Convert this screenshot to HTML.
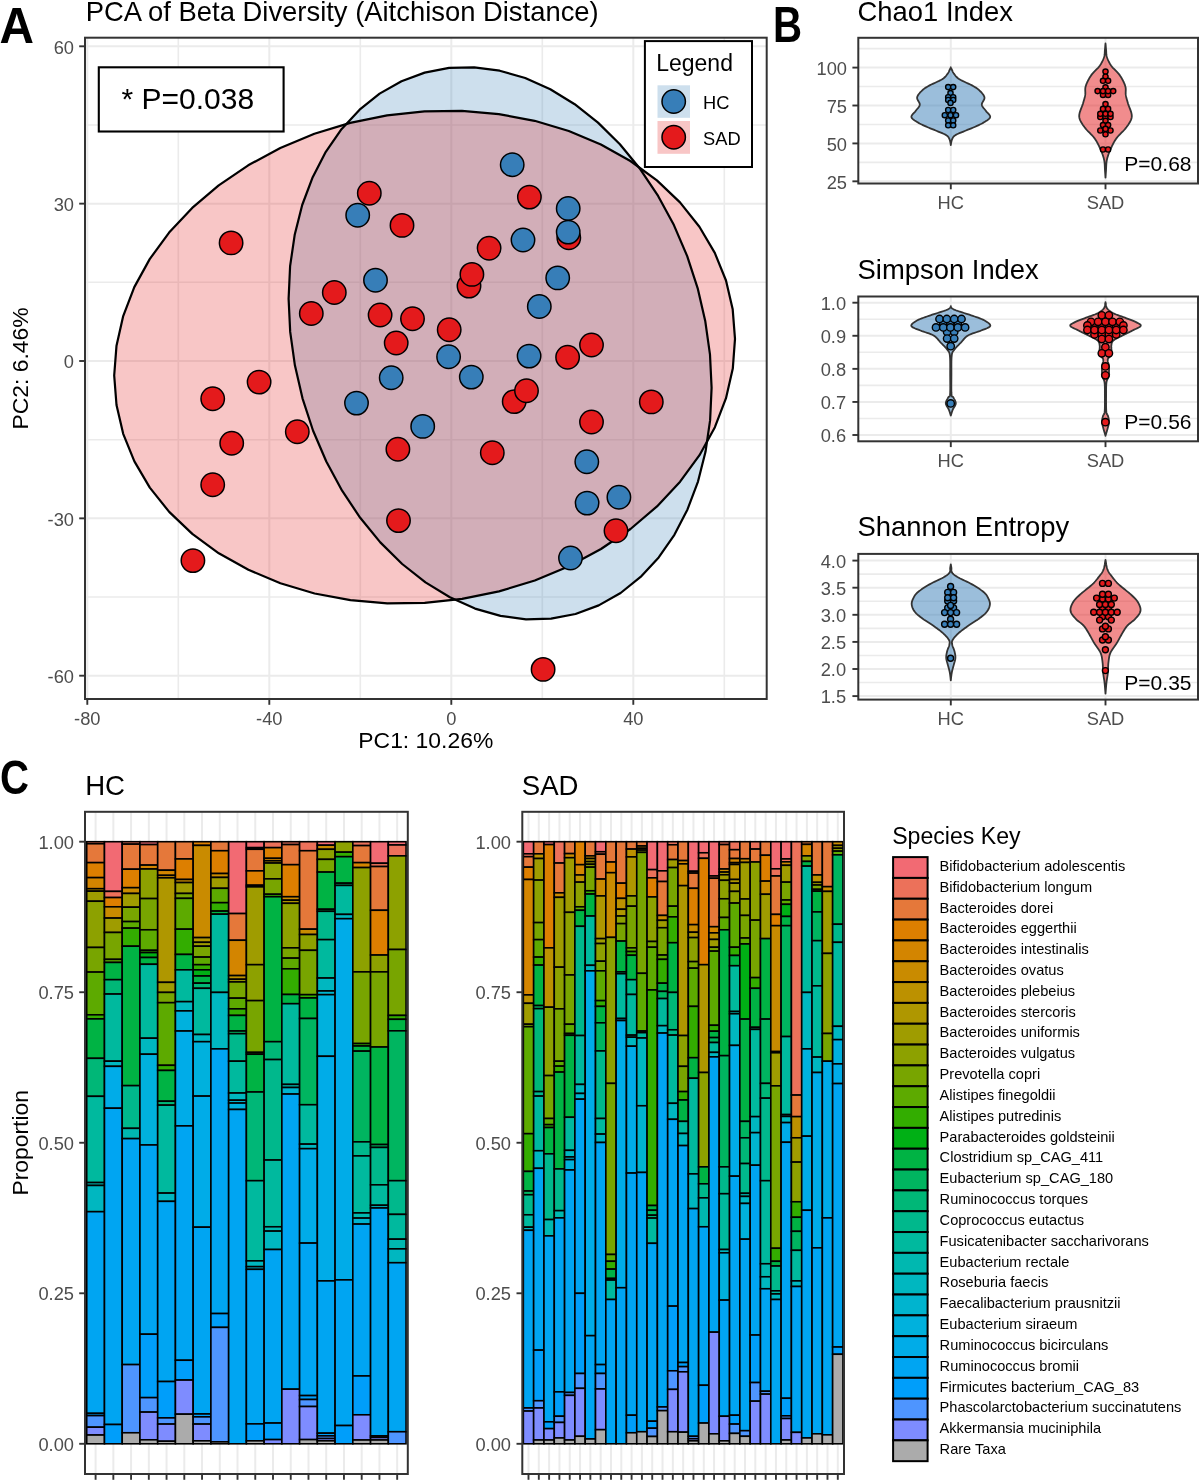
<!DOCTYPE html>
<html><head><meta charset="utf-8"><style>
html,body{margin:0;padding:0;background:#fff;}
svg{display:block;will-change:transform;}
text{font-family:"Liberation Sans",sans-serif;}
</style></head><body>
<svg width="1200" height="1480" viewBox="0 0 1200 1480" font-family="Liberation Sans, sans-serif">
<rect x="0" y="0" width="1200" height="1480" fill="#fff"/>
<rect x="85.0" y="37.7" width="681.7" height="661.3" fill="#fff"/>
<line x1="178.3" y1="37.7" x2="178.3" y2="699" stroke="#EBEBEB" stroke-width="1.6"/>
<line x1="360.3" y1="37.7" x2="360.3" y2="699" stroke="#EBEBEB" stroke-width="1.6"/>
<line x1="542.3" y1="37.7" x2="542.3" y2="699" stroke="#EBEBEB" stroke-width="1.6"/>
<line x1="724.3" y1="37.7" x2="724.3" y2="699" stroke="#EBEBEB" stroke-width="1.6"/>
<line x1="85" y1="124.97" x2="766.7" y2="124.97" stroke="#EBEBEB" stroke-width="1.6"/>
<line x1="85" y1="282.32" x2="766.7" y2="282.32" stroke="#EBEBEB" stroke-width="1.6"/>
<line x1="85" y1="439.68" x2="766.7" y2="439.68" stroke="#EBEBEB" stroke-width="1.6"/>
<line x1="85" y1="597.02" x2="766.7" y2="597.02" stroke="#EBEBEB" stroke-width="1.6"/>
<line x1="87.3" y1="37.7" x2="87.3" y2="699" stroke="#EBEBEB" stroke-width="2.0"/>
<line x1="269.3" y1="37.7" x2="269.3" y2="699" stroke="#EBEBEB" stroke-width="2.0"/>
<line x1="451.3" y1="37.7" x2="451.3" y2="699" stroke="#EBEBEB" stroke-width="2.0"/>
<line x1="633.3" y1="37.7" x2="633.3" y2="699" stroke="#EBEBEB" stroke-width="2.0"/>
<line x1="85" y1="46.3" x2="766.7" y2="46.3" stroke="#EBEBEB" stroke-width="2.0"/>
<line x1="85" y1="203.65" x2="766.7" y2="203.65" stroke="#EBEBEB" stroke-width="2.0"/>
<line x1="85" y1="361" x2="766.7" y2="361" stroke="#EBEBEB" stroke-width="2.0"/>
<line x1="85" y1="518.35" x2="766.7" y2="518.35" stroke="#EBEBEB" stroke-width="2.0"/>
<line x1="85" y1="675.7" x2="766.7" y2="675.7" stroke="#EBEBEB" stroke-width="2.0"/>
<polygon points="424.7,72.6 449.1,67.9 474.2,67.3 499.7,70.7 525.2,78.0 550.3,89.3 574.7,104.2 598.0,122.6 619.9,144.2 640.0,168.8 658.1,195.9 673.9,225.1 687.2,256.1 697.7,288.3 705.3,321.3 710.0,354.7 711.6,387.8 710.1,420.4 705.5,451.8 698.0,481.6 687.5,509.4 674.4,534.8 658.7,557.4 640.6,576.9 620.6,593.0 598.7,605.4 575.5,614.0 551.1,618.7 526.0,619.3 500.5,615.9 475.0,608.6 449.9,597.3 425.5,582.4 402.2,564.0 380.3,542.4 360.2,517.8 342.1,490.7 326.3,461.5 313.0,430.5 302.5,398.3 294.9,365.3 290.2,331.9 288.6,298.8 290.1,266.2 294.7,234.8 302.2,205.0 312.7,177.2 325.8,151.8 341.5,129.2 359.6,109.7 379.6,93.6 401.5,81.2" fill="#377EB8" fill-opacity="0.25"/>
<polygon points="116.5,405.0 114.2,375.5 116.5,345.7 123.2,316.1 134.3,287.1 149.7,259.1 169.1,232.6 192.2,207.9 218.7,185.3 248.2,165.3 280.3,148.0 314.4,133.8 350.2,122.9 387.1,115.4 424.5,111.4 461.9,110.9 498.8,114.1 534.6,120.8 568.8,131.0 600.9,144.5 630.4,161.0 656.9,180.4 680.0,202.4 699.4,226.7 714.8,252.9 726.0,280.5 732.7,309.3 735.0,338.8 732.8,368.6 726.0,398.2 714.9,427.2 699.5,455.2 680.1,481.7 657.0,506.4 630.5,529.0 601.0,549.0 569.0,566.3 534.8,580.5 499.0,591.4 462.1,598.9 424.7,602.9 387.3,603.4 350.4,600.2 314.6,593.5 280.4,583.3 248.4,569.8 218.8,553.3 192.3,533.9 169.2,511.9 149.8,487.6 134.4,461.4 123.2,433.8" fill="#E41A1C" fill-opacity="0.25"/>
<polygon points="424.7,72.6 449.1,67.9 474.2,67.3 499.7,70.7 525.2,78.0 550.3,89.3 574.7,104.2 598.0,122.6 619.9,144.2 640.0,168.8 658.1,195.9 673.9,225.1 687.2,256.1 697.7,288.3 705.3,321.3 710.0,354.7 711.6,387.8 710.1,420.4 705.5,451.8 698.0,481.6 687.5,509.4 674.4,534.8 658.7,557.4 640.6,576.9 620.6,593.0 598.7,605.4 575.5,614.0 551.1,618.7 526.0,619.3 500.5,615.9 475.0,608.6 449.9,597.3 425.5,582.4 402.2,564.0 380.3,542.4 360.2,517.8 342.1,490.7 326.3,461.5 313.0,430.5 302.5,398.3 294.9,365.3 290.2,331.9 288.6,298.8 290.1,266.2 294.7,234.8 302.2,205.0 312.7,177.2 325.8,151.8 341.5,129.2 359.6,109.7 379.6,93.6 401.5,81.2" fill="none" stroke="#000" stroke-width="2.2" stroke-linejoin="round"/>
<polygon points="116.5,405.0 114.2,375.5 116.5,345.7 123.2,316.1 134.3,287.1 149.7,259.1 169.1,232.6 192.2,207.9 218.7,185.3 248.2,165.3 280.3,148.0 314.4,133.8 350.2,122.9 387.1,115.4 424.5,111.4 461.9,110.9 498.8,114.1 534.6,120.8 568.8,131.0 600.9,144.5 630.4,161.0 656.9,180.4 680.0,202.4 699.4,226.7 714.8,252.9 726.0,280.5 732.7,309.3 735.0,338.8 732.8,368.6 726.0,398.2 714.9,427.2 699.5,455.2 680.1,481.7 657.0,506.4 630.5,529.0 601.0,549.0 569.0,566.3 534.8,580.5 499.0,591.4 462.1,598.9 424.7,602.9 387.3,603.4 350.4,600.2 314.6,593.5 280.4,583.3 248.4,569.8 218.8,553.3 192.3,533.9 169.2,511.9 149.8,487.6 134.4,461.4 123.2,433.8" fill="none" stroke="#000" stroke-width="2.2" stroke-linejoin="round"/>
<circle cx="231.1" cy="242.9" r="11.7" fill="#E41A1C" stroke="#000" stroke-width="1.5"/>
<circle cx="369.3" cy="193.3" r="11.7" fill="#E41A1C" stroke="#000" stroke-width="1.5"/>
<circle cx="402" cy="225.4" r="11.7" fill="#E41A1C" stroke="#000" stroke-width="1.5"/>
<circle cx="334.3" cy="292.5" r="11.7" fill="#E41A1C" stroke="#000" stroke-width="1.5"/>
<circle cx="311.3" cy="313.5" r="11.7" fill="#E41A1C" stroke="#000" stroke-width="1.5"/>
<circle cx="380.1" cy="315" r="11.7" fill="#E41A1C" stroke="#000" stroke-width="1.5"/>
<circle cx="412.5" cy="318.8" r="11.7" fill="#E41A1C" stroke="#000" stroke-width="1.5"/>
<circle cx="396.2" cy="343" r="11.7" fill="#E41A1C" stroke="#000" stroke-width="1.5"/>
<circle cx="259.1" cy="382.1" r="11.7" fill="#E41A1C" stroke="#000" stroke-width="1.5"/>
<circle cx="212.7" cy="398.7" r="11.7" fill="#E41A1C" stroke="#000" stroke-width="1.5"/>
<circle cx="231.7" cy="443.3" r="11.7" fill="#E41A1C" stroke="#000" stroke-width="1.5"/>
<circle cx="297.3" cy="431.7" r="11.7" fill="#E41A1C" stroke="#000" stroke-width="1.5"/>
<circle cx="212.7" cy="484.8" r="11.7" fill="#E41A1C" stroke="#000" stroke-width="1.5"/>
<circle cx="192.9" cy="560.6" r="11.7" fill="#E41A1C" stroke="#000" stroke-width="1.5"/>
<circle cx="397.9" cy="449.2" r="11.7" fill="#E41A1C" stroke="#000" stroke-width="1.5"/>
<circle cx="398.5" cy="520.6" r="11.7" fill="#E41A1C" stroke="#000" stroke-width="1.5"/>
<circle cx="529.4" cy="197.1" r="11.7" fill="#E41A1C" stroke="#000" stroke-width="1.5"/>
<circle cx="568.8" cy="237.7" r="11.7" fill="#E41A1C" stroke="#000" stroke-width="1.5"/>
<circle cx="489.1" cy="248.2" r="11.7" fill="#E41A1C" stroke="#000" stroke-width="1.5"/>
<circle cx="469" cy="286.1" r="11.7" fill="#E41A1C" stroke="#000" stroke-width="1.5"/>
<circle cx="471.9" cy="274.4" r="11.7" fill="#E41A1C" stroke="#000" stroke-width="1.5"/>
<circle cx="449.2" cy="329.8" r="11.7" fill="#E41A1C" stroke="#000" stroke-width="1.5"/>
<circle cx="591.5" cy="345" r="11.7" fill="#E41A1C" stroke="#000" stroke-width="1.5"/>
<circle cx="567.6" cy="357.3" r="11.7" fill="#E41A1C" stroke="#000" stroke-width="1.5"/>
<circle cx="514.2" cy="401.6" r="11.7" fill="#E41A1C" stroke="#000" stroke-width="1.5"/>
<circle cx="526.5" cy="390.8" r="11.7" fill="#E41A1C" stroke="#000" stroke-width="1.5"/>
<circle cx="651.3" cy="401.9" r="11.7" fill="#E41A1C" stroke="#000" stroke-width="1.5"/>
<circle cx="591.5" cy="422" r="11.7" fill="#E41A1C" stroke="#000" stroke-width="1.5"/>
<circle cx="492.3" cy="452.7" r="11.7" fill="#E41A1C" stroke="#000" stroke-width="1.5"/>
<circle cx="616" cy="530.8" r="11.7" fill="#E41A1C" stroke="#000" stroke-width="1.5"/>
<circle cx="543.1" cy="669.4" r="11.7" fill="#E41A1C" stroke="#000" stroke-width="1.5"/>
<circle cx="357.7" cy="215.2" r="11.7" fill="#377EB8" stroke="#000" stroke-width="1.5"/>
<circle cx="375.5" cy="280.2" r="11.7" fill="#377EB8" stroke="#000" stroke-width="1.5"/>
<circle cx="391.2" cy="377.7" r="11.7" fill="#377EB8" stroke="#000" stroke-width="1.5"/>
<circle cx="356.5" cy="403.1" r="11.7" fill="#377EB8" stroke="#000" stroke-width="1.5"/>
<circle cx="422.7" cy="426.4" r="11.7" fill="#377EB8" stroke="#000" stroke-width="1.5"/>
<circle cx="512.2" cy="164.7" r="11.7" fill="#377EB8" stroke="#000" stroke-width="1.5"/>
<circle cx="568.2" cy="208.5" r="11.7" fill="#377EB8" stroke="#000" stroke-width="1.5"/>
<circle cx="568.2" cy="232.1" r="11.7" fill="#377EB8" stroke="#000" stroke-width="1.5"/>
<circle cx="523" cy="240" r="11.7" fill="#377EB8" stroke="#000" stroke-width="1.5"/>
<circle cx="557.7" cy="277.9" r="11.7" fill="#377EB8" stroke="#000" stroke-width="1.5"/>
<circle cx="539.3" cy="306.5" r="11.7" fill="#377EB8" stroke="#000" stroke-width="1.5"/>
<circle cx="448.6" cy="356.7" r="11.7" fill="#377EB8" stroke="#000" stroke-width="1.5"/>
<circle cx="529.1" cy="356.1" r="11.7" fill="#377EB8" stroke="#000" stroke-width="1.5"/>
<circle cx="471.3" cy="377.1" r="11.7" fill="#377EB8" stroke="#000" stroke-width="1.5"/>
<circle cx="586.8" cy="461.7" r="11.7" fill="#377EB8" stroke="#000" stroke-width="1.5"/>
<circle cx="618.9" cy="497.3" r="11.7" fill="#377EB8" stroke="#000" stroke-width="1.5"/>
<circle cx="587.1" cy="503.1" r="11.7" fill="#377EB8" stroke="#000" stroke-width="1.5"/>
<circle cx="570.5" cy="558" r="11.7" fill="#377EB8" stroke="#000" stroke-width="1.5"/>
<rect x="98.8" y="67.3" width="184.8" height="64.2" fill="#fff" stroke="#000" stroke-width="2.1"/>
<text x="121.5" y="109.3" font-size="30" text-anchor="start" fill="#000" >* P=0.038</text>
<rect x="644.9" y="41.1" width="107.1" height="125.9" fill="#fff" stroke="#000" stroke-width="2.0"/>
<text x="656.2" y="71" font-size="23" text-anchor="start" fill="#000" >Legend</text>
<rect x="657.5" y="85.3" width="32.5" height="32.5" fill="#CDDFED"/>
<rect x="657.5" y="121" width="32.5" height="32.8" fill="#F8C6C6"/>
<circle cx="673.7" cy="101.5" r="11.7" fill="#377EB8" stroke="#000" stroke-width="1.5"/>
<circle cx="673.7" cy="137.3" r="11.7" fill="#E41A1C" stroke="#000" stroke-width="1.5"/>
<text x="703" y="108.8" font-size="18.3" text-anchor="start" fill="#000" >HC</text>
<text x="703" y="144.5" font-size="18.3" text-anchor="start" fill="#000" >SAD</text>
<rect x="85.0" y="37.7" width="681.7" height="661.3" fill="none" stroke="#333333" stroke-width="2.0"/>
<line x1="79.2" y1="46.3" x2="85" y2="46.3" stroke="#333333" stroke-width="1.9"/>
<text x="74" y="53.5" font-size="18.3" text-anchor="end" fill="#4D4D4D" >60</text>
<line x1="79.2" y1="203.65" x2="85" y2="203.65" stroke="#333333" stroke-width="1.9"/>
<text x="74" y="210.85" font-size="18.3" text-anchor="end" fill="#4D4D4D" >30</text>
<line x1="79.2" y1="361" x2="85" y2="361" stroke="#333333" stroke-width="1.9"/>
<text x="74" y="368.2" font-size="18.3" text-anchor="end" fill="#4D4D4D" >0</text>
<line x1="79.2" y1="518.35" x2="85" y2="518.35" stroke="#333333" stroke-width="1.9"/>
<text x="74" y="525.55" font-size="18.3" text-anchor="end" fill="#4D4D4D" >-30</text>
<line x1="79.2" y1="675.7" x2="85" y2="675.7" stroke="#333333" stroke-width="1.9"/>
<text x="74" y="682.9" font-size="18.3" text-anchor="end" fill="#4D4D4D" >-60</text>
<line x1="87.3" y1="699" x2="87.3" y2="704.8" stroke="#333333" stroke-width="1.9"/>
<text x="87.3" y="725" font-size="18.3" text-anchor="middle" fill="#4D4D4D" >-80</text>
<line x1="269.3" y1="699" x2="269.3" y2="704.8" stroke="#333333" stroke-width="1.9"/>
<text x="269.3" y="725" font-size="18.3" text-anchor="middle" fill="#4D4D4D" >-40</text>
<line x1="451.3" y1="699" x2="451.3" y2="704.8" stroke="#333333" stroke-width="1.9"/>
<text x="451.3" y="725" font-size="18.3" text-anchor="middle" fill="#4D4D4D" >0</text>
<line x1="633.3" y1="699" x2="633.3" y2="704.8" stroke="#333333" stroke-width="1.9"/>
<text x="633.3" y="725" font-size="18.3" text-anchor="middle" fill="#4D4D4D" >40</text>
<text x="425.8" y="747.7" font-size="22.9" text-anchor="middle" fill="#000" >PC1: 10.26%</text>
<text transform="translate(28.2,368.4) rotate(-90)" font-size="22.9" text-anchor="middle" fill="#000">PC2: 6.46%</text>
<text x="85.7" y="20.7" font-size="27.4" text-anchor="start" fill="#000" >PCA of Beta Diversity (Aitchison Distance)</text>
<text x="0" y="0" font-size="50.8" font-weight="bold" fill="#000" transform="translate(-0.5,42.5) scale(0.94,1)">A</text>
<rect x="858.3" y="37.8" width="339.70000000000005" height="145.7" fill="#fff"/>
<line x1="858.3" y1="48.64" x2="1198" y2="48.64" stroke="#EBEBEB" stroke-width="1.6"/>
<line x1="858.3" y1="86.55" x2="1198" y2="86.55" stroke="#EBEBEB" stroke-width="1.6"/>
<line x1="858.3" y1="124.47" x2="1198" y2="124.47" stroke="#EBEBEB" stroke-width="1.6"/>
<line x1="858.3" y1="162.38" x2="1198" y2="162.38" stroke="#EBEBEB" stroke-width="1.6"/>
<line x1="858.3" y1="67.6" x2="1198" y2="67.6" stroke="#EBEBEB" stroke-width="2.0"/>
<line x1="858.3" y1="105.51" x2="1198" y2="105.51" stroke="#EBEBEB" stroke-width="2.0"/>
<line x1="858.3" y1="143.42" x2="1198" y2="143.42" stroke="#EBEBEB" stroke-width="2.0"/>
<line x1="858.3" y1="181.33" x2="1198" y2="181.33" stroke="#EBEBEB" stroke-width="2.0"/>
<line x1="950.8" y1="37.8" x2="950.8" y2="183.5" stroke="#EBEBEB" stroke-width="2.0"/>
<line x1="1105.5" y1="37.8" x2="1105.5" y2="183.5" stroke="#EBEBEB" stroke-width="2.0"/>
<text x="857.6" y="20.6" font-size="27.4" text-anchor="start" fill="#000" >Chao1 Index</text>
<polygon points="950.80,67.30 950.89,67.50 950.99,67.76 951.12,68.06 951.27,68.41 951.43,68.78 951.61,69.18 951.80,69.59 952.00,70.00 952.20,70.42 952.39,70.86 952.58,71.31 952.79,71.79 953.04,72.28 953.33,72.80 953.68,73.34 954.10,73.90 954.55,74.48 954.99,75.09 955.47,75.71 956.00,76.36 956.63,77.03 957.38,77.72 958.29,78.45 959.40,79.20 960.79,80.01 962.47,80.87 964.35,81.78 966.34,82.70 968.35,83.62 970.27,84.53 972.02,85.39 973.50,86.20 974.74,86.94 975.82,87.62 976.78,88.27 977.63,88.90 978.41,89.52 979.13,90.15 979.82,90.81 980.50,91.50 981.19,92.23 981.87,92.97 982.51,93.72 983.11,94.49 983.62,95.28 984.04,96.07 984.34,96.88 984.50,97.70 984.44,98.54 984.14,99.41 983.68,100.31 983.15,101.21 982.62,102.11 982.16,102.99 981.86,103.86 981.80,104.70 981.98,105.50 982.32,106.29 982.79,107.05 983.36,107.80 983.98,108.54 984.61,109.29 985.24,110.04 985.80,110.80 986.40,111.58 987.12,112.36 987.89,113.16 988.64,113.95 989.31,114.74 989.84,115.51 990.15,116.27 990.20,117.00 989.95,117.71 989.46,118.41 988.77,119.09 987.92,119.76 986.98,120.42 985.98,121.06 984.97,121.69 984.00,122.30 983.04,122.89 982.02,123.47 980.97,124.02 979.87,124.56 978.74,125.10 977.58,125.63 976.40,126.16 975.20,126.70 973.96,127.24 972.68,127.78 971.35,128.32 970.01,128.85 968.65,129.38 967.31,129.92 965.99,130.46 964.70,131.00 963.40,131.55 962.06,132.09 960.71,132.64 959.39,133.19 958.12,133.75 956.94,134.30 955.89,134.85 955.00,135.40 954.28,135.94 953.71,136.48 953.27,137.01 952.91,137.54 952.63,138.08 952.38,138.64 952.15,139.21 951.90,139.80 951.66,140.46 951.46,141.19 951.29,141.95 951.16,142.73 951.04,143.46 950.95,144.13 950.87,144.68 950.80,145.10 950.80,145.10 950.73,144.68 950.65,144.13 950.56,143.46 950.44,142.73 950.31,141.95 950.14,141.19 949.94,140.46 949.70,139.80 949.45,139.21 949.22,138.64 948.97,138.08 948.69,137.54 948.33,137.01 947.89,136.48 947.32,135.94 946.60,135.40 945.71,134.85 944.66,134.30 943.48,133.75 942.21,133.19 940.89,132.64 939.54,132.09 938.20,131.55 936.90,131.00 935.61,130.46 934.29,129.92 932.95,129.38 931.59,128.85 930.25,128.32 928.92,127.78 927.64,127.24 926.40,126.70 925.20,126.16 924.02,125.63 922.86,125.10 921.73,124.56 920.63,124.02 919.58,123.47 918.56,122.89 917.60,122.30 916.63,121.69 915.62,121.06 914.62,120.42 913.67,119.76 912.83,119.09 912.14,118.41 911.65,117.71 911.40,117.00 911.45,116.27 911.76,115.51 912.29,114.74 912.96,113.95 913.71,113.16 914.48,112.36 915.20,111.58 915.80,110.80 916.36,110.04 916.99,109.29 917.62,108.54 918.24,107.80 918.81,107.05 919.28,106.29 919.62,105.50 919.80,104.70 919.74,103.86 919.44,102.99 918.98,102.11 918.45,101.21 917.92,100.31 917.46,99.41 917.16,98.54 917.10,97.70 917.26,96.88 917.56,96.07 917.98,95.28 918.49,94.49 919.09,93.72 919.73,92.97 920.41,92.23 921.10,91.50 921.78,90.81 922.47,90.15 923.19,89.52 923.97,88.90 924.82,88.27 925.78,87.62 926.86,86.94 928.10,86.20 929.58,85.39 931.33,84.53 933.25,83.62 935.26,82.70 937.25,81.78 939.13,80.87 940.81,80.01 942.20,79.20 943.31,78.45 944.22,77.72 944.97,77.03 945.60,76.36 946.13,75.71 946.61,75.09 947.05,74.48 947.50,73.90 947.92,73.34 948.27,72.80 948.56,72.28 948.81,71.79 949.02,71.31 949.21,70.86 949.40,70.42 949.60,70.00 949.80,69.59 949.99,69.18 950.17,68.78 950.33,68.41 950.48,68.06 950.61,67.76 950.71,67.50 950.80,67.30" fill="#377EB8" fill-opacity="0.5" stroke="#333333" stroke-width="1.8" stroke-linejoin="round"/>
<polygon points="1105.50,43.50 1105.54,44.00 1105.60,44.66 1105.67,45.44 1105.75,46.31 1105.83,47.24 1105.92,48.19 1106.01,49.12 1106.10,50.00 1106.17,50.84 1106.20,51.67 1106.23,52.51 1106.27,53.36 1106.33,54.23 1106.45,55.12 1106.63,56.04 1106.90,57.00 1107.24,58.00 1107.63,59.03 1108.06,60.09 1108.56,61.18 1109.11,62.29 1109.73,63.41 1110.43,64.55 1111.20,65.70 1112.10,66.86 1113.14,68.03 1114.29,69.22 1115.48,70.42 1116.69,71.64 1117.85,72.87 1118.94,74.13 1119.90,75.40 1120.77,76.71 1121.60,78.07 1122.38,79.46 1123.11,80.86 1123.78,82.26 1124.37,83.62 1124.88,84.94 1125.30,86.20 1125.59,87.39 1125.73,88.53 1125.77,89.62 1125.75,90.69 1125.70,91.74 1125.67,92.78 1125.69,93.83 1125.80,94.90 1125.98,95.95 1126.19,96.95 1126.43,97.94 1126.69,98.93 1126.98,99.96 1127.30,101.04 1127.64,102.22 1128.00,103.50 1128.46,104.93 1129.05,106.49 1129.71,108.15 1130.38,109.86 1130.98,111.59 1131.46,113.30 1131.75,114.95 1131.80,116.50 1131.60,117.96 1131.20,119.35 1130.64,120.71 1129.95,122.04 1129.15,123.35 1128.28,124.65 1127.35,125.97 1126.40,127.30 1125.36,128.65 1124.17,130.00 1122.88,131.35 1121.53,132.70 1120.18,134.05 1118.88,135.40 1117.67,136.75 1116.60,138.10 1115.66,139.45 1114.80,140.80 1114.01,142.15 1113.28,143.50 1112.59,144.85 1111.94,146.20 1111.31,147.55 1110.70,148.90 1110.10,150.25 1109.53,151.60 1108.99,152.95 1108.49,154.30 1108.02,155.65 1107.60,157.00 1107.22,158.35 1106.90,159.70 1106.65,161.08 1106.46,162.49 1106.33,163.91 1106.24,165.33 1106.18,166.72 1106.13,168.06 1106.07,169.33 1106.00,170.50 1105.91,171.61 1105.84,172.70 1105.76,173.75 1105.69,174.72 1105.63,175.62 1105.58,176.41 1105.54,177.08 1105.50,177.60 1105.50,177.60 1105.46,177.08 1105.42,176.41 1105.37,175.62 1105.31,174.72 1105.24,173.75 1105.16,172.70 1105.09,171.61 1105.00,170.50 1104.93,169.33 1104.87,168.06 1104.82,166.72 1104.76,165.33 1104.67,163.91 1104.54,162.49 1104.35,161.08 1104.10,159.70 1103.78,158.35 1103.40,157.00 1102.98,155.65 1102.51,154.30 1102.01,152.95 1101.47,151.60 1100.90,150.25 1100.30,148.90 1099.69,147.55 1099.06,146.20 1098.41,144.85 1097.72,143.50 1096.99,142.15 1096.20,140.80 1095.34,139.45 1094.40,138.10 1093.33,136.75 1092.12,135.40 1090.82,134.05 1089.47,132.70 1088.12,131.35 1086.83,130.00 1085.64,128.65 1084.60,127.30 1083.65,125.97 1082.72,124.65 1081.85,123.35 1081.05,122.04 1080.36,120.71 1079.80,119.35 1079.40,117.96 1079.20,116.50 1079.25,114.95 1079.54,113.30 1080.02,111.59 1080.62,109.86 1081.29,108.15 1081.95,106.49 1082.54,104.93 1083.00,103.50 1083.36,102.22 1083.70,101.04 1084.02,99.96 1084.31,98.93 1084.57,97.94 1084.81,96.95 1085.02,95.95 1085.20,94.90 1085.31,93.83 1085.33,92.78 1085.30,91.74 1085.25,90.69 1085.23,89.62 1085.27,88.53 1085.41,87.39 1085.70,86.20 1086.12,84.94 1086.63,83.62 1087.22,82.26 1087.89,80.86 1088.62,79.46 1089.40,78.07 1090.23,76.71 1091.10,75.40 1092.06,74.13 1093.15,72.87 1094.31,71.64 1095.52,70.42 1096.71,69.22 1097.86,68.03 1098.90,66.86 1099.80,65.70 1100.57,64.55 1101.27,63.41 1101.89,62.29 1102.44,61.18 1102.94,60.09 1103.37,59.03 1103.76,58.00 1104.10,57.00 1104.37,56.04 1104.55,55.12 1104.67,54.23 1104.73,53.36 1104.77,52.51 1104.80,51.67 1104.83,50.84 1104.90,50.00 1104.99,49.12 1105.08,48.19 1105.17,47.24 1105.25,46.31 1105.33,45.44 1105.40,44.66 1105.46,44.00 1105.50,43.50" fill="#E41A1C" fill-opacity="0.5" stroke="#333333" stroke-width="1.8" stroke-linejoin="round"/>
<circle cx="948.2" cy="87.1" r="2.6" fill="#377EB8" stroke="#000" stroke-width="1.4"/>
<circle cx="953.2" cy="87.1" r="2.6" fill="#377EB8" stroke="#000" stroke-width="1.4"/>
<circle cx="950.5" cy="93.1" r="2.6" fill="#377EB8" stroke="#000" stroke-width="1.4"/>
<circle cx="948.2" cy="97.2" r="2.6" fill="#377EB8" stroke="#000" stroke-width="1.4"/>
<circle cx="953.2" cy="97.2" r="2.6" fill="#377EB8" stroke="#000" stroke-width="1.4"/>
<circle cx="948.2" cy="100" r="2.6" fill="#377EB8" stroke="#000" stroke-width="1.4"/>
<circle cx="953.2" cy="100" r="2.6" fill="#377EB8" stroke="#000" stroke-width="1.4"/>
<circle cx="950.5" cy="102.9" r="2.6" fill="#377EB8" stroke="#000" stroke-width="1.4"/>
<circle cx="948.2" cy="110" r="2.6" fill="#377EB8" stroke="#000" stroke-width="1.4"/>
<circle cx="953.2" cy="110" r="2.6" fill="#377EB8" stroke="#000" stroke-width="1.4"/>
<circle cx="944.8" cy="115.2" r="2.6" fill="#377EB8" stroke="#000" stroke-width="1.4"/>
<circle cx="950.5" cy="115.2" r="2.6" fill="#377EB8" stroke="#000" stroke-width="1.4"/>
<circle cx="956" cy="115.2" r="2.6" fill="#377EB8" stroke="#000" stroke-width="1.4"/>
<circle cx="948.2" cy="120.5" r="2.6" fill="#377EB8" stroke="#000" stroke-width="1.4"/>
<circle cx="953.2" cy="120.5" r="2.6" fill="#377EB8" stroke="#000" stroke-width="1.4"/>
<circle cx="948.2" cy="125.3" r="2.6" fill="#377EB8" stroke="#000" stroke-width="1.4"/>
<circle cx="953.2" cy="125.3" r="2.6" fill="#377EB8" stroke="#000" stroke-width="1.4"/>
<circle cx="1105.5" cy="71.6" r="2.6" fill="#E41A1C" stroke="#000" stroke-width="1.4"/>
<circle cx="1105.5" cy="76.7" r="2.6" fill="#E41A1C" stroke="#000" stroke-width="1.4"/>
<circle cx="1103" cy="80.8" r="2.6" fill="#E41A1C" stroke="#000" stroke-width="1.4"/>
<circle cx="1108.1" cy="80.8" r="2.6" fill="#E41A1C" stroke="#000" stroke-width="1.4"/>
<circle cx="1105.5" cy="87.3" r="2.6" fill="#E41A1C" stroke="#000" stroke-width="1.4"/>
<circle cx="1103" cy="94.9" r="2.6" fill="#E41A1C" stroke="#000" stroke-width="1.4"/>
<circle cx="1108.1" cy="94.9" r="2.6" fill="#E41A1C" stroke="#000" stroke-width="1.4"/>
<circle cx="1097.6" cy="91.1" r="2.6" fill="#E41A1C" stroke="#000" stroke-width="1.4"/>
<circle cx="1103" cy="91.1" r="2.6" fill="#E41A1C" stroke="#000" stroke-width="1.4"/>
<circle cx="1108.1" cy="91.1" r="2.6" fill="#E41A1C" stroke="#000" stroke-width="1.4"/>
<circle cx="1113.2" cy="91.1" r="2.6" fill="#E41A1C" stroke="#000" stroke-width="1.4"/>
<circle cx="1105.5" cy="104.1" r="2.6" fill="#E41A1C" stroke="#000" stroke-width="1.4"/>
<circle cx="1103" cy="108.9" r="2.6" fill="#E41A1C" stroke="#000" stroke-width="1.4"/>
<circle cx="1108.1" cy="108.9" r="2.6" fill="#E41A1C" stroke="#000" stroke-width="1.4"/>
<circle cx="1100.3" cy="117" r="2.6" fill="#E41A1C" stroke="#000" stroke-width="1.4"/>
<circle cx="1105.5" cy="117" r="2.6" fill="#E41A1C" stroke="#000" stroke-width="1.4"/>
<circle cx="1110.5" cy="117" r="2.6" fill="#E41A1C" stroke="#000" stroke-width="1.4"/>
<circle cx="1100.3" cy="113.8" r="2.6" fill="#E41A1C" stroke="#000" stroke-width="1.4"/>
<circle cx="1105.5" cy="113.8" r="2.6" fill="#E41A1C" stroke="#000" stroke-width="1.4"/>
<circle cx="1110.5" cy="113.8" r="2.6" fill="#E41A1C" stroke="#000" stroke-width="1.4"/>
<circle cx="1105.5" cy="120.8" r="2.6" fill="#E41A1C" stroke="#000" stroke-width="1.4"/>
<circle cx="1103" cy="125.1" r="2.6" fill="#E41A1C" stroke="#000" stroke-width="1.4"/>
<circle cx="1108.1" cy="125.1" r="2.6" fill="#E41A1C" stroke="#000" stroke-width="1.4"/>
<circle cx="1100.3" cy="130.5" r="2.6" fill="#E41A1C" stroke="#000" stroke-width="1.4"/>
<circle cx="1110.5" cy="130.5" r="2.6" fill="#E41A1C" stroke="#000" stroke-width="1.4"/>
<circle cx="1105.5" cy="128.9" r="2.6" fill="#E41A1C" stroke="#000" stroke-width="1.4"/>
<circle cx="1105.5" cy="134.3" r="2.6" fill="#E41A1C" stroke="#000" stroke-width="1.4"/>
<circle cx="1103" cy="149.5" r="2.6" fill="#E41A1C" stroke="#000" stroke-width="1.4"/>
<circle cx="1108.1" cy="149.5" r="2.6" fill="#E41A1C" stroke="#000" stroke-width="1.4"/>
<rect x="858.3" y="37.8" width="339.70000000000005" height="145.7" fill="none" stroke="#333333" stroke-width="2.0"/>
<line x1="852.4" y1="67.6" x2="858.3" y2="67.6" stroke="#333333" stroke-width="1.9"/>
<text x="847" y="74.8" font-size="18.3" text-anchor="end" fill="#4D4D4D" >100</text>
<line x1="852.4" y1="105.51" x2="858.3" y2="105.51" stroke="#333333" stroke-width="1.9"/>
<text x="847" y="112.71" font-size="18.3" text-anchor="end" fill="#4D4D4D" >75</text>
<line x1="852.4" y1="143.42" x2="858.3" y2="143.42" stroke="#333333" stroke-width="1.9"/>
<text x="847" y="150.62" font-size="18.3" text-anchor="end" fill="#4D4D4D" >50</text>
<line x1="852.4" y1="181.33" x2="858.3" y2="181.33" stroke="#333333" stroke-width="1.9"/>
<text x="847" y="188.53" font-size="18.3" text-anchor="end" fill="#4D4D4D" >25</text>
<line x1="950.8" y1="183.5" x2="950.8" y2="189.3" stroke="#333333" stroke-width="1.9"/>
<text x="950.8" y="208.6" font-size="18.3" text-anchor="middle" fill="#4D4D4D" >HC</text>
<line x1="1105.5" y1="183.5" x2="1105.5" y2="189.3" stroke="#333333" stroke-width="1.9"/>
<text x="1105.5" y="208.6" font-size="18.3" text-anchor="middle" fill="#4D4D4D" >SAD</text>
<text x="1191.5" y="171.3" font-size="21" text-anchor="end" fill="#000" >P=0.68</text>
<rect x="858.3" y="296.5" width="339.70000000000005" height="144.8" fill="#fff"/>
<line x1="858.3" y1="319.24" x2="1198" y2="319.24" stroke="#EBEBEB" stroke-width="1.6"/>
<line x1="858.3" y1="352.31" x2="1198" y2="352.31" stroke="#EBEBEB" stroke-width="1.6"/>
<line x1="858.3" y1="385.39" x2="1198" y2="385.39" stroke="#EBEBEB" stroke-width="1.6"/>
<line x1="858.3" y1="418.46" x2="1198" y2="418.46" stroke="#EBEBEB" stroke-width="1.6"/>
<line x1="858.3" y1="302.7" x2="1198" y2="302.7" stroke="#EBEBEB" stroke-width="2.0"/>
<line x1="858.3" y1="335.77" x2="1198" y2="335.77" stroke="#EBEBEB" stroke-width="2.0"/>
<line x1="858.3" y1="368.85" x2="1198" y2="368.85" stroke="#EBEBEB" stroke-width="2.0"/>
<line x1="858.3" y1="401.93" x2="1198" y2="401.93" stroke="#EBEBEB" stroke-width="2.0"/>
<line x1="858.3" y1="435" x2="1198" y2="435" stroke="#EBEBEB" stroke-width="2.0"/>
<line x1="950.8" y1="296.5" x2="950.8" y2="441.3" stroke="#EBEBEB" stroke-width="2.0"/>
<line x1="1105.5" y1="296.5" x2="1105.5" y2="441.3" stroke="#EBEBEB" stroke-width="2.0"/>
<text x="857.6" y="278.6" font-size="27.4" text-anchor="start" fill="#000" >Simpson Index</text>
<polygon points="950.80,306.10 950.89,306.28 950.98,306.53 951.08,306.82 951.21,307.14 951.38,307.49 951.61,307.84 951.91,308.18 952.30,308.50 952.74,308.80 953.21,309.08 953.73,309.35 954.31,309.63 954.99,309.93 955.78,310.25 956.71,310.60 957.80,311.00 959.09,311.45 960.58,311.93 962.22,312.45 963.97,312.99 965.78,313.56 967.61,314.13 969.39,314.72 971.10,315.30 972.79,315.89 974.55,316.49 976.33,317.10 978.10,317.72 979.81,318.35 981.42,318.99 982.90,319.64 984.20,320.30 985.40,320.98 986.57,321.68 987.67,322.40 988.64,323.12 989.43,323.85 990.01,324.56 990.31,325.24 990.30,325.90 989.92,326.52 989.19,327.11 988.18,327.68 986.96,328.24 985.58,328.79 984.12,329.35 982.64,329.91 981.20,330.50 979.70,331.09 978.05,331.67 976.28,332.25 974.47,332.84 972.68,333.45 970.97,334.09 969.39,334.77 968.00,335.50 966.82,336.29 965.78,337.13 964.87,338.01 964.04,338.92 963.26,339.85 962.50,340.78 961.72,341.70 960.90,342.60 960.02,343.49 959.12,344.40 958.21,345.31 957.32,346.21 956.46,347.11 955.66,348.00 954.93,348.86 954.30,349.70 953.77,350.42 953.31,350.99 952.93,351.49 952.61,351.99 952.33,352.60 952.09,353.38 951.89,354.42 951.70,355.80 951.55,357.57 951.45,359.68 951.40,362.04 951.38,364.57 951.38,367.22 951.39,369.89 951.40,372.51 951.40,375.00 951.38,377.52 951.36,380.20 951.33,382.95 951.32,385.66 951.32,388.25 951.35,390.62 951.40,392.67 951.50,394.30 951.64,395.43 951.81,396.12 952.02,396.48 952.25,396.62 952.50,396.66 952.76,396.71 953.03,396.89 953.30,397.30 953.62,397.91 954.00,398.61 954.43,399.36 954.85,400.16 955.23,400.98 955.55,401.80 955.75,402.62 955.80,403.40 955.68,404.16 955.41,404.92 955.03,405.69 954.58,406.45 954.09,407.21 953.61,407.97 953.16,408.74 952.80,409.50 952.49,410.30 952.18,411.17 951.89,412.06 951.61,412.93 951.36,413.76 951.14,414.50 950.95,415.13 950.80,415.60 950.80,415.60 950.65,415.13 950.46,414.50 950.24,413.76 949.99,412.93 949.71,412.06 949.42,411.17 949.11,410.30 948.80,409.50 948.44,408.74 947.99,407.97 947.51,407.21 947.02,406.45 946.57,405.69 946.19,404.92 945.92,404.16 945.80,403.40 945.85,402.62 946.05,401.80 946.37,400.98 946.75,400.16 947.17,399.36 947.60,398.61 947.98,397.91 948.30,397.30 948.57,396.89 948.84,396.71 949.10,396.66 949.35,396.62 949.58,396.48 949.79,396.12 949.96,395.43 950.10,394.30 950.20,392.67 950.25,390.62 950.28,388.25 950.28,385.66 950.27,382.95 950.24,380.20 950.22,377.52 950.20,375.00 950.20,372.51 950.21,369.89 950.22,367.22 950.22,364.57 950.20,362.04 950.15,359.68 950.05,357.57 949.90,355.80 949.71,354.42 949.51,353.38 949.27,352.60 948.99,351.99 948.67,351.49 948.29,350.99 947.83,350.42 947.30,349.70 946.67,348.86 945.94,348.00 945.14,347.11 944.28,346.21 943.39,345.31 942.48,344.40 941.58,343.49 940.70,342.60 939.88,341.70 939.10,340.78 938.34,339.85 937.56,338.92 936.73,338.01 935.82,337.13 934.78,336.29 933.60,335.50 932.21,334.77 930.63,334.09 928.92,333.45 927.12,332.84 925.32,332.25 923.55,331.67 921.90,331.09 920.40,330.50 918.96,329.91 917.48,329.35 916.02,328.79 914.64,328.24 913.42,327.68 912.41,327.11 911.68,326.52 911.30,325.90 911.29,325.24 911.59,324.56 912.17,323.85 912.96,323.12 913.93,322.40 915.03,321.68 916.20,320.98 917.40,320.30 918.70,319.64 920.18,318.99 921.79,318.35 923.50,317.72 925.27,317.10 927.05,316.49 928.81,315.89 930.50,315.30 932.21,314.72 933.99,314.13 935.82,313.56 937.62,312.99 939.38,312.45 941.02,311.93 942.51,311.45 943.80,311.00 944.89,310.60 945.82,310.25 946.61,309.93 947.29,309.63 947.87,309.35 948.39,309.08 948.86,308.80 949.30,308.50 949.69,308.18 949.99,307.84 950.22,307.49 950.39,307.14 950.52,306.82 950.62,306.53 950.71,306.28 950.80,306.10" fill="#377EB8" fill-opacity="0.5" stroke="#333333" stroke-width="1.8" stroke-linejoin="round"/>
<polygon points="1105.50,302.10 1105.58,302.58 1105.66,303.22 1105.74,303.99 1105.86,304.84 1106.02,305.73 1106.25,306.61 1106.57,307.45 1107.00,308.20 1107.51,308.88 1108.08,309.52 1108.71,310.15 1109.42,310.76 1110.22,311.37 1111.13,311.97 1112.15,312.58 1113.30,313.20 1114.64,313.84 1116.19,314.49 1117.89,315.15 1119.67,315.81 1121.48,316.46 1123.26,317.09 1124.96,317.71 1126.50,318.30 1127.94,318.86 1129.36,319.41 1130.74,319.94 1132.06,320.45 1133.32,320.95 1134.48,321.44 1135.55,321.92 1136.50,322.40 1137.39,322.86 1138.25,323.29 1139.04,323.71 1139.74,324.12 1140.29,324.53 1140.66,324.96 1140.81,325.41 1140.70,325.90 1140.28,326.42 1139.56,326.96 1138.61,327.53 1137.49,328.11 1136.25,328.70 1134.97,329.30 1133.70,329.90 1132.50,330.50 1131.33,331.11 1130.11,331.72 1128.85,332.34 1127.56,332.97 1126.27,333.60 1124.99,334.23 1123.72,334.87 1122.50,335.50 1121.26,336.13 1119.97,336.77 1118.67,337.41 1117.40,338.04 1116.19,338.68 1115.08,339.32 1114.10,339.96 1113.30,340.60 1112.69,341.23 1112.24,341.85 1111.93,342.47 1111.71,343.09 1111.57,343.72 1111.48,344.36 1111.40,345.02 1111.30,345.70 1111.23,346.42 1111.24,347.18 1111.29,347.96 1111.37,348.75 1111.45,349.53 1111.52,350.30 1111.54,351.03 1111.50,351.70 1111.40,352.32 1111.26,352.91 1111.10,353.46 1110.91,353.99 1110.70,354.50 1110.47,355.00 1110.24,355.50 1110.00,356.00 1109.73,356.48 1109.40,356.93 1109.04,357.36 1108.67,357.79 1108.33,358.23 1108.04,358.70 1107.82,359.22 1107.70,359.80 1107.70,360.45 1107.80,361.16 1107.98,361.92 1108.21,362.71 1108.45,363.51 1108.68,364.32 1108.88,365.12 1109.00,365.90 1109.06,366.68 1109.09,367.47 1109.10,368.28 1109.08,369.08 1109.06,369.87 1109.03,370.62 1109.01,371.34 1109.00,372.00 1109.02,372.59 1109.06,373.10 1109.11,373.56 1109.16,374.00 1109.18,374.44 1109.18,374.90 1109.12,375.41 1109.00,376.00 1108.79,376.62 1108.50,377.22 1108.15,377.83 1107.78,378.49 1107.39,379.22 1107.04,380.05 1106.73,381.00 1106.50,382.10 1106.35,383.36 1106.24,384.76 1106.17,386.28 1106.13,387.90 1106.11,389.60 1106.11,391.36 1106.11,393.17 1106.10,395.00 1106.09,396.97 1106.07,399.15 1106.07,401.45 1106.07,403.77 1106.09,406.03 1106.13,408.13 1106.20,409.99 1106.30,411.50 1106.45,412.63 1106.64,413.44 1106.86,414.02 1107.10,414.43 1107.35,414.76 1107.59,415.08 1107.81,415.47 1108.00,416.00 1108.17,416.65 1108.35,417.33 1108.51,418.03 1108.67,418.74 1108.80,419.47 1108.91,420.19 1108.98,420.90 1109.00,421.60 1108.98,422.26 1108.93,422.88 1108.84,423.49 1108.72,424.10 1108.57,424.73 1108.40,425.42 1108.21,426.16 1108.00,427.00 1107.74,428.00 1107.42,429.17 1107.06,430.44 1106.69,431.74 1106.32,433.00 1105.98,434.14 1105.70,435.10 1105.50,435.80 1105.50,435.80 1105.30,435.10 1105.02,434.14 1104.68,433.00 1104.31,431.74 1103.94,430.44 1103.58,429.17 1103.26,428.00 1103.00,427.00 1102.79,426.16 1102.60,425.42 1102.43,424.73 1102.28,424.10 1102.16,423.49 1102.07,422.88 1102.02,422.26 1102.00,421.60 1102.02,420.90 1102.09,420.19 1102.20,419.47 1102.33,418.74 1102.49,418.03 1102.65,417.33 1102.83,416.65 1103.00,416.00 1103.19,415.47 1103.41,415.08 1103.65,414.76 1103.90,414.43 1104.14,414.02 1104.36,413.44 1104.55,412.63 1104.70,411.50 1104.80,409.99 1104.87,408.13 1104.91,406.03 1104.93,403.77 1104.93,401.45 1104.93,399.15 1104.91,396.97 1104.90,395.00 1104.89,393.17 1104.89,391.36 1104.89,389.60 1104.87,387.90 1104.83,386.28 1104.76,384.76 1104.65,383.36 1104.50,382.10 1104.27,381.00 1103.96,380.05 1103.61,379.22 1103.22,378.49 1102.85,377.83 1102.50,377.22 1102.21,376.62 1102.00,376.00 1101.88,375.41 1101.82,374.90 1101.82,374.44 1101.84,374.00 1101.89,373.56 1101.94,373.10 1101.98,372.59 1102.00,372.00 1101.99,371.34 1101.97,370.62 1101.94,369.87 1101.92,369.08 1101.90,368.28 1101.91,367.47 1101.94,366.68 1102.00,365.90 1102.12,365.12 1102.32,364.32 1102.55,363.51 1102.79,362.71 1103.02,361.92 1103.20,361.16 1103.30,360.45 1103.30,359.80 1103.18,359.22 1102.96,358.70 1102.67,358.23 1102.33,357.79 1101.96,357.36 1101.60,356.93 1101.27,356.48 1101.00,356.00 1100.76,355.50 1100.53,355.00 1100.30,354.50 1100.09,353.99 1099.90,353.46 1099.74,352.91 1099.60,352.32 1099.50,351.70 1099.46,351.03 1099.48,350.30 1099.55,349.53 1099.63,348.75 1099.71,347.96 1099.76,347.18 1099.77,346.42 1099.70,345.70 1099.60,345.02 1099.52,344.36 1099.43,343.72 1099.29,343.09 1099.07,342.47 1098.76,341.85 1098.31,341.23 1097.70,340.60 1096.90,339.96 1095.92,339.32 1094.81,338.68 1093.60,338.04 1092.33,337.41 1091.03,336.77 1089.74,336.13 1088.50,335.50 1087.28,334.87 1086.01,334.23 1084.73,333.60 1083.44,332.97 1082.15,332.34 1080.89,331.72 1079.67,331.11 1078.50,330.50 1077.30,329.90 1076.03,329.30 1074.75,328.70 1073.51,328.11 1072.39,327.53 1071.44,326.96 1070.72,326.42 1070.30,325.90 1070.19,325.41 1070.34,324.96 1070.71,324.53 1071.26,324.12 1071.96,323.71 1072.75,323.29 1073.61,322.86 1074.50,322.40 1075.45,321.92 1076.52,321.44 1077.68,320.95 1078.94,320.45 1080.26,319.94 1081.64,319.41 1083.06,318.86 1084.50,318.30 1086.04,317.71 1087.74,317.09 1089.52,316.46 1091.33,315.81 1093.11,315.15 1094.81,314.49 1096.36,313.84 1097.70,313.20 1098.85,312.58 1099.87,311.97 1100.78,311.37 1101.58,310.76 1102.29,310.15 1102.92,309.52 1103.49,308.88 1104.00,308.20 1104.43,307.45 1104.75,306.61 1104.98,305.73 1105.14,304.84 1105.26,303.99 1105.34,303.22 1105.42,302.58 1105.50,302.10" fill="#E41A1C" fill-opacity="0.5" stroke="#333333" stroke-width="1.8" stroke-linejoin="round"/>
<circle cx="943.3" cy="324.4" r="3.7" fill="#377EB8" stroke="#000" stroke-width="1.4"/>
<circle cx="950.4" cy="324.4" r="3.7" fill="#377EB8" stroke="#000" stroke-width="1.4"/>
<circle cx="957.8" cy="324.4" r="3.7" fill="#377EB8" stroke="#000" stroke-width="1.4"/>
<circle cx="939.5" cy="319" r="3.7" fill="#377EB8" stroke="#000" stroke-width="1.4"/>
<circle cx="946.8" cy="319" r="3.7" fill="#377EB8" stroke="#000" stroke-width="1.4"/>
<circle cx="954.2" cy="319" r="3.7" fill="#377EB8" stroke="#000" stroke-width="1.4"/>
<circle cx="961.5" cy="319" r="3.7" fill="#377EB8" stroke="#000" stroke-width="1.4"/>
<circle cx="947.1" cy="332" r="3.7" fill="#377EB8" stroke="#000" stroke-width="1.4"/>
<circle cx="954.2" cy="332" r="3.7" fill="#377EB8" stroke="#000" stroke-width="1.4"/>
<circle cx="936" cy="327.4" r="3.7" fill="#377EB8" stroke="#000" stroke-width="1.4"/>
<circle cx="943.3" cy="327.4" r="3.7" fill="#377EB8" stroke="#000" stroke-width="1.4"/>
<circle cx="950.4" cy="327.4" r="3.7" fill="#377EB8" stroke="#000" stroke-width="1.4"/>
<circle cx="957.8" cy="327.4" r="3.7" fill="#377EB8" stroke="#000" stroke-width="1.4"/>
<circle cx="965.1" cy="327.4" r="3.7" fill="#377EB8" stroke="#000" stroke-width="1.4"/>
<circle cx="947.1" cy="338.6" r="3.7" fill="#377EB8" stroke="#000" stroke-width="1.4"/>
<circle cx="954.2" cy="338.6" r="3.7" fill="#377EB8" stroke="#000" stroke-width="1.4"/>
<circle cx="950.7" cy="346.2" r="3.7" fill="#377EB8" stroke="#000" stroke-width="1.4"/>
<circle cx="950.7" cy="403.4" r="3.7" fill="#377EB8" stroke="#000" stroke-width="1.4"/>
<circle cx="1094.5" cy="326.9" r="3.7" fill="#E41A1C" stroke="#000" stroke-width="1.4"/>
<circle cx="1101.8" cy="326.9" r="3.7" fill="#E41A1C" stroke="#000" stroke-width="1.4"/>
<circle cx="1108.9" cy="326.9" r="3.7" fill="#E41A1C" stroke="#000" stroke-width="1.4"/>
<circle cx="1116.2" cy="326.9" r="3.7" fill="#E41A1C" stroke="#000" stroke-width="1.4"/>
<circle cx="1101.8" cy="315.3" r="3.7" fill="#E41A1C" stroke="#000" stroke-width="1.4"/>
<circle cx="1108.9" cy="315.3" r="3.7" fill="#E41A1C" stroke="#000" stroke-width="1.4"/>
<circle cx="1091" cy="321.8" r="3.7" fill="#E41A1C" stroke="#000" stroke-width="1.4"/>
<circle cx="1098.1" cy="321.8" r="3.7" fill="#E41A1C" stroke="#000" stroke-width="1.4"/>
<circle cx="1105.4" cy="321.8" r="3.7" fill="#E41A1C" stroke="#000" stroke-width="1.4"/>
<circle cx="1112.5" cy="321.8" r="3.7" fill="#E41A1C" stroke="#000" stroke-width="1.4"/>
<circle cx="1119.8" cy="321.8" r="3.7" fill="#E41A1C" stroke="#000" stroke-width="1.4"/>
<circle cx="1087.4" cy="325.4" r="3.7" fill="#E41A1C" stroke="#000" stroke-width="1.4"/>
<circle cx="1123.4" cy="325.4" r="3.7" fill="#E41A1C" stroke="#000" stroke-width="1.4"/>
<circle cx="1094.5" cy="334.5" r="3.7" fill="#E41A1C" stroke="#000" stroke-width="1.4"/>
<circle cx="1101.8" cy="334.5" r="3.7" fill="#E41A1C" stroke="#000" stroke-width="1.4"/>
<circle cx="1108.9" cy="334.5" r="3.7" fill="#E41A1C" stroke="#000" stroke-width="1.4"/>
<circle cx="1116.2" cy="334.5" r="3.7" fill="#E41A1C" stroke="#000" stroke-width="1.4"/>
<circle cx="1087.4" cy="330" r="3.7" fill="#E41A1C" stroke="#000" stroke-width="1.4"/>
<circle cx="1094.5" cy="330" r="3.7" fill="#E41A1C" stroke="#000" stroke-width="1.4"/>
<circle cx="1101.8" cy="330" r="3.7" fill="#E41A1C" stroke="#000" stroke-width="1.4"/>
<circle cx="1108.9" cy="330" r="3.7" fill="#E41A1C" stroke="#000" stroke-width="1.4"/>
<circle cx="1116.2" cy="330" r="3.7" fill="#E41A1C" stroke="#000" stroke-width="1.4"/>
<circle cx="1123.4" cy="330" r="3.7" fill="#E41A1C" stroke="#000" stroke-width="1.4"/>
<circle cx="1101.8" cy="339.1" r="3.7" fill="#E41A1C" stroke="#000" stroke-width="1.4"/>
<circle cx="1108.9" cy="339.1" r="3.7" fill="#E41A1C" stroke="#000" stroke-width="1.4"/>
<circle cx="1105.4" cy="347.2" r="3.7" fill="#E41A1C" stroke="#000" stroke-width="1.4"/>
<circle cx="1101.8" cy="353.3" r="3.7" fill="#E41A1C" stroke="#000" stroke-width="1.4"/>
<circle cx="1108.9" cy="353.3" r="3.7" fill="#E41A1C" stroke="#000" stroke-width="1.4"/>
<circle cx="1105.4" cy="366.4" r="3.7" fill="#E41A1C" stroke="#000" stroke-width="1.4"/>
<circle cx="1105.4" cy="375.3" r="3.7" fill="#E41A1C" stroke="#000" stroke-width="1.4"/>
<circle cx="1105.4" cy="422.2" r="3.7" fill="#E41A1C" stroke="#000" stroke-width="1.4"/>
<rect x="858.3" y="296.5" width="339.70000000000005" height="144.8" fill="none" stroke="#333333" stroke-width="2.0"/>
<line x1="852.4" y1="302.7" x2="858.3" y2="302.7" stroke="#333333" stroke-width="1.9"/>
<text x="846.1" y="309.9" font-size="18.3" text-anchor="end" fill="#4D4D4D" >1.0</text>
<line x1="852.4" y1="335.77" x2="858.3" y2="335.77" stroke="#333333" stroke-width="1.9"/>
<text x="846.1" y="342.97" font-size="18.3" text-anchor="end" fill="#4D4D4D" >0.9</text>
<line x1="852.4" y1="368.85" x2="858.3" y2="368.85" stroke="#333333" stroke-width="1.9"/>
<text x="846.1" y="376.05" font-size="18.3" text-anchor="end" fill="#4D4D4D" >0.8</text>
<line x1="852.4" y1="401.93" x2="858.3" y2="401.93" stroke="#333333" stroke-width="1.9"/>
<text x="846.1" y="409.12" font-size="18.3" text-anchor="end" fill="#4D4D4D" >0.7</text>
<line x1="852.4" y1="435" x2="858.3" y2="435" stroke="#333333" stroke-width="1.9"/>
<text x="846.1" y="442.2" font-size="18.3" text-anchor="end" fill="#4D4D4D" >0.6</text>
<line x1="950.8" y1="441.3" x2="950.8" y2="447.1" stroke="#333333" stroke-width="1.9"/>
<text x="950.8" y="466.5" font-size="18.3" text-anchor="middle" fill="#4D4D4D" >HC</text>
<line x1="1105.5" y1="441.3" x2="1105.5" y2="447.1" stroke="#333333" stroke-width="1.9"/>
<text x="1105.5" y="466.5" font-size="18.3" text-anchor="middle" fill="#4D4D4D" >SAD</text>
<text x="1191.5" y="429" font-size="21" text-anchor="end" fill="#000" >P=0.56</text>
<rect x="858.3" y="553.9" width="339.70000000000005" height="145.70000000000005" fill="#fff"/>
<line x1="858.3" y1="574.15" x2="1198" y2="574.15" stroke="#EBEBEB" stroke-width="1.6"/>
<line x1="858.3" y1="601.25" x2="1198" y2="601.25" stroke="#EBEBEB" stroke-width="1.6"/>
<line x1="858.3" y1="628.35" x2="1198" y2="628.35" stroke="#EBEBEB" stroke-width="1.6"/>
<line x1="858.3" y1="655.45" x2="1198" y2="655.45" stroke="#EBEBEB" stroke-width="1.6"/>
<line x1="858.3" y1="682.55" x2="1198" y2="682.55" stroke="#EBEBEB" stroke-width="1.6"/>
<line x1="858.3" y1="560.6" x2="1198" y2="560.6" stroke="#EBEBEB" stroke-width="2.0"/>
<line x1="858.3" y1="587.7" x2="1198" y2="587.7" stroke="#EBEBEB" stroke-width="2.0"/>
<line x1="858.3" y1="614.8" x2="1198" y2="614.8" stroke="#EBEBEB" stroke-width="2.0"/>
<line x1="858.3" y1="641.9" x2="1198" y2="641.9" stroke="#EBEBEB" stroke-width="2.0"/>
<line x1="858.3" y1="669" x2="1198" y2="669" stroke="#EBEBEB" stroke-width="2.0"/>
<line x1="858.3" y1="696.1" x2="1198" y2="696.1" stroke="#EBEBEB" stroke-width="2.0"/>
<line x1="950.8" y1="553.9" x2="950.8" y2="699.6" stroke="#EBEBEB" stroke-width="2.0"/>
<line x1="1105.5" y1="553.9" x2="1105.5" y2="699.6" stroke="#EBEBEB" stroke-width="2.0"/>
<text x="857.6" y="536.1" font-size="27.4" text-anchor="start" fill="#000" >Shannon Entropy</text>
<polygon points="950.80,564.30 950.85,564.58 950.91,564.94 950.98,565.38 951.06,565.86 951.15,566.38 951.24,566.92 951.32,567.47 951.40,568.00 951.44,568.53 951.42,569.08 951.37,569.65 951.34,570.23 951.36,570.81 951.45,571.41 951.65,572.00 952.00,572.60 952.46,573.18 953.00,573.76 953.62,574.33 954.32,574.91 955.14,575.50 956.06,576.13 957.11,576.79 958.30,577.50 959.68,578.26 961.27,579.06 963.02,579.90 964.86,580.77 966.75,581.66 968.62,582.56 970.42,583.48 972.10,584.40 973.71,585.34 975.34,586.33 976.96,587.34 978.54,588.36 980.04,589.37 981.44,590.36 982.70,591.31 983.80,592.20 984.72,593.03 985.48,593.80 986.10,594.53 986.62,595.24 987.07,595.93 987.46,596.63 987.83,597.35 988.20,598.10 988.57,598.87 988.93,599.64 989.25,600.42 989.52,601.21 989.73,602.01 989.88,602.83 989.94,603.65 989.90,604.50 989.77,605.37 989.57,606.27 989.30,607.19 988.95,608.12 988.52,609.05 988.02,609.98 987.45,610.90 986.80,611.80 986.07,612.68 985.25,613.53 984.36,614.38 983.39,615.22 982.35,616.06 981.25,616.92 980.10,617.80 978.90,618.70 977.60,619.64 976.18,620.61 974.67,621.60 973.11,622.60 971.55,623.60 970.02,624.59 968.55,625.56 967.20,626.50 965.93,627.41 964.71,628.29 963.52,629.16 962.38,630.01 961.29,630.86 960.24,631.70 959.25,632.55 958.30,633.40 957.39,634.27 956.50,635.15 955.65,636.04 954.86,636.92 954.13,637.79 953.48,638.64 952.94,639.44 952.50,640.20 952.19,640.90 952.00,641.54 951.91,642.13 951.91,642.71 951.96,643.27 952.06,643.85 952.18,644.45 952.30,645.10 952.46,645.78 952.69,646.48 952.97,647.20 953.27,647.93 953.59,648.68 953.90,649.44 954.17,650.21 954.40,651.00 954.60,651.81 954.79,652.63 954.97,653.48 955.13,654.34 955.26,655.20 955.36,656.07 955.41,656.94 955.40,657.80 955.33,658.65 955.19,659.50 955.01,660.34 954.79,661.19 954.54,662.04 954.29,662.91 954.04,663.79 953.80,664.70 953.56,665.63 953.30,666.58 953.04,667.55 952.76,668.54 952.49,669.53 952.24,670.52 952.00,671.51 951.80,672.50 951.62,673.54 951.46,674.65 951.31,675.80 951.17,676.94 951.06,678.01 950.96,678.98 950.87,679.79 950.80,680.40 950.80,680.40 950.73,679.79 950.64,678.98 950.54,678.01 950.42,676.94 950.29,675.80 950.14,674.65 949.98,673.54 949.80,672.50 949.60,671.51 949.36,670.52 949.11,669.53 948.84,668.54 948.56,667.55 948.30,666.58 948.04,665.63 947.80,664.70 947.56,663.79 947.31,662.91 947.06,662.04 946.81,661.19 946.59,660.34 946.41,659.50 946.27,658.65 946.20,657.80 946.19,656.94 946.24,656.07 946.34,655.20 946.47,654.34 946.63,653.48 946.81,652.63 947.00,651.81 947.20,651.00 947.43,650.21 947.70,649.44 948.01,648.68 948.32,647.93 948.63,647.20 948.91,646.48 949.14,645.78 949.30,645.10 949.42,644.45 949.54,643.85 949.64,643.27 949.69,642.71 949.69,642.13 949.60,641.54 949.41,640.90 949.10,640.20 948.66,639.44 948.12,638.64 947.47,637.79 946.74,636.92 945.95,636.04 945.10,635.15 944.21,634.27 943.30,633.40 942.35,632.55 941.36,631.70 940.31,630.86 939.22,630.01 938.08,629.16 936.89,628.29 935.67,627.41 934.40,626.50 933.05,625.56 931.58,624.59 930.05,623.60 928.49,622.60 926.93,621.60 925.42,620.61 924.00,619.64 922.70,618.70 921.50,617.80 920.35,616.92 919.25,616.06 918.21,615.22 917.24,614.38 916.35,613.53 915.53,612.68 914.80,611.80 914.15,610.90 913.57,609.98 913.07,609.05 912.65,608.12 912.30,607.19 912.02,606.27 911.82,605.37 911.70,604.50 911.66,603.65 911.72,602.83 911.87,602.01 912.08,601.21 912.35,600.42 912.67,599.64 913.03,598.87 913.40,598.10 913.77,597.35 914.14,596.63 914.53,595.93 914.97,595.24 915.50,594.53 916.12,593.80 916.88,593.03 917.80,592.20 918.90,591.31 920.16,590.36 921.56,589.37 923.06,588.36 924.64,587.34 926.26,586.33 927.89,585.34 929.50,584.40 931.18,583.48 932.98,582.56 934.85,581.66 936.74,580.77 938.58,579.90 940.33,579.06 941.92,578.26 943.30,577.50 944.49,576.79 945.54,576.13 946.46,575.50 947.27,574.91 947.98,574.33 948.60,573.76 949.14,573.18 949.60,572.60 949.95,572.00 950.15,571.41 950.24,570.81 950.26,570.23 950.23,569.65 950.18,569.08 950.16,568.53 950.20,568.00 950.28,567.47 950.36,566.92 950.45,566.38 950.54,565.86 950.62,565.38 950.69,564.94 950.75,564.58 950.80,564.30" fill="#377EB8" fill-opacity="0.5" stroke="#333333" stroke-width="1.8" stroke-linejoin="round"/>
<polygon points="1105.50,559.90 1105.64,560.68 1105.80,561.73 1106.00,562.99 1106.22,564.38 1106.49,565.81 1106.78,567.23 1107.12,568.55 1107.50,569.70 1107.92,570.69 1108.38,571.59 1108.87,572.42 1109.40,573.22 1109.97,574.00 1110.58,574.79 1111.22,575.62 1111.90,576.50 1112.60,577.42 1113.31,578.35 1114.05,579.30 1114.84,580.26 1115.68,581.25 1116.59,582.27 1117.59,583.31 1118.70,584.40 1119.97,585.55 1121.40,586.76 1122.96,588.02 1124.57,589.31 1126.18,590.59 1127.75,591.85 1129.21,593.06 1130.50,594.20 1131.66,595.26 1132.75,596.27 1133.77,597.23 1134.72,598.16 1135.60,599.09 1136.40,600.03 1137.14,600.99 1137.80,602.00 1138.41,603.06 1138.98,604.15 1139.49,605.27 1139.92,606.39 1140.26,607.52 1140.48,608.64 1140.57,609.74 1140.50,610.80 1140.25,611.84 1139.84,612.86 1139.28,613.88 1138.61,614.87 1137.86,615.86 1137.05,616.82 1136.22,617.77 1135.40,618.70 1134.53,619.60 1133.56,620.45 1132.53,621.28 1131.46,622.10 1130.40,622.92 1129.36,623.75 1128.38,624.60 1127.50,625.50 1126.71,626.42 1125.99,627.36 1125.33,628.30 1124.69,629.27 1124.08,630.26 1123.47,631.27 1122.85,632.32 1122.20,633.40 1121.54,634.53 1120.88,635.70 1120.23,636.90 1119.57,638.13 1118.90,639.38 1118.22,640.63 1117.52,641.87 1116.80,643.10 1116.02,644.32 1115.17,645.54 1114.28,646.77 1113.39,647.99 1112.52,649.22 1111.71,650.45 1111.00,651.67 1110.40,652.90 1109.93,654.12 1109.56,655.35 1109.26,656.57 1109.03,657.80 1108.85,659.02 1108.69,660.25 1108.55,661.48 1108.40,662.70 1108.27,663.93 1108.19,665.15 1108.14,666.38 1108.11,667.60 1108.09,668.83 1108.05,670.05 1108.00,671.28 1107.90,672.50 1107.77,673.71 1107.60,674.91 1107.42,676.11 1107.23,677.31 1107.04,678.52 1106.84,679.74 1106.66,681.00 1106.50,682.30 1106.35,683.72 1106.20,685.28 1106.05,686.92 1105.91,688.56 1105.78,690.12 1105.67,691.53 1105.57,692.72 1105.50,693.60 1105.50,693.60 1105.43,692.72 1105.33,691.53 1105.22,690.12 1105.09,688.56 1104.95,686.92 1104.80,685.28 1104.65,683.72 1104.50,682.30 1104.34,681.00 1104.16,679.74 1103.96,678.52 1103.77,677.31 1103.58,676.11 1103.40,674.91 1103.23,673.71 1103.10,672.50 1103.00,671.28 1102.95,670.05 1102.91,668.83 1102.89,667.60 1102.86,666.38 1102.81,665.15 1102.73,663.93 1102.60,662.70 1102.45,661.48 1102.31,660.25 1102.15,659.02 1101.97,657.80 1101.74,656.57 1101.44,655.35 1101.07,654.12 1100.60,652.90 1100.00,651.67 1099.29,650.45 1098.48,649.22 1097.61,647.99 1096.72,646.77 1095.83,645.54 1094.98,644.32 1094.20,643.10 1093.48,641.87 1092.78,640.63 1092.10,639.38 1091.43,638.13 1090.77,636.90 1090.12,635.70 1089.46,634.53 1088.80,633.40 1088.15,632.32 1087.53,631.27 1086.92,630.26 1086.31,629.27 1085.67,628.30 1085.01,627.36 1084.29,626.42 1083.50,625.50 1082.62,624.60 1081.64,623.75 1080.60,622.92 1079.54,622.10 1078.47,621.28 1077.44,620.45 1076.47,619.60 1075.60,618.70 1074.78,617.77 1073.95,616.82 1073.14,615.86 1072.39,614.87 1071.72,613.88 1071.16,612.86 1070.75,611.84 1070.50,610.80 1070.43,609.74 1070.52,608.64 1070.74,607.52 1071.08,606.39 1071.51,605.27 1072.02,604.15 1072.59,603.06 1073.20,602.00 1073.86,600.99 1074.60,600.03 1075.40,599.09 1076.28,598.16 1077.23,597.23 1078.25,596.27 1079.34,595.26 1080.50,594.20 1081.79,593.06 1083.25,591.85 1084.82,590.59 1086.43,589.31 1088.04,588.02 1089.60,586.76 1091.03,585.55 1092.30,584.40 1093.41,583.31 1094.41,582.27 1095.32,581.25 1096.16,580.26 1096.95,579.30 1097.69,578.35 1098.40,577.42 1099.10,576.50 1099.78,575.62 1100.42,574.79 1101.03,574.00 1101.60,573.22 1102.13,572.42 1102.62,571.59 1103.08,570.69 1103.50,569.70 1103.88,568.55 1104.22,567.23 1104.51,565.81 1104.78,564.38 1105.00,562.99 1105.20,561.73 1105.36,560.68 1105.50,559.90" fill="#E41A1C" fill-opacity="0.5" stroke="#333333" stroke-width="1.8" stroke-linejoin="round"/>
<circle cx="950.6" cy="586.5" r="3.0" fill="#377EB8" stroke="#000" stroke-width="1.4"/>
<circle cx="947.7" cy="592.4" r="3.0" fill="#377EB8" stroke="#000" stroke-width="1.4"/>
<circle cx="953.6" cy="592.4" r="3.0" fill="#377EB8" stroke="#000" stroke-width="1.4"/>
<circle cx="947.7" cy="601" r="3.0" fill="#377EB8" stroke="#000" stroke-width="1.4"/>
<circle cx="953.6" cy="601" r="3.0" fill="#377EB8" stroke="#000" stroke-width="1.4"/>
<circle cx="947.7" cy="597.8" r="3.0" fill="#377EB8" stroke="#000" stroke-width="1.4"/>
<circle cx="953.6" cy="597.8" r="3.0" fill="#377EB8" stroke="#000" stroke-width="1.4"/>
<circle cx="947.7" cy="607.9" r="3.0" fill="#377EB8" stroke="#000" stroke-width="1.4"/>
<circle cx="953.6" cy="607.9" r="3.0" fill="#377EB8" stroke="#000" stroke-width="1.4"/>
<circle cx="950.6" cy="605.4" r="3.0" fill="#377EB8" stroke="#000" stroke-width="1.4"/>
<circle cx="944.6" cy="612.6" r="3.0" fill="#377EB8" stroke="#000" stroke-width="1.4"/>
<circle cx="950.6" cy="612.6" r="3.0" fill="#377EB8" stroke="#000" stroke-width="1.4"/>
<circle cx="956.6" cy="612.6" r="3.0" fill="#377EB8" stroke="#000" stroke-width="1.4"/>
<circle cx="950.6" cy="619.2" r="3.0" fill="#377EB8" stroke="#000" stroke-width="1.4"/>
<circle cx="944.6" cy="624.3" r="3.0" fill="#377EB8" stroke="#000" stroke-width="1.4"/>
<circle cx="950.6" cy="624.3" r="3.0" fill="#377EB8" stroke="#000" stroke-width="1.4"/>
<circle cx="956.6" cy="624.3" r="3.0" fill="#377EB8" stroke="#000" stroke-width="1.4"/>
<circle cx="950.6" cy="658.3" r="3.0" fill="#377EB8" stroke="#000" stroke-width="1.4"/>
<circle cx="1102.5" cy="583.4" r="3.0" fill="#E41A1C" stroke="#000" stroke-width="1.4"/>
<circle cx="1108.4" cy="583.4" r="3.0" fill="#E41A1C" stroke="#000" stroke-width="1.4"/>
<circle cx="1102.5" cy="599" r="3.0" fill="#E41A1C" stroke="#000" stroke-width="1.4"/>
<circle cx="1108.4" cy="599" r="3.0" fill="#E41A1C" stroke="#000" stroke-width="1.4"/>
<circle cx="1102.5" cy="594.2" r="3.0" fill="#E41A1C" stroke="#000" stroke-width="1.4"/>
<circle cx="1108.4" cy="594.2" r="3.0" fill="#E41A1C" stroke="#000" stroke-width="1.4"/>
<circle cx="1096.6" cy="598.1" r="3.0" fill="#E41A1C" stroke="#000" stroke-width="1.4"/>
<circle cx="1114.3" cy="598.1" r="3.0" fill="#E41A1C" stroke="#000" stroke-width="1.4"/>
<circle cx="1102.5" cy="608.4" r="3.0" fill="#E41A1C" stroke="#000" stroke-width="1.4"/>
<circle cx="1108.4" cy="608.4" r="3.0" fill="#E41A1C" stroke="#000" stroke-width="1.4"/>
<circle cx="1099.6" cy="604.5" r="3.0" fill="#E41A1C" stroke="#000" stroke-width="1.4"/>
<circle cx="1105.4" cy="604.5" r="3.0" fill="#E41A1C" stroke="#000" stroke-width="1.4"/>
<circle cx="1111.3" cy="604.5" r="3.0" fill="#E41A1C" stroke="#000" stroke-width="1.4"/>
<circle cx="1102.5" cy="616.7" r="3.0" fill="#E41A1C" stroke="#000" stroke-width="1.4"/>
<circle cx="1108.4" cy="616.7" r="3.0" fill="#E41A1C" stroke="#000" stroke-width="1.4"/>
<circle cx="1093.7" cy="612.3" r="3.0" fill="#E41A1C" stroke="#000" stroke-width="1.4"/>
<circle cx="1099.6" cy="612.3" r="3.0" fill="#E41A1C" stroke="#000" stroke-width="1.4"/>
<circle cx="1105.4" cy="612.3" r="3.0" fill="#E41A1C" stroke="#000" stroke-width="1.4"/>
<circle cx="1111.3" cy="612.3" r="3.0" fill="#E41A1C" stroke="#000" stroke-width="1.4"/>
<circle cx="1117.2" cy="612.3" r="3.0" fill="#E41A1C" stroke="#000" stroke-width="1.4"/>
<circle cx="1099.6" cy="620.1" r="3.0" fill="#E41A1C" stroke="#000" stroke-width="1.4"/>
<circle cx="1111.3" cy="620.1" r="3.0" fill="#E41A1C" stroke="#000" stroke-width="1.4"/>
<circle cx="1102.5" cy="628.9" r="3.0" fill="#E41A1C" stroke="#000" stroke-width="1.4"/>
<circle cx="1108.4" cy="628.9" r="3.0" fill="#E41A1C" stroke="#000" stroke-width="1.4"/>
<circle cx="1105.4" cy="626.3" r="3.0" fill="#E41A1C" stroke="#000" stroke-width="1.4"/>
<circle cx="1102.5" cy="640" r="3.0" fill="#E41A1C" stroke="#000" stroke-width="1.4"/>
<circle cx="1108.4" cy="640" r="3.0" fill="#E41A1C" stroke="#000" stroke-width="1.4"/>
<circle cx="1105.4" cy="636.8" r="3.0" fill="#E41A1C" stroke="#000" stroke-width="1.4"/>
<circle cx="1105.4" cy="649.8" r="3.0" fill="#E41A1C" stroke="#000" stroke-width="1.4"/>
<circle cx="1105.4" cy="670.6" r="3.0" fill="#E41A1C" stroke="#000" stroke-width="1.4"/>
<rect x="858.3" y="553.9" width="339.70000000000005" height="145.70000000000005" fill="none" stroke="#333333" stroke-width="2.0"/>
<line x1="852.4" y1="560.6" x2="858.3" y2="560.6" stroke="#333333" stroke-width="1.9"/>
<text x="846.1" y="567.8" font-size="18.3" text-anchor="end" fill="#4D4D4D" >4.0</text>
<line x1="852.4" y1="587.7" x2="858.3" y2="587.7" stroke="#333333" stroke-width="1.9"/>
<text x="846.1" y="594.9" font-size="18.3" text-anchor="end" fill="#4D4D4D" >3.5</text>
<line x1="852.4" y1="614.8" x2="858.3" y2="614.8" stroke="#333333" stroke-width="1.9"/>
<text x="846.1" y="622" font-size="18.3" text-anchor="end" fill="#4D4D4D" >3.0</text>
<line x1="852.4" y1="641.9" x2="858.3" y2="641.9" stroke="#333333" stroke-width="1.9"/>
<text x="846.1" y="649.1" font-size="18.3" text-anchor="end" fill="#4D4D4D" >2.5</text>
<line x1="852.4" y1="669" x2="858.3" y2="669" stroke="#333333" stroke-width="1.9"/>
<text x="846.1" y="676.2" font-size="18.3" text-anchor="end" fill="#4D4D4D" >2.0</text>
<line x1="852.4" y1="696.1" x2="858.3" y2="696.1" stroke="#333333" stroke-width="1.9"/>
<text x="846.1" y="703.3" font-size="18.3" text-anchor="end" fill="#4D4D4D" >1.5</text>
<line x1="950.8" y1="699.6" x2="950.8" y2="705.4" stroke="#333333" stroke-width="1.9"/>
<text x="950.8" y="724.7" font-size="18.3" text-anchor="middle" fill="#4D4D4D" >HC</text>
<line x1="1105.5" y1="699.6" x2="1105.5" y2="705.4" stroke="#333333" stroke-width="1.9"/>
<text x="1105.5" y="724.7" font-size="18.3" text-anchor="middle" fill="#4D4D4D" >SAD</text>
<text x="1191.5" y="690" font-size="21" text-anchor="end" fill="#000" >P=0.35</text>
<text x="0" y="0" font-size="49.2" font-weight="bold" fill="#000" transform="translate(772.9,41.5) scale(0.818,1)">B</text>
<rect x="85.0" y="811.8" width="322.8" height="662.2" fill="#fff"/>
<line x1="95.6" y1="811.8" x2="95.6" y2="1474" stroke="#EBEBEB" stroke-width="2.0"/>
<line x1="113.34" y1="811.8" x2="113.34" y2="1474" stroke="#EBEBEB" stroke-width="2.0"/>
<line x1="131.08" y1="811.8" x2="131.08" y2="1474" stroke="#EBEBEB" stroke-width="2.0"/>
<line x1="148.82" y1="811.8" x2="148.82" y2="1474" stroke="#EBEBEB" stroke-width="2.0"/>
<line x1="166.56" y1="811.8" x2="166.56" y2="1474" stroke="#EBEBEB" stroke-width="2.0"/>
<line x1="184.3" y1="811.8" x2="184.3" y2="1474" stroke="#EBEBEB" stroke-width="2.0"/>
<line x1="202.04" y1="811.8" x2="202.04" y2="1474" stroke="#EBEBEB" stroke-width="2.0"/>
<line x1="219.78" y1="811.8" x2="219.78" y2="1474" stroke="#EBEBEB" stroke-width="2.0"/>
<line x1="237.52" y1="811.8" x2="237.52" y2="1474" stroke="#EBEBEB" stroke-width="2.0"/>
<line x1="255.26" y1="811.8" x2="255.26" y2="1474" stroke="#EBEBEB" stroke-width="2.0"/>
<line x1="273" y1="811.8" x2="273" y2="1474" stroke="#EBEBEB" stroke-width="2.0"/>
<line x1="290.74" y1="811.8" x2="290.74" y2="1474" stroke="#EBEBEB" stroke-width="2.0"/>
<line x1="308.48" y1="811.8" x2="308.48" y2="1474" stroke="#EBEBEB" stroke-width="2.0"/>
<line x1="326.22" y1="811.8" x2="326.22" y2="1474" stroke="#EBEBEB" stroke-width="2.0"/>
<line x1="343.96" y1="811.8" x2="343.96" y2="1474" stroke="#EBEBEB" stroke-width="2.0"/>
<line x1="361.7" y1="811.8" x2="361.7" y2="1474" stroke="#EBEBEB" stroke-width="2.0"/>
<line x1="379.44" y1="811.8" x2="379.44" y2="1474" stroke="#EBEBEB" stroke-width="2.0"/>
<line x1="397.18" y1="811.8" x2="397.18" y2="1474" stroke="#EBEBEB" stroke-width="2.0"/>
<rect x="86.73" y="841.70" width="17.74" height="2.05" fill="#EC715A" stroke="#000" stroke-width="1.6"/>
<rect x="86.73" y="843.75" width="17.74" height="18.89" fill="#E5783A" stroke="#000" stroke-width="1.6"/>
<rect x="86.73" y="862.64" width="17.74" height="14.99" fill="#DD7F00" stroke="#000" stroke-width="1.6"/>
<rect x="86.73" y="877.63" width="17.74" height="11.09" fill="#D38500" stroke="#000" stroke-width="1.6"/>
<rect x="86.73" y="888.72" width="17.74" height="2.46" fill="#BC9100" stroke="#000" stroke-width="1.6"/>
<rect x="86.73" y="891.18" width="17.74" height="10.06" fill="#9F9C00" stroke="#000" stroke-width="1.6"/>
<rect x="86.73" y="901.24" width="17.74" height="46.20" fill="#8DA100" stroke="#000" stroke-width="1.6"/>
<rect x="86.73" y="947.45" width="17.74" height="24.64" fill="#78A500" stroke="#000" stroke-width="1.6"/>
<rect x="86.73" y="972.09" width="17.74" height="42.71" fill="#5DAA00" stroke="#000" stroke-width="1.6"/>
<rect x="86.73" y="1014.80" width="17.74" height="4.11" fill="#33AD00" stroke="#000" stroke-width="1.6"/>
<rect x="86.73" y="1018.90" width="17.74" height="39.43" fill="#00B344" stroke="#000" stroke-width="1.6"/>
<rect x="86.73" y="1058.33" width="17.74" height="37.99" fill="#00B777" stroke="#000" stroke-width="1.6"/>
<rect x="86.73" y="1096.32" width="17.74" height="86.25" fill="#00B99E" stroke="#000" stroke-width="1.6"/>
<rect x="86.73" y="1182.56" width="17.74" height="2.89" fill="#00B8B0" stroke="#000" stroke-width="1.6"/>
<rect x="86.73" y="1185.45" width="17.74" height="26.24" fill="#00B7C0" stroke="#000" stroke-width="1.6"/>
<rect x="86.73" y="1211.69" width="17.74" height="201.65" fill="#00A5F2" stroke="#000" stroke-width="1.6"/>
<rect x="86.73" y="1413.35" width="17.74" height="2.27" fill="#009EFA" stroke="#000" stroke-width="1.6"/>
<rect x="86.73" y="1415.62" width="17.74" height="11.57" fill="#4E95FF" stroke="#000" stroke-width="1.6"/>
<rect x="86.73" y="1427.19" width="17.74" height="7.85" fill="#7E8CFF" stroke="#000" stroke-width="1.6"/>
<rect x="86.73" y="1435.04" width="17.74" height="8.76" fill="#ABABAB" stroke="#000" stroke-width="1.6"/>
<rect x="104.47" y="841.70" width="17.74" height="49.69" fill="#F26A73" stroke="#000" stroke-width="1.6"/>
<rect x="104.47" y="891.39" width="17.74" height="6.16" fill="#EC715A" stroke="#000" stroke-width="1.6"/>
<rect x="104.47" y="897.55" width="17.74" height="9.24" fill="#DD7F00" stroke="#000" stroke-width="1.6"/>
<rect x="104.47" y="906.79" width="17.74" height="11.29" fill="#C98B00" stroke="#000" stroke-width="1.6"/>
<rect x="104.47" y="918.08" width="17.74" height="14.37" fill="#9F9C00" stroke="#000" stroke-width="1.6"/>
<rect x="104.47" y="932.46" width="17.74" height="26.90" fill="#78A500" stroke="#000" stroke-width="1.6"/>
<rect x="104.47" y="959.36" width="17.74" height="3.08" fill="#5DAA00" stroke="#000" stroke-width="1.6"/>
<rect x="104.47" y="962.44" width="17.74" height="17.25" fill="#00B344" stroke="#000" stroke-width="1.6"/>
<rect x="104.47" y="979.68" width="17.74" height="14.37" fill="#00B777" stroke="#000" stroke-width="1.6"/>
<rect x="104.47" y="994.06" width="17.74" height="67.15" fill="#00B99E" stroke="#000" stroke-width="1.6"/>
<rect x="104.47" y="1061.20" width="17.74" height="5.13" fill="#00B7C0" stroke="#000" stroke-width="1.6"/>
<rect x="104.47" y="1066.34" width="17.74" height="41.89" fill="#00ACE8" stroke="#000" stroke-width="1.6"/>
<rect x="104.47" y="1108.23" width="17.74" height="316.28" fill="#00A5F2" stroke="#000" stroke-width="1.6"/>
<rect x="104.47" y="1424.50" width="17.74" height="19.30" fill="#009EFA" stroke="#000" stroke-width="1.6"/>
<rect x="122.21" y="841.70" width="17.74" height="2.46" fill="#EC715A" stroke="#000" stroke-width="1.6"/>
<rect x="122.21" y="844.16" width="17.74" height="25.05" fill="#E5783A" stroke="#000" stroke-width="1.6"/>
<rect x="122.21" y="869.21" width="17.74" height="18.48" fill="#DD7F00" stroke="#000" stroke-width="1.6"/>
<rect x="122.21" y="887.69" width="17.74" height="5.75" fill="#C98B00" stroke="#000" stroke-width="1.6"/>
<rect x="122.21" y="893.44" width="17.74" height="13.76" fill="#9F9C00" stroke="#000" stroke-width="1.6"/>
<rect x="122.21" y="907.20" width="17.74" height="14.37" fill="#78A500" stroke="#000" stroke-width="1.6"/>
<rect x="122.21" y="921.57" width="17.74" height="6.57" fill="#5DAA00" stroke="#000" stroke-width="1.6"/>
<rect x="122.21" y="928.14" width="17.74" height="18.07" fill="#33AD00" stroke="#000" stroke-width="1.6"/>
<rect x="122.21" y="946.21" width="17.74" height="139.43" fill="#00B344" stroke="#000" stroke-width="1.6"/>
<rect x="122.21" y="1085.64" width="17.74" height="42.71" fill="#00B88C" stroke="#000" stroke-width="1.6"/>
<rect x="122.21" y="1128.35" width="17.74" height="10.27" fill="#00B8B0" stroke="#000" stroke-width="1.6"/>
<rect x="122.21" y="1138.62" width="17.74" height="225.97" fill="#00A5F2" stroke="#000" stroke-width="1.6"/>
<rect x="122.21" y="1364.59" width="17.74" height="68.18" fill="#4E95FF" stroke="#000" stroke-width="1.6"/>
<rect x="122.21" y="1432.77" width="17.74" height="11.03" fill="#ABABAB" stroke="#000" stroke-width="1.6"/>
<rect x="139.95" y="841.70" width="17.74" height="2.87" fill="#F26A73" stroke="#000" stroke-width="1.6"/>
<rect x="139.95" y="844.57" width="17.74" height="20.53" fill="#E5783A" stroke="#000" stroke-width="1.6"/>
<rect x="139.95" y="865.10" width="17.74" height="3.90" fill="#D38500" stroke="#000" stroke-width="1.6"/>
<rect x="139.95" y="869.01" width="17.74" height="29.57" fill="#8DA100" stroke="#000" stroke-width="1.6"/>
<rect x="139.95" y="898.57" width="17.74" height="31.21" fill="#78A500" stroke="#000" stroke-width="1.6"/>
<rect x="139.95" y="929.79" width="17.74" height="20.53" fill="#5DAA00" stroke="#000" stroke-width="1.6"/>
<rect x="139.95" y="950.32" width="17.74" height="2.26" fill="#33AD00" stroke="#000" stroke-width="1.6"/>
<rect x="139.95" y="952.58" width="17.74" height="4.93" fill="#00B015" stroke="#000" stroke-width="1.6"/>
<rect x="139.95" y="957.51" width="17.74" height="6.78" fill="#00B344" stroke="#000" stroke-width="1.6"/>
<rect x="139.95" y="964.28" width="17.74" height="73.92" fill="#00B99E" stroke="#000" stroke-width="1.6"/>
<rect x="139.95" y="1038.21" width="17.74" height="16.02" fill="#00B7C0" stroke="#000" stroke-width="1.6"/>
<rect x="139.95" y="1054.22" width="17.74" height="90.74" fill="#00B1DD" stroke="#000" stroke-width="1.6"/>
<rect x="139.95" y="1144.96" width="17.74" height="189.26" fill="#00A5F2" stroke="#000" stroke-width="1.6"/>
<rect x="139.95" y="1334.21" width="17.74" height="63.43" fill="#009EFA" stroke="#000" stroke-width="1.6"/>
<rect x="139.95" y="1397.64" width="17.74" height="14.46" fill="#4E95FF" stroke="#000" stroke-width="1.6"/>
<rect x="139.95" y="1412.11" width="17.74" height="27.69" fill="#7E8CFF" stroke="#000" stroke-width="1.6"/>
<rect x="139.95" y="1439.79" width="17.74" height="4.01" fill="#ABABAB" stroke="#000" stroke-width="1.6"/>
<rect x="157.69" y="841.70" width="17.74" height="28.54" fill="#E5783A" stroke="#000" stroke-width="1.6"/>
<rect x="157.69" y="870.24" width="17.74" height="5.13" fill="#D38500" stroke="#000" stroke-width="1.6"/>
<rect x="157.69" y="875.37" width="17.74" height="2.46" fill="#C98B00" stroke="#000" stroke-width="1.6"/>
<rect x="157.69" y="877.84" width="17.74" height="104.52" fill="#AF9700" stroke="#000" stroke-width="1.6"/>
<rect x="157.69" y="982.35" width="17.74" height="10.06" fill="#9F9C00" stroke="#000" stroke-width="1.6"/>
<rect x="157.69" y="992.41" width="17.74" height="10.27" fill="#78A500" stroke="#000" stroke-width="1.6"/>
<rect x="157.69" y="1002.68" width="17.74" height="62.63" fill="#5DAA00" stroke="#000" stroke-width="1.6"/>
<rect x="157.69" y="1065.31" width="17.74" height="5.13" fill="#33AD00" stroke="#000" stroke-width="1.6"/>
<rect x="157.69" y="1070.44" width="17.74" height="30.80" fill="#00B344" stroke="#000" stroke-width="1.6"/>
<rect x="157.69" y="1101.24" width="17.74" height="3.90" fill="#00B777" stroke="#000" stroke-width="1.6"/>
<rect x="157.69" y="1105.15" width="17.74" height="87.95" fill="#00B99E" stroke="#000" stroke-width="1.6"/>
<rect x="157.69" y="1193.10" width="17.74" height="8.26" fill="#00B7C0" stroke="#000" stroke-width="1.6"/>
<rect x="157.69" y="1201.36" width="17.74" height="180.17" fill="#00A5F2" stroke="#000" stroke-width="1.6"/>
<rect x="157.69" y="1381.53" width="17.74" height="36.36" fill="#009EFA" stroke="#000" stroke-width="1.6"/>
<rect x="157.69" y="1417.89" width="17.74" height="6.20" fill="#4E95FF" stroke="#000" stroke-width="1.6"/>
<rect x="157.69" y="1424.09" width="17.74" height="17.15" fill="#7E8CFF" stroke="#000" stroke-width="1.6"/>
<rect x="157.69" y="1441.24" width="17.74" height="2.56" fill="#ABABAB" stroke="#000" stroke-width="1.6"/>
<rect x="175.43" y="841.70" width="17.74" height="17.24" fill="#E5783A" stroke="#000" stroke-width="1.6"/>
<rect x="175.43" y="858.94" width="17.74" height="20.53" fill="#DD7F00" stroke="#000" stroke-width="1.6"/>
<rect x="175.43" y="879.48" width="17.74" height="3.08" fill="#C98B00" stroke="#000" stroke-width="1.6"/>
<rect x="175.43" y="882.56" width="17.74" height="10.88" fill="#9F9C00" stroke="#000" stroke-width="1.6"/>
<rect x="175.43" y="893.44" width="17.74" height="4.93" fill="#78A500" stroke="#000" stroke-width="1.6"/>
<rect x="175.43" y="898.37" width="17.74" height="30.80" fill="#5DAA00" stroke="#000" stroke-width="1.6"/>
<rect x="175.43" y="929.17" width="17.74" height="25.26" fill="#33AD00" stroke="#000" stroke-width="1.6"/>
<rect x="175.43" y="954.43" width="17.74" height="15.40" fill="#00B344" stroke="#000" stroke-width="1.6"/>
<rect x="175.43" y="969.83" width="17.74" height="31.83" fill="#00B99E" stroke="#000" stroke-width="1.6"/>
<rect x="175.43" y="1001.66" width="17.74" height="9.24" fill="#00B7C0" stroke="#000" stroke-width="1.6"/>
<rect x="175.43" y="1010.90" width="17.74" height="20.12" fill="#00B1DD" stroke="#000" stroke-width="1.6"/>
<rect x="175.43" y="1031.02" width="17.74" height="94.87" fill="#00ACE8" stroke="#000" stroke-width="1.6"/>
<rect x="175.43" y="1125.89" width="17.74" height="234.36" fill="#00A5F2" stroke="#000" stroke-width="1.6"/>
<rect x="175.43" y="1360.25" width="17.74" height="19.83" fill="#009EFA" stroke="#000" stroke-width="1.6"/>
<rect x="175.43" y="1380.08" width="17.74" height="34.09" fill="#7E8CFF" stroke="#000" stroke-width="1.6"/>
<rect x="175.43" y="1414.17" width="17.74" height="29.63" fill="#ABABAB" stroke="#000" stroke-width="1.6"/>
<rect x="193.17" y="841.70" width="17.74" height="3.69" fill="#DD7F00" stroke="#000" stroke-width="1.6"/>
<rect x="193.17" y="845.39" width="17.74" height="92.20" fill="#C98B00" stroke="#000" stroke-width="1.6"/>
<rect x="193.17" y="937.59" width="17.74" height="4.72" fill="#AF9700" stroke="#000" stroke-width="1.6"/>
<rect x="193.17" y="942.31" width="17.74" height="3.90" fill="#9F9C00" stroke="#000" stroke-width="1.6"/>
<rect x="193.17" y="946.21" width="17.74" height="10.88" fill="#78A500" stroke="#000" stroke-width="1.6"/>
<rect x="193.17" y="957.10" width="17.74" height="7.60" fill="#5DAA00" stroke="#000" stroke-width="1.6"/>
<rect x="193.17" y="964.69" width="17.74" height="5.13" fill="#33AD00" stroke="#000" stroke-width="1.6"/>
<rect x="193.17" y="969.83" width="17.74" height="6.16" fill="#00B015" stroke="#000" stroke-width="1.6"/>
<rect x="193.17" y="975.99" width="17.74" height="7.19" fill="#00B344" stroke="#000" stroke-width="1.6"/>
<rect x="193.17" y="983.17" width="17.74" height="5.13" fill="#00B777" stroke="#000" stroke-width="1.6"/>
<rect x="193.17" y="988.31" width="17.74" height="46.20" fill="#00B99E" stroke="#000" stroke-width="1.6"/>
<rect x="193.17" y="1034.51" width="17.74" height="7.19" fill="#00B7C0" stroke="#000" stroke-width="1.6"/>
<rect x="193.17" y="1041.70" width="17.74" height="54.41" fill="#00B1DD" stroke="#000" stroke-width="1.6"/>
<rect x="193.17" y="1096.11" width="17.74" height="131.08" fill="#00ACE8" stroke="#000" stroke-width="1.6"/>
<rect x="193.17" y="1227.19" width="17.74" height="186.78" fill="#00A5F2" stroke="#000" stroke-width="1.6"/>
<rect x="193.17" y="1413.97" width="17.74" height="2.89" fill="#009EFA" stroke="#000" stroke-width="1.6"/>
<rect x="193.17" y="1416.86" width="17.74" height="7.23" fill="#4E95FF" stroke="#000" stroke-width="1.6"/>
<rect x="193.17" y="1424.09" width="17.74" height="16.74" fill="#7E8CFF" stroke="#000" stroke-width="1.6"/>
<rect x="193.17" y="1440.83" width="17.74" height="2.97" fill="#ABABAB" stroke="#000" stroke-width="1.6"/>
<rect x="210.91" y="841.70" width="17.74" height="9.03" fill="#E5783A" stroke="#000" stroke-width="1.6"/>
<rect x="210.91" y="850.73" width="17.74" height="22.79" fill="#DD7F00" stroke="#000" stroke-width="1.6"/>
<rect x="210.91" y="873.52" width="17.74" height="3.90" fill="#C98B00" stroke="#000" stroke-width="1.6"/>
<rect x="210.91" y="877.43" width="17.74" height="10.88" fill="#9F9C00" stroke="#000" stroke-width="1.6"/>
<rect x="210.91" y="888.31" width="17.74" height="14.37" fill="#5DAA00" stroke="#000" stroke-width="1.6"/>
<rect x="210.91" y="902.68" width="17.74" height="8.42" fill="#33AD00" stroke="#000" stroke-width="1.6"/>
<rect x="210.91" y="911.10" width="17.74" height="3.08" fill="#00B344" stroke="#000" stroke-width="1.6"/>
<rect x="210.91" y="914.18" width="17.74" height="78.23" fill="#00B99E" stroke="#000" stroke-width="1.6"/>
<rect x="210.91" y="992.41" width="17.74" height="56.47" fill="#00B7C0" stroke="#000" stroke-width="1.6"/>
<rect x="210.91" y="1048.88" width="17.74" height="264.67" fill="#00A5F2" stroke="#000" stroke-width="1.6"/>
<rect x="210.91" y="1313.55" width="17.74" height="13.84" fill="#009EFA" stroke="#000" stroke-width="1.6"/>
<rect x="210.91" y="1327.40" width="17.74" height="114.46" fill="#4E95FF" stroke="#000" stroke-width="1.6"/>
<rect x="210.91" y="1441.86" width="17.74" height="1.94" fill="#ABABAB" stroke="#000" stroke-width="1.6"/>
<rect x="228.65" y="841.70" width="17.74" height="71.86" fill="#F26A73" stroke="#000" stroke-width="1.6"/>
<rect x="228.65" y="913.56" width="17.74" height="26.69" fill="#E5783A" stroke="#000" stroke-width="1.6"/>
<rect x="228.65" y="940.26" width="17.74" height="35.32" fill="#D38500" stroke="#000" stroke-width="1.6"/>
<rect x="228.65" y="975.58" width="17.74" height="3.70" fill="#BC9100" stroke="#000" stroke-width="1.6"/>
<rect x="228.65" y="979.27" width="17.74" height="2.67" fill="#9F9C00" stroke="#000" stroke-width="1.6"/>
<rect x="228.65" y="981.94" width="17.74" height="16.22" fill="#78A500" stroke="#000" stroke-width="1.6"/>
<rect x="228.65" y="998.16" width="17.74" height="10.68" fill="#5DAA00" stroke="#000" stroke-width="1.6"/>
<rect x="228.65" y="1008.84" width="17.74" height="6.57" fill="#33AD00" stroke="#000" stroke-width="1.6"/>
<rect x="228.65" y="1015.41" width="17.74" height="15.61" fill="#00B344" stroke="#000" stroke-width="1.6"/>
<rect x="228.65" y="1031.02" width="17.74" height="2.67" fill="#00B560" stroke="#000" stroke-width="1.6"/>
<rect x="228.65" y="1033.69" width="17.74" height="27.52" fill="#00B88C" stroke="#000" stroke-width="1.6"/>
<rect x="228.65" y="1061.20" width="17.74" height="31.83" fill="#00B99E" stroke="#000" stroke-width="1.6"/>
<rect x="228.65" y="1093.03" width="17.74" height="7.19" fill="#00B7C0" stroke="#000" stroke-width="1.6"/>
<rect x="228.65" y="1100.22" width="17.74" height="2.87" fill="#00B4CF" stroke="#000" stroke-width="1.6"/>
<rect x="228.65" y="1103.09" width="17.74" height="6.37" fill="#00B1DD" stroke="#000" stroke-width="1.6"/>
<rect x="228.65" y="1109.46" width="17.74" height="334.34" fill="#00A5F2" stroke="#000" stroke-width="1.6"/>
<rect x="246.39" y="841.70" width="17.74" height="5.95" fill="#F26A73" stroke="#000" stroke-width="1.6"/>
<rect x="246.39" y="847.65" width="17.74" height="1.64" fill="#EC715A" stroke="#000" stroke-width="1.6"/>
<rect x="246.39" y="849.29" width="17.74" height="21.56" fill="#E5783A" stroke="#000" stroke-width="1.6"/>
<rect x="246.39" y="870.85" width="17.74" height="14.37" fill="#DD7F00" stroke="#000" stroke-width="1.6"/>
<rect x="246.39" y="885.23" width="17.74" height="1.64" fill="#C98B00" stroke="#000" stroke-width="1.6"/>
<rect x="246.39" y="886.87" width="17.74" height="77.82" fill="#9F9C00" stroke="#000" stroke-width="1.6"/>
<rect x="246.39" y="964.69" width="17.74" height="35.93" fill="#8DA100" stroke="#000" stroke-width="1.6"/>
<rect x="246.39" y="1000.63" width="17.74" height="51.75" fill="#78A500" stroke="#000" stroke-width="1.6"/>
<rect x="246.39" y="1052.37" width="17.74" height="1.85" fill="#33AD00" stroke="#000" stroke-width="1.6"/>
<rect x="246.39" y="1054.22" width="17.74" height="37.78" fill="#00B344" stroke="#000" stroke-width="1.6"/>
<rect x="246.39" y="1092.00" width="17.74" height="88.70" fill="#00B777" stroke="#000" stroke-width="1.6"/>
<rect x="246.39" y="1180.70" width="17.74" height="80.17" fill="#00B99E" stroke="#000" stroke-width="1.6"/>
<rect x="246.39" y="1260.87" width="17.74" height="5.79" fill="#00B7C0" stroke="#000" stroke-width="1.6"/>
<rect x="246.39" y="1266.65" width="17.74" height="2.69" fill="#00B4CF" stroke="#000" stroke-width="1.6"/>
<rect x="246.39" y="1269.34" width="17.74" height="154.55" fill="#00A5F2" stroke="#000" stroke-width="1.6"/>
<rect x="246.39" y="1423.88" width="17.74" height="16.94" fill="#009EFA" stroke="#000" stroke-width="1.6"/>
<rect x="246.39" y="1440.83" width="17.74" height="2.97" fill="#ABABAB" stroke="#000" stroke-width="1.6"/>
<rect x="264.13" y="841.70" width="17.74" height="5.95" fill="#EC715A" stroke="#000" stroke-width="1.6"/>
<rect x="264.13" y="847.65" width="17.74" height="10.68" fill="#DD7F00" stroke="#000" stroke-width="1.6"/>
<rect x="264.13" y="858.33" width="17.74" height="2.46" fill="#D38500" stroke="#000" stroke-width="1.6"/>
<rect x="264.13" y="860.79" width="17.74" height="2.26" fill="#BC9100" stroke="#000" stroke-width="1.6"/>
<rect x="264.13" y="863.05" width="17.74" height="15.81" fill="#8DA100" stroke="#000" stroke-width="1.6"/>
<rect x="264.13" y="878.86" width="17.74" height="15.40" fill="#78A500" stroke="#000" stroke-width="1.6"/>
<rect x="264.13" y="894.26" width="17.74" height="2.46" fill="#33AD00" stroke="#000" stroke-width="1.6"/>
<rect x="264.13" y="896.73" width="17.74" height="144.97" fill="#00B344" stroke="#000" stroke-width="1.6"/>
<rect x="264.13" y="1041.70" width="17.74" height="17.86" fill="#00B777" stroke="#000" stroke-width="1.6"/>
<rect x="264.13" y="1059.56" width="17.74" height="100.48" fill="#00B88C" stroke="#000" stroke-width="1.6"/>
<rect x="264.13" y="1160.04" width="17.74" height="66.74" fill="#00B99E" stroke="#000" stroke-width="1.6"/>
<rect x="264.13" y="1226.78" width="17.74" height="4.34" fill="#00B8B0" stroke="#000" stroke-width="1.6"/>
<rect x="264.13" y="1231.12" width="17.74" height="18.39" fill="#00B7C0" stroke="#000" stroke-width="1.6"/>
<rect x="264.13" y="1249.50" width="17.74" height="173.55" fill="#00A5F2" stroke="#000" stroke-width="1.6"/>
<rect x="264.13" y="1423.06" width="17.74" height="16.53" fill="#009EFA" stroke="#000" stroke-width="1.6"/>
<rect x="264.13" y="1439.59" width="17.74" height="4.21" fill="#7E8CFF" stroke="#000" stroke-width="1.6"/>
<rect x="281.87" y="841.70" width="17.74" height="2.87" fill="#EC715A" stroke="#000" stroke-width="1.6"/>
<rect x="281.87" y="844.57" width="17.74" height="20.12" fill="#E5783A" stroke="#000" stroke-width="1.6"/>
<rect x="281.87" y="864.69" width="17.74" height="32.03" fill="#DD7F00" stroke="#000" stroke-width="1.6"/>
<rect x="281.87" y="896.73" width="17.74" height="3.49" fill="#C98B00" stroke="#000" stroke-width="1.6"/>
<rect x="281.87" y="900.22" width="17.74" height="3.08" fill="#AF9700" stroke="#000" stroke-width="1.6"/>
<rect x="281.87" y="903.30" width="17.74" height="44.56" fill="#8DA100" stroke="#000" stroke-width="1.6"/>
<rect x="281.87" y="947.86" width="17.74" height="10.27" fill="#78A500" stroke="#000" stroke-width="1.6"/>
<rect x="281.87" y="958.12" width="17.74" height="10.68" fill="#5DAA00" stroke="#000" stroke-width="1.6"/>
<rect x="281.87" y="968.80" width="17.74" height="25.67" fill="#33AD00" stroke="#000" stroke-width="1.6"/>
<rect x="281.87" y="994.47" width="17.74" height="9.24" fill="#00B344" stroke="#000" stroke-width="1.6"/>
<rect x="281.87" y="1003.71" width="17.74" height="80.70" fill="#00B99E" stroke="#000" stroke-width="1.6"/>
<rect x="281.87" y="1084.41" width="17.74" height="3.08" fill="#00B8B0" stroke="#000" stroke-width="1.6"/>
<rect x="281.87" y="1087.49" width="17.74" height="6.57" fill="#00B4CF" stroke="#000" stroke-width="1.6"/>
<rect x="281.87" y="1094.06" width="17.74" height="295.12" fill="#00A5F2" stroke="#000" stroke-width="1.6"/>
<rect x="281.87" y="1389.17" width="17.74" height="54.63" fill="#7E8CFF" stroke="#000" stroke-width="1.6"/>
<rect x="299.61" y="841.70" width="17.74" height="9.03" fill="#EC715A" stroke="#000" stroke-width="1.6"/>
<rect x="299.61" y="850.73" width="17.74" height="78.44" fill="#E5783A" stroke="#000" stroke-width="1.6"/>
<rect x="299.61" y="929.17" width="17.74" height="5.34" fill="#C98B00" stroke="#000" stroke-width="1.6"/>
<rect x="299.61" y="934.51" width="17.74" height="15.81" fill="#8DA100" stroke="#000" stroke-width="1.6"/>
<rect x="299.61" y="950.32" width="17.74" height="44.35" fill="#78A500" stroke="#000" stroke-width="1.6"/>
<rect x="299.61" y="994.67" width="17.74" height="3.29" fill="#33AD00" stroke="#000" stroke-width="1.6"/>
<rect x="299.61" y="997.96" width="17.74" height="20.53" fill="#00B344" stroke="#000" stroke-width="1.6"/>
<rect x="299.61" y="1018.49" width="17.74" height="86.24" fill="#00B560" stroke="#000" stroke-width="1.6"/>
<rect x="299.61" y="1104.74" width="17.74" height="39.40" fill="#00B99E" stroke="#000" stroke-width="1.6"/>
<rect x="299.61" y="1144.13" width="17.74" height="4.55" fill="#00B7C0" stroke="#000" stroke-width="1.6"/>
<rect x="299.61" y="1148.68" width="17.74" height="94.42" fill="#00ACE8" stroke="#000" stroke-width="1.6"/>
<rect x="299.61" y="1243.10" width="17.74" height="152.48" fill="#00A5F2" stroke="#000" stroke-width="1.6"/>
<rect x="299.61" y="1395.58" width="17.74" height="3.93" fill="#009EFA" stroke="#000" stroke-width="1.6"/>
<rect x="299.61" y="1399.50" width="17.74" height="7.02" fill="#4E95FF" stroke="#000" stroke-width="1.6"/>
<rect x="299.61" y="1406.53" width="17.74" height="33.06" fill="#7E8CFF" stroke="#000" stroke-width="1.6"/>
<rect x="299.61" y="1439.59" width="17.74" height="4.21" fill="#ABABAB" stroke="#000" stroke-width="1.6"/>
<rect x="317.35" y="841.70" width="17.74" height="3.49" fill="#F26A73" stroke="#000" stroke-width="1.6"/>
<rect x="317.35" y="845.19" width="17.74" height="4.11" fill="#C98B00" stroke="#000" stroke-width="1.6"/>
<rect x="317.35" y="849.29" width="17.74" height="10.06" fill="#8DA100" stroke="#000" stroke-width="1.6"/>
<rect x="317.35" y="859.36" width="17.74" height="12.73" fill="#78A500" stroke="#000" stroke-width="1.6"/>
<rect x="317.35" y="872.09" width="17.74" height="37.17" fill="#00B344" stroke="#000" stroke-width="1.6"/>
<rect x="317.35" y="909.25" width="17.74" height="2.05" fill="#00B560" stroke="#000" stroke-width="1.6"/>
<rect x="317.35" y="911.31" width="17.74" height="28.34" fill="#00B88C" stroke="#000" stroke-width="1.6"/>
<rect x="317.35" y="939.64" width="17.74" height="38.40" fill="#00B99E" stroke="#000" stroke-width="1.6"/>
<rect x="317.35" y="978.04" width="17.74" height="12.94" fill="#00B7C0" stroke="#000" stroke-width="1.6"/>
<rect x="317.35" y="990.98" width="17.74" height="3.70" fill="#00B4CF" stroke="#000" stroke-width="1.6"/>
<rect x="317.35" y="994.67" width="17.74" height="61.60" fill="#00B1DD" stroke="#000" stroke-width="1.6"/>
<rect x="317.35" y="1056.28" width="17.74" height="224.63" fill="#00ACE8" stroke="#000" stroke-width="1.6"/>
<rect x="317.35" y="1280.91" width="17.74" height="152.27" fill="#00A5F2" stroke="#000" stroke-width="1.6"/>
<rect x="317.35" y="1433.18" width="17.74" height="2.69" fill="#009EFA" stroke="#000" stroke-width="1.6"/>
<rect x="317.35" y="1435.87" width="17.74" height="2.69" fill="#4E95FF" stroke="#000" stroke-width="1.6"/>
<rect x="317.35" y="1438.55" width="17.74" height="2.27" fill="#7E8CFF" stroke="#000" stroke-width="1.6"/>
<rect x="317.35" y="1440.83" width="17.74" height="2.97" fill="#ABABAB" stroke="#000" stroke-width="1.6"/>
<rect x="335.09" y="841.70" width="17.74" height="10.47" fill="#8DA100" stroke="#000" stroke-width="1.6"/>
<rect x="335.09" y="852.17" width="17.74" height="4.52" fill="#33AD00" stroke="#000" stroke-width="1.6"/>
<rect x="335.09" y="856.69" width="17.74" height="26.49" fill="#00B344" stroke="#000" stroke-width="1.6"/>
<rect x="335.09" y="883.17" width="17.74" height="2.26" fill="#00B777" stroke="#000" stroke-width="1.6"/>
<rect x="335.09" y="885.43" width="17.74" height="28.95" fill="#00B99E" stroke="#000" stroke-width="1.6"/>
<rect x="335.09" y="914.39" width="17.74" height="4.31" fill="#00B7C0" stroke="#000" stroke-width="1.6"/>
<rect x="335.09" y="918.70" width="17.74" height="361.18" fill="#00ACE8" stroke="#000" stroke-width="1.6"/>
<rect x="335.09" y="1279.88" width="17.74" height="145.66" fill="#00A5F2" stroke="#000" stroke-width="1.6"/>
<rect x="335.09" y="1425.54" width="17.74" height="18.26" fill="#009EFA" stroke="#000" stroke-width="1.6"/>
<rect x="352.83" y="841.70" width="17.74" height="3.90" fill="#EC715A" stroke="#000" stroke-width="1.6"/>
<rect x="352.83" y="845.60" width="17.74" height="17.04" fill="#E5783A" stroke="#000" stroke-width="1.6"/>
<rect x="352.83" y="862.64" width="17.74" height="4.93" fill="#D38500" stroke="#000" stroke-width="1.6"/>
<rect x="352.83" y="867.57" width="17.74" height="104.31" fill="#8DA100" stroke="#000" stroke-width="1.6"/>
<rect x="352.83" y="971.88" width="17.74" height="71.66" fill="#78A500" stroke="#000" stroke-width="1.6"/>
<rect x="352.83" y="1043.54" width="17.74" height="2.46" fill="#33AD00" stroke="#000" stroke-width="1.6"/>
<rect x="352.83" y="1046.01" width="17.74" height="5.13" fill="#00B344" stroke="#000" stroke-width="1.6"/>
<rect x="352.83" y="1051.14" width="17.74" height="90.72" fill="#00B560" stroke="#000" stroke-width="1.6"/>
<rect x="352.83" y="1141.86" width="17.74" height="14.05" fill="#00B88C" stroke="#000" stroke-width="1.6"/>
<rect x="352.83" y="1155.91" width="17.74" height="57.02" fill="#00B99E" stroke="#000" stroke-width="1.6"/>
<rect x="352.83" y="1212.93" width="17.74" height="5.17" fill="#00B8B0" stroke="#000" stroke-width="1.6"/>
<rect x="352.83" y="1218.10" width="17.74" height="5.99" fill="#00B4CF" stroke="#000" stroke-width="1.6"/>
<rect x="352.83" y="1224.09" width="17.74" height="151.86" fill="#00A5F2" stroke="#000" stroke-width="1.6"/>
<rect x="352.83" y="1375.95" width="17.74" height="38.84" fill="#009EFA" stroke="#000" stroke-width="1.6"/>
<rect x="352.83" y="1414.79" width="17.74" height="25.21" fill="#7E8CFF" stroke="#000" stroke-width="1.6"/>
<rect x="352.83" y="1440.00" width="17.74" height="3.80" fill="#ABABAB" stroke="#000" stroke-width="1.6"/>
<rect x="370.57" y="841.70" width="17.74" height="21.56" fill="#F26A73" stroke="#000" stroke-width="1.6"/>
<rect x="370.57" y="863.26" width="17.74" height="3.29" fill="#EC715A" stroke="#000" stroke-width="1.6"/>
<rect x="370.57" y="866.54" width="17.74" height="43.74" fill="#E5783A" stroke="#000" stroke-width="1.6"/>
<rect x="370.57" y="910.28" width="17.74" height="44.76" fill="#DD7F00" stroke="#000" stroke-width="1.6"/>
<rect x="370.57" y="955.04" width="17.74" height="16.84" fill="#8DA100" stroke="#000" stroke-width="1.6"/>
<rect x="370.57" y="971.88" width="17.74" height="75.15" fill="#78A500" stroke="#000" stroke-width="1.6"/>
<rect x="370.57" y="1047.03" width="17.74" height="97.51" fill="#00B344" stroke="#000" stroke-width="1.6"/>
<rect x="370.57" y="1144.55" width="17.74" height="2.89" fill="#00B560" stroke="#000" stroke-width="1.6"/>
<rect x="370.57" y="1147.44" width="17.74" height="37.40" fill="#00B88C" stroke="#000" stroke-width="1.6"/>
<rect x="370.57" y="1184.83" width="17.74" height="20.45" fill="#00B99E" stroke="#000" stroke-width="1.6"/>
<rect x="370.57" y="1205.29" width="17.74" height="2.69" fill="#00B7C0" stroke="#000" stroke-width="1.6"/>
<rect x="370.57" y="1207.98" width="17.74" height="227.89" fill="#00A5F2" stroke="#000" stroke-width="1.6"/>
<rect x="370.57" y="1435.87" width="17.74" height="1.65" fill="#4E95FF" stroke="#000" stroke-width="1.6"/>
<rect x="370.57" y="1437.52" width="17.74" height="2.48" fill="#7E8CFF" stroke="#000" stroke-width="1.6"/>
<rect x="370.57" y="1440.00" width="17.74" height="3.80" fill="#ABABAB" stroke="#000" stroke-width="1.6"/>
<rect x="388.31" y="841.70" width="17.74" height="3.28" fill="#F26A73" stroke="#000" stroke-width="1.6"/>
<rect x="388.31" y="844.98" width="17.74" height="10.88" fill="#EC715A" stroke="#000" stroke-width="1.6"/>
<rect x="388.31" y="855.86" width="17.74" height="93.63" fill="#8DA100" stroke="#000" stroke-width="1.6"/>
<rect x="388.31" y="949.50" width="17.74" height="65.91" fill="#78A500" stroke="#000" stroke-width="1.6"/>
<rect x="388.31" y="1015.41" width="17.74" height="3.90" fill="#33AD00" stroke="#000" stroke-width="1.6"/>
<rect x="388.31" y="1019.31" width="17.74" height="11.50" fill="#00B344" stroke="#000" stroke-width="1.6"/>
<rect x="388.31" y="1030.81" width="17.74" height="149.89" fill="#00B560" stroke="#000" stroke-width="1.6"/>
<rect x="388.31" y="1180.70" width="17.74" height="33.68" fill="#00B88C" stroke="#000" stroke-width="1.6"/>
<rect x="388.31" y="1214.38" width="17.74" height="24.79" fill="#00B99E" stroke="#000" stroke-width="1.6"/>
<rect x="388.31" y="1239.17" width="17.74" height="9.71" fill="#00B8B0" stroke="#000" stroke-width="1.6"/>
<rect x="388.31" y="1248.88" width="17.74" height="13.84" fill="#00B7C0" stroke="#000" stroke-width="1.6"/>
<rect x="388.31" y="1262.73" width="17.74" height="169.01" fill="#00A5F2" stroke="#000" stroke-width="1.6"/>
<rect x="388.31" y="1431.74" width="17.74" height="12.06" fill="#4E95FF" stroke="#000" stroke-width="1.6"/>
<rect x="85.0" y="811.8" width="322.8" height="662.2" fill="none" stroke="#333333" stroke-width="2.0"/>
<line x1="79.2" y1="841.7" x2="85" y2="841.7" stroke="#333333" stroke-width="1.9"/>
<text x="74" y="848.9" font-size="18.3" text-anchor="end" fill="#4D4D4D" >1.00</text>
<line x1="79.2" y1="992.23" x2="85" y2="992.23" stroke="#333333" stroke-width="1.9"/>
<text x="74" y="999.43" font-size="18.3" text-anchor="end" fill="#4D4D4D" >0.75</text>
<line x1="79.2" y1="1142.75" x2="85" y2="1142.75" stroke="#333333" stroke-width="1.9"/>
<text x="74" y="1149.95" font-size="18.3" text-anchor="end" fill="#4D4D4D" >0.50</text>
<line x1="79.2" y1="1293.28" x2="85" y2="1293.28" stroke="#333333" stroke-width="1.9"/>
<text x="74" y="1300.48" font-size="18.3" text-anchor="end" fill="#4D4D4D" >0.25</text>
<line x1="79.2" y1="1443.8" x2="85" y2="1443.8" stroke="#333333" stroke-width="1.9"/>
<text x="74" y="1451" font-size="18.3" text-anchor="end" fill="#4D4D4D" >0.00</text>
<line x1="95.6" y1="1474" x2="95.6" y2="1479.8" stroke="#333333" stroke-width="1.9"/>
<line x1="113.34" y1="1474" x2="113.34" y2="1479.8" stroke="#333333" stroke-width="1.9"/>
<line x1="131.08" y1="1474" x2="131.08" y2="1479.8" stroke="#333333" stroke-width="1.9"/>
<line x1="148.82" y1="1474" x2="148.82" y2="1479.8" stroke="#333333" stroke-width="1.9"/>
<line x1="166.56" y1="1474" x2="166.56" y2="1479.8" stroke="#333333" stroke-width="1.9"/>
<line x1="184.3" y1="1474" x2="184.3" y2="1479.8" stroke="#333333" stroke-width="1.9"/>
<line x1="202.04" y1="1474" x2="202.04" y2="1479.8" stroke="#333333" stroke-width="1.9"/>
<line x1="219.78" y1="1474" x2="219.78" y2="1479.8" stroke="#333333" stroke-width="1.9"/>
<line x1="237.52" y1="1474" x2="237.52" y2="1479.8" stroke="#333333" stroke-width="1.9"/>
<line x1="255.26" y1="1474" x2="255.26" y2="1479.8" stroke="#333333" stroke-width="1.9"/>
<line x1="273" y1="1474" x2="273" y2="1479.8" stroke="#333333" stroke-width="1.9"/>
<line x1="290.74" y1="1474" x2="290.74" y2="1479.8" stroke="#333333" stroke-width="1.9"/>
<line x1="308.48" y1="1474" x2="308.48" y2="1479.8" stroke="#333333" stroke-width="1.9"/>
<line x1="326.22" y1="1474" x2="326.22" y2="1479.8" stroke="#333333" stroke-width="1.9"/>
<line x1="343.96" y1="1474" x2="343.96" y2="1479.8" stroke="#333333" stroke-width="1.9"/>
<line x1="361.7" y1="1474" x2="361.7" y2="1479.8" stroke="#333333" stroke-width="1.9"/>
<line x1="379.44" y1="1474" x2="379.44" y2="1479.8" stroke="#333333" stroke-width="1.9"/>
<line x1="397.18" y1="1474" x2="397.18" y2="1479.8" stroke="#333333" stroke-width="1.9"/>
<rect x="522.3" y="811.8" width="321.70000000000005" height="662.2" fill="#fff"/>
<line x1="528.5" y1="811.8" x2="528.5" y2="1474" stroke="#EBEBEB" stroke-width="2.0"/>
<line x1="538.81" y1="811.8" x2="538.81" y2="1474" stroke="#EBEBEB" stroke-width="2.0"/>
<line x1="549.12" y1="811.8" x2="549.12" y2="1474" stroke="#EBEBEB" stroke-width="2.0"/>
<line x1="559.43" y1="811.8" x2="559.43" y2="1474" stroke="#EBEBEB" stroke-width="2.0"/>
<line x1="569.74" y1="811.8" x2="569.74" y2="1474" stroke="#EBEBEB" stroke-width="2.0"/>
<line x1="580.05" y1="811.8" x2="580.05" y2="1474" stroke="#EBEBEB" stroke-width="2.0"/>
<line x1="590.36" y1="811.8" x2="590.36" y2="1474" stroke="#EBEBEB" stroke-width="2.0"/>
<line x1="600.67" y1="811.8" x2="600.67" y2="1474" stroke="#EBEBEB" stroke-width="2.0"/>
<line x1="610.98" y1="811.8" x2="610.98" y2="1474" stroke="#EBEBEB" stroke-width="2.0"/>
<line x1="621.29" y1="811.8" x2="621.29" y2="1474" stroke="#EBEBEB" stroke-width="2.0"/>
<line x1="631.6" y1="811.8" x2="631.6" y2="1474" stroke="#EBEBEB" stroke-width="2.0"/>
<line x1="641.91" y1="811.8" x2="641.91" y2="1474" stroke="#EBEBEB" stroke-width="2.0"/>
<line x1="652.22" y1="811.8" x2="652.22" y2="1474" stroke="#EBEBEB" stroke-width="2.0"/>
<line x1="662.53" y1="811.8" x2="662.53" y2="1474" stroke="#EBEBEB" stroke-width="2.0"/>
<line x1="672.84" y1="811.8" x2="672.84" y2="1474" stroke="#EBEBEB" stroke-width="2.0"/>
<line x1="683.15" y1="811.8" x2="683.15" y2="1474" stroke="#EBEBEB" stroke-width="2.0"/>
<line x1="693.46" y1="811.8" x2="693.46" y2="1474" stroke="#EBEBEB" stroke-width="2.0"/>
<line x1="703.77" y1="811.8" x2="703.77" y2="1474" stroke="#EBEBEB" stroke-width="2.0"/>
<line x1="714.08" y1="811.8" x2="714.08" y2="1474" stroke="#EBEBEB" stroke-width="2.0"/>
<line x1="724.39" y1="811.8" x2="724.39" y2="1474" stroke="#EBEBEB" stroke-width="2.0"/>
<line x1="734.7" y1="811.8" x2="734.7" y2="1474" stroke="#EBEBEB" stroke-width="2.0"/>
<line x1="745.01" y1="811.8" x2="745.01" y2="1474" stroke="#EBEBEB" stroke-width="2.0"/>
<line x1="755.32" y1="811.8" x2="755.32" y2="1474" stroke="#EBEBEB" stroke-width="2.0"/>
<line x1="765.63" y1="811.8" x2="765.63" y2="1474" stroke="#EBEBEB" stroke-width="2.0"/>
<line x1="775.94" y1="811.8" x2="775.94" y2="1474" stroke="#EBEBEB" stroke-width="2.0"/>
<line x1="786.25" y1="811.8" x2="786.25" y2="1474" stroke="#EBEBEB" stroke-width="2.0"/>
<line x1="796.56" y1="811.8" x2="796.56" y2="1474" stroke="#EBEBEB" stroke-width="2.0"/>
<line x1="806.87" y1="811.8" x2="806.87" y2="1474" stroke="#EBEBEB" stroke-width="2.0"/>
<line x1="817.18" y1="811.8" x2="817.18" y2="1474" stroke="#EBEBEB" stroke-width="2.0"/>
<line x1="827.49" y1="811.8" x2="827.49" y2="1474" stroke="#EBEBEB" stroke-width="2.0"/>
<line x1="837.8" y1="811.8" x2="837.8" y2="1474" stroke="#EBEBEB" stroke-width="2.0"/>
<rect x="523.35" y="841.70" width="10.31" height="12.11" fill="#F26A73" stroke="#000" stroke-width="1.6"/>
<rect x="523.35" y="853.81" width="10.31" height="2.87" fill="#EC715A" stroke="#000" stroke-width="1.6"/>
<rect x="523.35" y="856.69" width="10.31" height="10.47" fill="#E5783A" stroke="#000" stroke-width="1.6"/>
<rect x="523.35" y="867.16" width="10.31" height="12.32" fill="#DD7F00" stroke="#000" stroke-width="1.6"/>
<rect x="523.35" y="879.48" width="10.31" height="115.40" fill="#D38500" stroke="#000" stroke-width="1.6"/>
<rect x="523.35" y="994.88" width="10.31" height="8.42" fill="#BC9100" stroke="#000" stroke-width="1.6"/>
<rect x="523.35" y="1003.30" width="10.31" height="20.94" fill="#9F9C00" stroke="#000" stroke-width="1.6"/>
<rect x="523.35" y="1024.24" width="10.31" height="2.46" fill="#78A500" stroke="#000" stroke-width="1.6"/>
<rect x="523.35" y="1026.71" width="10.31" height="106.98" fill="#5DAA00" stroke="#000" stroke-width="1.6"/>
<rect x="523.35" y="1133.69" width="10.31" height="37.72" fill="#33AD00" stroke="#000" stroke-width="1.6"/>
<rect x="523.35" y="1171.40" width="10.31" height="19.63" fill="#00B344" stroke="#000" stroke-width="1.6"/>
<rect x="523.35" y="1191.03" width="10.31" height="3.72" fill="#00B560" stroke="#000" stroke-width="1.6"/>
<rect x="523.35" y="1194.75" width="10.31" height="20.04" fill="#00B88C" stroke="#000" stroke-width="1.6"/>
<rect x="523.35" y="1214.79" width="10.31" height="12.40" fill="#00B99E" stroke="#000" stroke-width="1.6"/>
<rect x="523.35" y="1227.19" width="10.31" height="3.10" fill="#00B7C0" stroke="#000" stroke-width="1.6"/>
<rect x="523.35" y="1230.29" width="10.31" height="177.69" fill="#00A5F2" stroke="#000" stroke-width="1.6"/>
<rect x="523.35" y="1407.98" width="10.31" height="3.10" fill="#4E95FF" stroke="#000" stroke-width="1.6"/>
<rect x="523.35" y="1411.07" width="10.31" height="32.73" fill="#7E8CFF" stroke="#000" stroke-width="1.6"/>
<rect x="533.65" y="841.70" width="10.31" height="12.11" fill="#E5783A" stroke="#000" stroke-width="1.6"/>
<rect x="533.65" y="853.81" width="10.31" height="4.72" fill="#BC9100" stroke="#000" stroke-width="1.6"/>
<rect x="533.65" y="858.53" width="10.31" height="21.56" fill="#9F9C00" stroke="#000" stroke-width="1.6"/>
<rect x="533.65" y="880.09" width="10.31" height="42.51" fill="#8DA100" stroke="#000" stroke-width="1.6"/>
<rect x="533.65" y="922.60" width="10.31" height="17.04" fill="#78A500" stroke="#000" stroke-width="1.6"/>
<rect x="533.65" y="939.64" width="10.31" height="17.45" fill="#5DAA00" stroke="#000" stroke-width="1.6"/>
<rect x="533.65" y="957.10" width="10.31" height="8.01" fill="#33AD00" stroke="#000" stroke-width="1.6"/>
<rect x="533.65" y="965.10" width="10.31" height="40.45" fill="#00B344" stroke="#000" stroke-width="1.6"/>
<rect x="533.65" y="1005.56" width="10.31" height="3.08" fill="#00B560" stroke="#000" stroke-width="1.6"/>
<rect x="533.65" y="1008.64" width="10.31" height="82.96" fill="#00B777" stroke="#000" stroke-width="1.6"/>
<rect x="533.65" y="1091.59" width="10.31" height="4.52" fill="#00B88C" stroke="#000" stroke-width="1.6"/>
<rect x="533.65" y="1096.11" width="10.31" height="54.63" fill="#00B99E" stroke="#000" stroke-width="1.6"/>
<rect x="533.65" y="1150.74" width="10.31" height="17.56" fill="#00B7C0" stroke="#000" stroke-width="1.6"/>
<rect x="533.65" y="1168.31" width="10.31" height="181.82" fill="#00A5F2" stroke="#000" stroke-width="1.6"/>
<rect x="533.65" y="1350.12" width="10.31" height="50.62" fill="#009EFA" stroke="#000" stroke-width="1.6"/>
<rect x="533.65" y="1400.74" width="10.31" height="7.23" fill="#4E95FF" stroke="#000" stroke-width="1.6"/>
<rect x="533.65" y="1407.98" width="10.31" height="32.02" fill="#7E8CFF" stroke="#000" stroke-width="1.6"/>
<rect x="533.65" y="1440.00" width="10.31" height="3.80" fill="#ABABAB" stroke="#000" stroke-width="1.6"/>
<rect x="543.97" y="841.70" width="10.31" height="2.87" fill="#F26A73" stroke="#000" stroke-width="1.6"/>
<rect x="543.97" y="844.57" width="10.31" height="103.29" fill="#DD7F00" stroke="#000" stroke-width="1.6"/>
<rect x="543.97" y="947.86" width="10.31" height="59.34" fill="#BC9100" stroke="#000" stroke-width="1.6"/>
<rect x="543.97" y="1007.20" width="10.31" height="68.38" fill="#8DA100" stroke="#000" stroke-width="1.6"/>
<rect x="543.97" y="1075.58" width="10.31" height="42.92" fill="#78A500" stroke="#000" stroke-width="1.6"/>
<rect x="543.97" y="1118.49" width="10.31" height="6.16" fill="#5DAA00" stroke="#000" stroke-width="1.6"/>
<rect x="543.97" y="1124.65" width="10.31" height="2.87" fill="#33AD00" stroke="#000" stroke-width="1.6"/>
<rect x="543.97" y="1127.53" width="10.31" height="26.32" fill="#00B344" stroke="#000" stroke-width="1.6"/>
<rect x="543.97" y="1153.84" width="10.31" height="65.70" fill="#00B88C" stroke="#000" stroke-width="1.6"/>
<rect x="543.97" y="1219.55" width="10.31" height="16.32" fill="#00B8B0" stroke="#000" stroke-width="1.6"/>
<rect x="543.97" y="1235.87" width="10.31" height="185.95" fill="#00A5F2" stroke="#000" stroke-width="1.6"/>
<rect x="543.97" y="1421.82" width="10.31" height="6.82" fill="#009EFA" stroke="#000" stroke-width="1.6"/>
<rect x="543.97" y="1428.64" width="10.31" height="11.36" fill="#7E8CFF" stroke="#000" stroke-width="1.6"/>
<rect x="543.97" y="1440.00" width="10.31" height="3.80" fill="#ABABAB" stroke="#000" stroke-width="1.6"/>
<rect x="554.27" y="841.70" width="10.31" height="21.35" fill="#EC715A" stroke="#000" stroke-width="1.6"/>
<rect x="554.27" y="863.05" width="10.31" height="29.77" fill="#E5783A" stroke="#000" stroke-width="1.6"/>
<rect x="554.27" y="892.83" width="10.31" height="4.52" fill="#C98B00" stroke="#000" stroke-width="1.6"/>
<rect x="554.27" y="897.34" width="10.31" height="69.82" fill="#9F9C00" stroke="#000" stroke-width="1.6"/>
<rect x="554.27" y="967.16" width="10.31" height="41.68" fill="#8DA100" stroke="#000" stroke-width="1.6"/>
<rect x="554.27" y="1008.84" width="10.31" height="52.36" fill="#78A500" stroke="#000" stroke-width="1.6"/>
<rect x="554.27" y="1061.20" width="10.31" height="4.93" fill="#5DAA00" stroke="#000" stroke-width="1.6"/>
<rect x="554.27" y="1066.13" width="10.31" height="5.95" fill="#33AD00" stroke="#000" stroke-width="1.6"/>
<rect x="554.27" y="1072.09" width="10.31" height="96.84" fill="#00B344" stroke="#000" stroke-width="1.6"/>
<rect x="554.27" y="1168.93" width="10.31" height="41.74" fill="#00B88C" stroke="#000" stroke-width="1.6"/>
<rect x="554.27" y="1210.66" width="10.31" height="7.23" fill="#00B8B0" stroke="#000" stroke-width="1.6"/>
<rect x="554.27" y="1217.89" width="10.31" height="173.97" fill="#00A5F2" stroke="#000" stroke-width="1.6"/>
<rect x="554.27" y="1391.86" width="10.31" height="24.38" fill="#009EFA" stroke="#000" stroke-width="1.6"/>
<rect x="554.27" y="1416.24" width="10.31" height="6.20" fill="#4E95FF" stroke="#000" stroke-width="1.6"/>
<rect x="554.27" y="1422.44" width="10.31" height="15.50" fill="#7E8CFF" stroke="#000" stroke-width="1.6"/>
<rect x="554.27" y="1437.93" width="10.31" height="5.87" fill="#ABABAB" stroke="#000" stroke-width="1.6"/>
<rect x="564.59" y="841.70" width="10.31" height="11.91" fill="#E5783A" stroke="#000" stroke-width="1.6"/>
<rect x="564.59" y="853.61" width="10.31" height="4.11" fill="#C98B00" stroke="#000" stroke-width="1.6"/>
<rect x="564.59" y="857.71" width="10.31" height="54.62" fill="#9F9C00" stroke="#000" stroke-width="1.6"/>
<rect x="564.59" y="912.33" width="10.31" height="62.63" fill="#8DA100" stroke="#000" stroke-width="1.6"/>
<rect x="564.59" y="974.96" width="10.31" height="49.28" fill="#78A500" stroke="#000" stroke-width="1.6"/>
<rect x="564.59" y="1024.24" width="10.31" height="9.24" fill="#5DAA00" stroke="#000" stroke-width="1.6"/>
<rect x="564.59" y="1033.48" width="10.31" height="1.85" fill="#00B015" stroke="#000" stroke-width="1.6"/>
<rect x="564.59" y="1035.33" width="10.31" height="81.93" fill="#00B344" stroke="#000" stroke-width="1.6"/>
<rect x="564.59" y="1117.26" width="10.31" height="33.07" fill="#00B99E" stroke="#000" stroke-width="1.6"/>
<rect x="564.59" y="1150.33" width="10.31" height="6.61" fill="#00B7C0" stroke="#000" stroke-width="1.6"/>
<rect x="564.59" y="1156.94" width="10.31" height="2.69" fill="#00B4CF" stroke="#000" stroke-width="1.6"/>
<rect x="564.59" y="1159.63" width="10.31" height="10.33" fill="#00B1DD" stroke="#000" stroke-width="1.6"/>
<rect x="564.59" y="1169.96" width="10.31" height="222.52" fill="#00A5F2" stroke="#000" stroke-width="1.6"/>
<rect x="564.59" y="1392.48" width="10.31" height="2.89" fill="#4E95FF" stroke="#000" stroke-width="1.6"/>
<rect x="564.59" y="1395.37" width="10.31" height="44.63" fill="#7E8CFF" stroke="#000" stroke-width="1.6"/>
<rect x="564.59" y="1440.00" width="10.31" height="3.80" fill="#ABABAB" stroke="#000" stroke-width="1.6"/>
<rect x="574.89" y="841.70" width="10.31" height="22.99" fill="#DD7F00" stroke="#000" stroke-width="1.6"/>
<rect x="574.89" y="864.69" width="10.31" height="10.27" fill="#D38500" stroke="#000" stroke-width="1.6"/>
<rect x="574.89" y="874.96" width="10.31" height="7.19" fill="#BC9100" stroke="#000" stroke-width="1.6"/>
<rect x="574.89" y="882.15" width="10.31" height="24.64" fill="#8DA100" stroke="#000" stroke-width="1.6"/>
<rect x="574.89" y="906.79" width="10.31" height="3.49" fill="#5DAA00" stroke="#000" stroke-width="1.6"/>
<rect x="574.89" y="910.28" width="10.31" height="16.02" fill="#00B344" stroke="#000" stroke-width="1.6"/>
<rect x="574.89" y="926.30" width="10.31" height="109.24" fill="#00B88C" stroke="#000" stroke-width="1.6"/>
<rect x="574.89" y="1035.54" width="10.31" height="48.87" fill="#00B99E" stroke="#000" stroke-width="1.6"/>
<rect x="574.89" y="1084.41" width="10.31" height="9.03" fill="#00B7C0" stroke="#000" stroke-width="1.6"/>
<rect x="574.89" y="1093.44" width="10.31" height="5.75" fill="#00B4CF" stroke="#000" stroke-width="1.6"/>
<rect x="574.89" y="1099.19" width="10.31" height="194.11" fill="#00A5F2" stroke="#000" stroke-width="1.6"/>
<rect x="574.89" y="1293.31" width="10.31" height="80.17" fill="#009EFA" stroke="#000" stroke-width="1.6"/>
<rect x="574.89" y="1373.47" width="10.31" height="14.88" fill="#4E95FF" stroke="#000" stroke-width="1.6"/>
<rect x="574.89" y="1388.35" width="10.31" height="47.93" fill="#7E8CFF" stroke="#000" stroke-width="1.6"/>
<rect x="574.89" y="1436.28" width="10.31" height="7.52" fill="#ABABAB" stroke="#000" stroke-width="1.6"/>
<rect x="585.21" y="841.70" width="10.31" height="14.16" fill="#E5783A" stroke="#000" stroke-width="1.6"/>
<rect x="585.21" y="855.86" width="10.31" height="2.67" fill="#C98B00" stroke="#000" stroke-width="1.6"/>
<rect x="585.21" y="858.53" width="10.31" height="3.08" fill="#AF9700" stroke="#000" stroke-width="1.6"/>
<rect x="585.21" y="861.61" width="10.31" height="2.67" fill="#9F9C00" stroke="#000" stroke-width="1.6"/>
<rect x="585.21" y="864.28" width="10.31" height="2.87" fill="#8DA100" stroke="#000" stroke-width="1.6"/>
<rect x="585.21" y="867.16" width="10.31" height="23.61" fill="#78A500" stroke="#000" stroke-width="1.6"/>
<rect x="585.21" y="890.77" width="10.31" height="3.29" fill="#33AD00" stroke="#000" stroke-width="1.6"/>
<rect x="585.21" y="894.06" width="10.31" height="21.97" fill="#00B344" stroke="#000" stroke-width="1.6"/>
<rect x="585.21" y="916.03" width="10.31" height="49.28" fill="#00B99E" stroke="#000" stroke-width="1.6"/>
<rect x="585.21" y="965.31" width="10.31" height="5.54" fill="#00B7C0" stroke="#000" stroke-width="1.6"/>
<rect x="585.21" y="970.85" width="10.31" height="364.81" fill="#00ACE8" stroke="#000" stroke-width="1.6"/>
<rect x="585.21" y="1335.66" width="10.31" height="103.31" fill="#00A5F2" stroke="#000" stroke-width="1.6"/>
<rect x="585.21" y="1438.97" width="10.31" height="4.83" fill="#ABABAB" stroke="#000" stroke-width="1.6"/>
<rect x="595.51" y="841.70" width="10.31" height="10.06" fill="#F26A73" stroke="#000" stroke-width="1.6"/>
<rect x="595.51" y="851.76" width="10.31" height="2.46" fill="#EC715A" stroke="#000" stroke-width="1.6"/>
<rect x="595.51" y="854.22" width="10.31" height="24.85" fill="#E5783A" stroke="#000" stroke-width="1.6"/>
<rect x="595.51" y="879.07" width="10.31" height="16.84" fill="#C98B00" stroke="#000" stroke-width="1.6"/>
<rect x="595.51" y="895.91" width="10.31" height="42.71" fill="#AF9700" stroke="#000" stroke-width="1.6"/>
<rect x="595.51" y="938.62" width="10.31" height="4.93" fill="#9F9C00" stroke="#000" stroke-width="1.6"/>
<rect x="595.51" y="943.54" width="10.31" height="17.66" fill="#8DA100" stroke="#000" stroke-width="1.6"/>
<rect x="595.51" y="961.20" width="10.31" height="9.65" fill="#78A500" stroke="#000" stroke-width="1.6"/>
<rect x="595.51" y="970.85" width="10.31" height="29.77" fill="#5DAA00" stroke="#000" stroke-width="1.6"/>
<rect x="595.51" y="1000.63" width="10.31" height="5.75" fill="#33AD00" stroke="#000" stroke-width="1.6"/>
<rect x="595.51" y="1006.38" width="10.31" height="16.43" fill="#00B344" stroke="#000" stroke-width="1.6"/>
<rect x="595.51" y="1022.80" width="10.31" height="28.13" fill="#00B560" stroke="#000" stroke-width="1.6"/>
<rect x="595.51" y="1050.94" width="10.31" height="67.56" fill="#00B88C" stroke="#000" stroke-width="1.6"/>
<rect x="595.51" y="1118.49" width="10.31" height="15.61" fill="#00B99E" stroke="#000" stroke-width="1.6"/>
<rect x="595.51" y="1134.10" width="10.31" height="8.38" fill="#00B7C0" stroke="#000" stroke-width="1.6"/>
<rect x="595.51" y="1142.48" width="10.31" height="222.11" fill="#00A5F2" stroke="#000" stroke-width="1.6"/>
<rect x="595.51" y="1364.59" width="10.31" height="8.88" fill="#009EFA" stroke="#000" stroke-width="1.6"/>
<rect x="595.51" y="1373.47" width="10.31" height="15.50" fill="#4E95FF" stroke="#000" stroke-width="1.6"/>
<rect x="595.51" y="1388.97" width="10.31" height="40.70" fill="#7E8CFF" stroke="#000" stroke-width="1.6"/>
<rect x="595.51" y="1429.67" width="10.31" height="14.13" fill="#ABABAB" stroke="#000" stroke-width="1.6"/>
<rect x="605.83" y="841.70" width="10.31" height="20.32" fill="#E5783A" stroke="#000" stroke-width="1.6"/>
<rect x="605.83" y="862.02" width="10.31" height="10.68" fill="#DD7F00" stroke="#000" stroke-width="1.6"/>
<rect x="605.83" y="872.70" width="10.31" height="64.68" fill="#C98B00" stroke="#000" stroke-width="1.6"/>
<rect x="605.83" y="937.38" width="10.31" height="146.00" fill="#8DA100" stroke="#000" stroke-width="1.6"/>
<rect x="605.83" y="1083.38" width="10.31" height="171.08" fill="#78A500" stroke="#000" stroke-width="1.6"/>
<rect x="605.83" y="1254.46" width="10.31" height="6.82" fill="#5DAA00" stroke="#000" stroke-width="1.6"/>
<rect x="605.83" y="1261.28" width="10.31" height="7.85" fill="#33AD00" stroke="#000" stroke-width="1.6"/>
<rect x="605.83" y="1269.13" width="10.31" height="9.30" fill="#00B344" stroke="#000" stroke-width="1.6"/>
<rect x="605.83" y="1278.43" width="10.31" height="1.65" fill="#00B777" stroke="#000" stroke-width="1.6"/>
<rect x="605.83" y="1280.08" width="10.31" height="19.42" fill="#00B99E" stroke="#000" stroke-width="1.6"/>
<rect x="605.83" y="1299.50" width="10.31" height="144.30" fill="#00A5F2" stroke="#000" stroke-width="1.6"/>
<rect x="616.13" y="841.70" width="10.31" height="41.47" fill="#E5783A" stroke="#000" stroke-width="1.6"/>
<rect x="616.13" y="883.17" width="10.31" height="15.20" fill="#DD7F00" stroke="#000" stroke-width="1.6"/>
<rect x="616.13" y="898.37" width="10.31" height="10.88" fill="#BC9100" stroke="#000" stroke-width="1.6"/>
<rect x="616.13" y="909.25" width="10.31" height="6.78" fill="#AF9700" stroke="#000" stroke-width="1.6"/>
<rect x="616.13" y="916.03" width="10.31" height="7.60" fill="#8DA100" stroke="#000" stroke-width="1.6"/>
<rect x="616.13" y="923.63" width="10.31" height="17.45" fill="#78A500" stroke="#000" stroke-width="1.6"/>
<rect x="616.13" y="941.08" width="10.31" height="30.80" fill="#00B344" stroke="#000" stroke-width="1.6"/>
<rect x="616.13" y="971.88" width="10.31" height="1.85" fill="#00B777" stroke="#000" stroke-width="1.6"/>
<rect x="616.13" y="973.73" width="10.31" height="44.76" fill="#00B99E" stroke="#000" stroke-width="1.6"/>
<rect x="616.13" y="1018.49" width="10.31" height="2.05" fill="#00B4CF" stroke="#000" stroke-width="1.6"/>
<rect x="616.13" y="1020.55" width="10.31" height="267.18" fill="#00ACE8" stroke="#000" stroke-width="1.6"/>
<rect x="616.13" y="1287.73" width="10.31" height="156.07" fill="#00A5F2" stroke="#000" stroke-width="1.6"/>
<rect x="626.45" y="841.70" width="10.31" height="7.39" fill="#E5783A" stroke="#000" stroke-width="1.6"/>
<rect x="626.45" y="849.09" width="10.31" height="7.80" fill="#BC9100" stroke="#000" stroke-width="1.6"/>
<rect x="626.45" y="856.89" width="10.31" height="39.01" fill="#AF9700" stroke="#000" stroke-width="1.6"/>
<rect x="626.45" y="895.91" width="10.31" height="10.27" fill="#8DA100" stroke="#000" stroke-width="1.6"/>
<rect x="626.45" y="906.17" width="10.31" height="41.68" fill="#78A500" stroke="#000" stroke-width="1.6"/>
<rect x="626.45" y="947.86" width="10.31" height="3.70" fill="#5DAA00" stroke="#000" stroke-width="1.6"/>
<rect x="626.45" y="951.55" width="10.31" height="3.70" fill="#33AD00" stroke="#000" stroke-width="1.6"/>
<rect x="626.45" y="955.25" width="10.31" height="24.44" fill="#00B344" stroke="#000" stroke-width="1.6"/>
<rect x="626.45" y="979.68" width="10.31" height="14.78" fill="#00B88C" stroke="#000" stroke-width="1.6"/>
<rect x="626.45" y="994.47" width="10.31" height="40.66" fill="#00B99E" stroke="#000" stroke-width="1.6"/>
<rect x="626.45" y="1035.13" width="10.31" height="2.05" fill="#00B8B0" stroke="#000" stroke-width="1.6"/>
<rect x="626.45" y="1037.18" width="10.31" height="9.03" fill="#00B7C0" stroke="#000" stroke-width="1.6"/>
<rect x="626.45" y="1046.21" width="10.31" height="126.84" fill="#00ACE8" stroke="#000" stroke-width="1.6"/>
<rect x="626.45" y="1173.06" width="10.31" height="242.15" fill="#00A5F2" stroke="#000" stroke-width="1.6"/>
<rect x="626.45" y="1415.21" width="10.31" height="17.56" fill="#009EFA" stroke="#000" stroke-width="1.6"/>
<rect x="626.45" y="1432.77" width="10.31" height="11.03" fill="#ABABAB" stroke="#000" stroke-width="1.6"/>
<rect x="636.75" y="841.70" width="10.31" height="4.31" fill="#E5783A" stroke="#000" stroke-width="1.6"/>
<rect x="636.75" y="846.01" width="10.31" height="2.26" fill="#C98B00" stroke="#000" stroke-width="1.6"/>
<rect x="636.75" y="848.27" width="10.31" height="1.85" fill="#AF9700" stroke="#000" stroke-width="1.6"/>
<rect x="636.75" y="850.11" width="10.31" height="2.26" fill="#8DA100" stroke="#000" stroke-width="1.6"/>
<rect x="636.75" y="852.37" width="10.31" height="120.94" fill="#78A500" stroke="#000" stroke-width="1.6"/>
<rect x="636.75" y="973.32" width="10.31" height="57.70" fill="#5DAA00" stroke="#000" stroke-width="1.6"/>
<rect x="636.75" y="1031.02" width="10.31" height="1.64" fill="#00B344" stroke="#000" stroke-width="1.6"/>
<rect x="636.75" y="1032.66" width="10.31" height="5.34" fill="#00B99E" stroke="#000" stroke-width="1.6"/>
<rect x="636.75" y="1038.00" width="10.31" height="67.76" fill="#00B7C0" stroke="#000" stroke-width="1.6"/>
<rect x="636.75" y="1105.76" width="10.31" height="66.68" fill="#00B4CF" stroke="#000" stroke-width="1.6"/>
<rect x="636.75" y="1172.44" width="10.31" height="259.30" fill="#00A5F2" stroke="#000" stroke-width="1.6"/>
<rect x="636.75" y="1431.74" width="10.31" height="12.06" fill="#ABABAB" stroke="#000" stroke-width="1.6"/>
<rect x="647.07" y="841.70" width="10.31" height="27.92" fill="#F26A73" stroke="#000" stroke-width="1.6"/>
<rect x="647.07" y="869.62" width="10.31" height="8.21" fill="#EC715A" stroke="#000" stroke-width="1.6"/>
<rect x="647.07" y="877.84" width="10.31" height="19.10" fill="#DD7F00" stroke="#000" stroke-width="1.6"/>
<rect x="647.07" y="896.93" width="10.31" height="44.56" fill="#8DA100" stroke="#000" stroke-width="1.6"/>
<rect x="647.07" y="941.49" width="10.31" height="5.75" fill="#78A500" stroke="#000" stroke-width="1.6"/>
<rect x="647.07" y="947.24" width="10.31" height="42.71" fill="#5DAA00" stroke="#000" stroke-width="1.6"/>
<rect x="647.07" y="989.95" width="10.31" height="215.55" fill="#33AD00" stroke="#000" stroke-width="1.6"/>
<rect x="647.07" y="1205.50" width="10.31" height="4.75" fill="#00B344" stroke="#000" stroke-width="1.6"/>
<rect x="647.07" y="1210.25" width="10.31" height="4.96" fill="#00B560" stroke="#000" stroke-width="1.6"/>
<rect x="647.07" y="1215.21" width="10.31" height="2.89" fill="#00B777" stroke="#000" stroke-width="1.6"/>
<rect x="647.07" y="1218.10" width="10.31" height="25.21" fill="#00B99E" stroke="#000" stroke-width="1.6"/>
<rect x="647.07" y="1243.31" width="10.31" height="177.89" fill="#00A5F2" stroke="#000" stroke-width="1.6"/>
<rect x="647.07" y="1421.20" width="10.31" height="7.02" fill="#009EFA" stroke="#000" stroke-width="1.6"/>
<rect x="647.07" y="1428.22" width="10.31" height="8.26" fill="#4E95FF" stroke="#000" stroke-width="1.6"/>
<rect x="647.07" y="1436.49" width="10.31" height="7.31" fill="#ABABAB" stroke="#000" stroke-width="1.6"/>
<rect x="657.38" y="841.70" width="10.31" height="29.15" fill="#F26A73" stroke="#000" stroke-width="1.6"/>
<rect x="657.38" y="870.85" width="10.31" height="10.68" fill="#EC715A" stroke="#000" stroke-width="1.6"/>
<rect x="657.38" y="881.53" width="10.31" height="33.88" fill="#E5783A" stroke="#000" stroke-width="1.6"/>
<rect x="657.38" y="915.41" width="10.31" height="4.93" fill="#C98B00" stroke="#000" stroke-width="1.6"/>
<rect x="657.38" y="920.34" width="10.31" height="7.39" fill="#9F9C00" stroke="#000" stroke-width="1.6"/>
<rect x="657.38" y="927.73" width="10.31" height="27.31" fill="#78A500" stroke="#000" stroke-width="1.6"/>
<rect x="657.38" y="955.04" width="10.31" height="4.31" fill="#5DAA00" stroke="#000" stroke-width="1.6"/>
<rect x="657.38" y="959.36" width="10.31" height="23.82" fill="#33AD00" stroke="#000" stroke-width="1.6"/>
<rect x="657.38" y="983.17" width="10.31" height="8.21" fill="#00B344" stroke="#000" stroke-width="1.6"/>
<rect x="657.38" y="991.39" width="10.31" height="7.19" fill="#00B560" stroke="#000" stroke-width="1.6"/>
<rect x="657.38" y="998.57" width="10.31" height="27.10" fill="#00B99E" stroke="#000" stroke-width="1.6"/>
<rect x="657.38" y="1025.68" width="10.31" height="7.39" fill="#00B7C0" stroke="#000" stroke-width="1.6"/>
<rect x="657.38" y="1033.07" width="10.31" height="373.87" fill="#00A5F2" stroke="#000" stroke-width="1.6"/>
<rect x="657.38" y="1406.94" width="10.31" height="3.72" fill="#4E95FF" stroke="#000" stroke-width="1.6"/>
<rect x="657.38" y="1410.66" width="10.31" height="33.14" fill="#ABABAB" stroke="#000" stroke-width="1.6"/>
<rect x="667.69" y="841.70" width="10.31" height="3.08" fill="#EC715A" stroke="#000" stroke-width="1.6"/>
<rect x="667.69" y="844.78" width="10.31" height="14.78" fill="#E5783A" stroke="#000" stroke-width="1.6"/>
<rect x="667.69" y="859.56" width="10.31" height="8.01" fill="#9F9C00" stroke="#000" stroke-width="1.6"/>
<rect x="667.69" y="867.57" width="10.31" height="38.60" fill="#78A500" stroke="#000" stroke-width="1.6"/>
<rect x="667.69" y="906.17" width="10.31" height="10.68" fill="#5DAA00" stroke="#000" stroke-width="1.6"/>
<rect x="667.69" y="916.85" width="10.31" height="25.87" fill="#33AD00" stroke="#000" stroke-width="1.6"/>
<rect x="667.69" y="942.72" width="10.31" height="49.69" fill="#00B344" stroke="#000" stroke-width="1.6"/>
<rect x="667.69" y="992.41" width="10.31" height="37.37" fill="#00B777" stroke="#000" stroke-width="1.6"/>
<rect x="667.69" y="1029.79" width="10.31" height="5.34" fill="#00B88C" stroke="#000" stroke-width="1.6"/>
<rect x="667.69" y="1035.13" width="10.31" height="68.17" fill="#00B99E" stroke="#000" stroke-width="1.6"/>
<rect x="667.69" y="1103.30" width="10.31" height="16.02" fill="#00B7C0" stroke="#000" stroke-width="1.6"/>
<rect x="667.69" y="1119.31" width="10.31" height="186.80" fill="#00A5F2" stroke="#000" stroke-width="1.6"/>
<rect x="667.69" y="1306.12" width="10.31" height="64.67" fill="#009EFA" stroke="#000" stroke-width="1.6"/>
<rect x="667.69" y="1370.79" width="10.31" height="18.60" fill="#4E95FF" stroke="#000" stroke-width="1.6"/>
<rect x="667.69" y="1389.38" width="10.31" height="42.36" fill="#7E8CFF" stroke="#000" stroke-width="1.6"/>
<rect x="667.69" y="1431.74" width="10.31" height="12.06" fill="#ABABAB" stroke="#000" stroke-width="1.6"/>
<rect x="678.00" y="841.70" width="10.31" height="18.89" fill="#E5783A" stroke="#000" stroke-width="1.6"/>
<rect x="678.00" y="860.59" width="10.31" height="3.29" fill="#D38500" stroke="#000" stroke-width="1.6"/>
<rect x="678.00" y="863.87" width="10.31" height="21.77" fill="#C98B00" stroke="#000" stroke-width="1.6"/>
<rect x="678.00" y="885.64" width="10.31" height="149.90" fill="#AF9700" stroke="#000" stroke-width="1.6"/>
<rect x="678.00" y="1035.54" width="10.31" height="30.80" fill="#8DA100" stroke="#000" stroke-width="1.6"/>
<rect x="678.00" y="1066.34" width="10.31" height="25.26" fill="#78A500" stroke="#000" stroke-width="1.6"/>
<rect x="678.00" y="1091.59" width="10.31" height="8.42" fill="#33AD00" stroke="#000" stroke-width="1.6"/>
<rect x="678.00" y="1100.01" width="10.31" height="21.36" fill="#00B344" stroke="#000" stroke-width="1.6"/>
<rect x="678.00" y="1121.37" width="10.31" height="12.11" fill="#00B99E" stroke="#000" stroke-width="1.6"/>
<rect x="678.00" y="1133.48" width="10.31" height="12.10" fill="#00B7C0" stroke="#000" stroke-width="1.6"/>
<rect x="678.00" y="1145.58" width="10.31" height="216.94" fill="#00A5F2" stroke="#000" stroke-width="1.6"/>
<rect x="678.00" y="1362.52" width="10.31" height="4.13" fill="#009EFA" stroke="#000" stroke-width="1.6"/>
<rect x="678.00" y="1366.65" width="10.31" height="5.17" fill="#4E95FF" stroke="#000" stroke-width="1.6"/>
<rect x="678.00" y="1371.82" width="10.31" height="60.33" fill="#7E8CFF" stroke="#000" stroke-width="1.6"/>
<rect x="678.00" y="1432.15" width="10.31" height="11.65" fill="#ABABAB" stroke="#000" stroke-width="1.6"/>
<rect x="688.31" y="841.70" width="10.31" height="29.56" fill="#F26A73" stroke="#000" stroke-width="1.6"/>
<rect x="688.31" y="871.26" width="10.31" height="1.85" fill="#EC715A" stroke="#000" stroke-width="1.6"/>
<rect x="688.31" y="873.11" width="10.31" height="15.20" fill="#E5783A" stroke="#000" stroke-width="1.6"/>
<rect x="688.31" y="888.31" width="10.31" height="36.34" fill="#DD7F00" stroke="#000" stroke-width="1.6"/>
<rect x="688.31" y="924.65" width="10.31" height="7.60" fill="#C98B00" stroke="#000" stroke-width="1.6"/>
<rect x="688.31" y="932.25" width="10.31" height="5.34" fill="#AF9700" stroke="#000" stroke-width="1.6"/>
<rect x="688.31" y="937.59" width="10.31" height="24.02" fill="#8DA100" stroke="#000" stroke-width="1.6"/>
<rect x="688.31" y="961.61" width="10.31" height="6.57" fill="#78A500" stroke="#000" stroke-width="1.6"/>
<rect x="688.31" y="968.18" width="10.31" height="38.19" fill="#5DAA00" stroke="#000" stroke-width="1.6"/>
<rect x="688.31" y="1006.38" width="10.31" height="51.33" fill="#33AD00" stroke="#000" stroke-width="1.6"/>
<rect x="688.31" y="1057.71" width="10.31" height="20.53" fill="#00B344" stroke="#000" stroke-width="1.6"/>
<rect x="688.31" y="1078.25" width="10.31" height="95.64" fill="#00B99E" stroke="#000" stroke-width="1.6"/>
<rect x="688.31" y="1173.88" width="10.31" height="34.71" fill="#00B7C0" stroke="#000" stroke-width="1.6"/>
<rect x="688.31" y="1208.60" width="10.31" height="227.69" fill="#00A5F2" stroke="#000" stroke-width="1.6"/>
<rect x="688.31" y="1436.28" width="10.31" height="2.48" fill="#4E95FF" stroke="#000" stroke-width="1.6"/>
<rect x="688.31" y="1438.76" width="10.31" height="2.07" fill="#7E8CFF" stroke="#000" stroke-width="1.6"/>
<rect x="688.31" y="1440.83" width="10.31" height="2.97" fill="#ABABAB" stroke="#000" stroke-width="1.6"/>
<rect x="698.62" y="841.70" width="10.31" height="11.08" fill="#F26A73" stroke="#000" stroke-width="1.6"/>
<rect x="698.62" y="852.78" width="10.31" height="5.54" fill="#EC715A" stroke="#000" stroke-width="1.6"/>
<rect x="698.62" y="858.33" width="10.31" height="106.37" fill="#DD7F00" stroke="#000" stroke-width="1.6"/>
<rect x="698.62" y="964.69" width="10.31" height="107.80" fill="#AF9700" stroke="#000" stroke-width="1.6"/>
<rect x="698.62" y="1072.50" width="10.31" height="94.36" fill="#8DA100" stroke="#000" stroke-width="1.6"/>
<rect x="698.62" y="1166.86" width="10.31" height="16.94" fill="#00B344" stroke="#000" stroke-width="1.6"/>
<rect x="698.62" y="1183.80" width="10.31" height="14.05" fill="#00B88C" stroke="#000" stroke-width="1.6"/>
<rect x="698.62" y="1197.85" width="10.31" height="28.93" fill="#00B8B0" stroke="#000" stroke-width="1.6"/>
<rect x="698.62" y="1226.78" width="10.31" height="158.47" fill="#00A5F2" stroke="#000" stroke-width="1.6"/>
<rect x="698.62" y="1385.25" width="10.31" height="37.81" fill="#009EFA" stroke="#000" stroke-width="1.6"/>
<rect x="698.62" y="1423.06" width="10.31" height="20.74" fill="#ABABAB" stroke="#000" stroke-width="1.6"/>
<rect x="708.93" y="841.70" width="10.31" height="34.29" fill="#F26A73" stroke="#000" stroke-width="1.6"/>
<rect x="708.93" y="875.99" width="10.31" height="2.26" fill="#EC715A" stroke="#000" stroke-width="1.6"/>
<rect x="708.93" y="878.25" width="10.31" height="48.46" fill="#E5783A" stroke="#000" stroke-width="1.6"/>
<rect x="708.93" y="926.71" width="10.31" height="6.16" fill="#D38500" stroke="#000" stroke-width="1.6"/>
<rect x="708.93" y="932.87" width="10.31" height="6.57" fill="#BC9100" stroke="#000" stroke-width="1.6"/>
<rect x="708.93" y="939.44" width="10.31" height="7.80" fill="#9F9C00" stroke="#000" stroke-width="1.6"/>
<rect x="708.93" y="947.24" width="10.31" height="3.90" fill="#78A500" stroke="#000" stroke-width="1.6"/>
<rect x="708.93" y="951.14" width="10.31" height="74.13" fill="#5DAA00" stroke="#000" stroke-width="1.6"/>
<rect x="708.93" y="1025.27" width="10.31" height="5.95" fill="#33AD00" stroke="#000" stroke-width="1.6"/>
<rect x="708.93" y="1031.22" width="10.31" height="6.37" fill="#00B344" stroke="#000" stroke-width="1.6"/>
<rect x="708.93" y="1037.59" width="10.31" height="4.93" fill="#00B560" stroke="#000" stroke-width="1.6"/>
<rect x="708.93" y="1042.52" width="10.31" height="9.86" fill="#00B99E" stroke="#000" stroke-width="1.6"/>
<rect x="708.93" y="1052.37" width="10.31" height="4.52" fill="#00B7C0" stroke="#000" stroke-width="1.6"/>
<rect x="708.93" y="1056.89" width="10.31" height="275.26" fill="#00A5F2" stroke="#000" stroke-width="1.6"/>
<rect x="708.93" y="1332.15" width="10.31" height="101.65" fill="#7E8CFF" stroke="#000" stroke-width="1.6"/>
<rect x="708.93" y="1433.80" width="10.31" height="10.00" fill="#ABABAB" stroke="#000" stroke-width="1.6"/>
<rect x="719.24" y="841.70" width="10.31" height="2.87" fill="#EC715A" stroke="#000" stroke-width="1.6"/>
<rect x="719.24" y="844.57" width="10.31" height="24.44" fill="#E5783A" stroke="#000" stroke-width="1.6"/>
<rect x="719.24" y="869.01" width="10.31" height="3.08" fill="#C98B00" stroke="#000" stroke-width="1.6"/>
<rect x="719.24" y="872.09" width="10.31" height="2.67" fill="#AF9700" stroke="#000" stroke-width="1.6"/>
<rect x="719.24" y="874.76" width="10.31" height="5.54" fill="#9F9C00" stroke="#000" stroke-width="1.6"/>
<rect x="719.24" y="880.30" width="10.31" height="18.48" fill="#8DA100" stroke="#000" stroke-width="1.6"/>
<rect x="719.24" y="898.78" width="10.31" height="18.69" fill="#78A500" stroke="#000" stroke-width="1.6"/>
<rect x="719.24" y="917.47" width="10.31" height="12.32" fill="#5DAA00" stroke="#000" stroke-width="1.6"/>
<rect x="719.24" y="929.79" width="10.31" height="125.87" fill="#00B344" stroke="#000" stroke-width="1.6"/>
<rect x="719.24" y="1055.66" width="10.31" height="111.20" fill="#00B560" stroke="#000" stroke-width="1.6"/>
<rect x="719.24" y="1166.86" width="10.31" height="26.86" fill="#00B88C" stroke="#000" stroke-width="1.6"/>
<rect x="719.24" y="1193.72" width="10.31" height="55.79" fill="#00B99E" stroke="#000" stroke-width="1.6"/>
<rect x="719.24" y="1249.50" width="10.31" height="3.31" fill="#00B7C0" stroke="#000" stroke-width="1.6"/>
<rect x="719.24" y="1252.81" width="10.31" height="47.31" fill="#00B1DD" stroke="#000" stroke-width="1.6"/>
<rect x="719.24" y="1300.12" width="10.31" height="116.12" fill="#00A5F2" stroke="#000" stroke-width="1.6"/>
<rect x="719.24" y="1416.24" width="10.31" height="24.59" fill="#7E8CFF" stroke="#000" stroke-width="1.6"/>
<rect x="719.24" y="1440.83" width="10.31" height="2.97" fill="#ABABAB" stroke="#000" stroke-width="1.6"/>
<rect x="729.55" y="841.70" width="10.31" height="8.00" fill="#EC715A" stroke="#000" stroke-width="1.6"/>
<rect x="729.55" y="849.70" width="10.31" height="8.83" fill="#E5783A" stroke="#000" stroke-width="1.6"/>
<rect x="729.55" y="858.53" width="10.31" height="4.11" fill="#D38500" stroke="#000" stroke-width="1.6"/>
<rect x="729.55" y="862.64" width="10.31" height="1.85" fill="#C98B00" stroke="#000" stroke-width="1.6"/>
<rect x="729.55" y="864.49" width="10.31" height="14.99" fill="#BC9100" stroke="#000" stroke-width="1.6"/>
<rect x="729.55" y="879.48" width="10.31" height="3.70" fill="#AF9700" stroke="#000" stroke-width="1.6"/>
<rect x="729.55" y="883.17" width="10.31" height="8.21" fill="#9F9C00" stroke="#000" stroke-width="1.6"/>
<rect x="729.55" y="891.39" width="10.31" height="11.70" fill="#8DA100" stroke="#000" stroke-width="1.6"/>
<rect x="729.55" y="903.09" width="10.31" height="44.15" fill="#5DAA00" stroke="#000" stroke-width="1.6"/>
<rect x="729.55" y="947.24" width="10.31" height="8.21" fill="#33AD00" stroke="#000" stroke-width="1.6"/>
<rect x="729.55" y="955.45" width="10.31" height="10.27" fill="#00B344" stroke="#000" stroke-width="1.6"/>
<rect x="729.55" y="965.72" width="10.31" height="45.79" fill="#00B99E" stroke="#000" stroke-width="1.6"/>
<rect x="729.55" y="1011.51" width="10.31" height="2.26" fill="#00B8B0" stroke="#000" stroke-width="1.6"/>
<rect x="729.55" y="1013.77" width="10.31" height="31.62" fill="#00B7C0" stroke="#000" stroke-width="1.6"/>
<rect x="729.55" y="1045.39" width="10.31" height="130.76" fill="#00ACE8" stroke="#000" stroke-width="1.6"/>
<rect x="729.55" y="1176.16" width="10.31" height="239.05" fill="#00A5F2" stroke="#000" stroke-width="1.6"/>
<rect x="729.55" y="1415.21" width="10.31" height="8.88" fill="#009EFA" stroke="#000" stroke-width="1.6"/>
<rect x="729.55" y="1424.09" width="10.31" height="9.30" fill="#4E95FF" stroke="#000" stroke-width="1.6"/>
<rect x="729.55" y="1433.39" width="10.31" height="10.41" fill="#ABABAB" stroke="#000" stroke-width="1.6"/>
<rect x="739.86" y="841.70" width="10.31" height="17.04" fill="#E5783A" stroke="#000" stroke-width="1.6"/>
<rect x="739.86" y="858.74" width="10.31" height="3.70" fill="#C98B00" stroke="#000" stroke-width="1.6"/>
<rect x="739.86" y="862.44" width="10.31" height="36.55" fill="#9F9C00" stroke="#000" stroke-width="1.6"/>
<rect x="739.86" y="898.99" width="10.31" height="16.43" fill="#8DA100" stroke="#000" stroke-width="1.6"/>
<rect x="739.86" y="915.41" width="10.31" height="22.59" fill="#78A500" stroke="#000" stroke-width="1.6"/>
<rect x="739.86" y="938.00" width="10.31" height="5.95" fill="#5DAA00" stroke="#000" stroke-width="1.6"/>
<rect x="739.86" y="943.95" width="10.31" height="75.15" fill="#00B015" stroke="#000" stroke-width="1.6"/>
<rect x="739.86" y="1019.11" width="10.31" height="102.26" fill="#00B344" stroke="#000" stroke-width="1.6"/>
<rect x="739.86" y="1121.37" width="10.31" height="16.43" fill="#00B560" stroke="#000" stroke-width="1.6"/>
<rect x="739.86" y="1137.79" width="10.31" height="25.76" fill="#00B777" stroke="#000" stroke-width="1.6"/>
<rect x="739.86" y="1163.55" width="10.31" height="29.75" fill="#00B88C" stroke="#000" stroke-width="1.6"/>
<rect x="739.86" y="1193.31" width="10.31" height="3.10" fill="#00B8B0" stroke="#000" stroke-width="1.6"/>
<rect x="739.86" y="1196.40" width="10.31" height="7.02" fill="#00B7C0" stroke="#000" stroke-width="1.6"/>
<rect x="739.86" y="1203.43" width="10.31" height="35.74" fill="#00B1DD" stroke="#000" stroke-width="1.6"/>
<rect x="739.86" y="1239.17" width="10.31" height="191.53" fill="#00A5F2" stroke="#000" stroke-width="1.6"/>
<rect x="739.86" y="1430.70" width="10.31" height="5.58" fill="#4E95FF" stroke="#000" stroke-width="1.6"/>
<rect x="739.86" y="1436.28" width="10.31" height="7.52" fill="#ABABAB" stroke="#000" stroke-width="1.6"/>
<rect x="750.17" y="841.70" width="10.31" height="7.39" fill="#EC715A" stroke="#000" stroke-width="1.6"/>
<rect x="750.17" y="849.09" width="10.31" height="12.94" fill="#E5783A" stroke="#000" stroke-width="1.6"/>
<rect x="750.17" y="862.02" width="10.31" height="58.11" fill="#8DA100" stroke="#000" stroke-width="1.6"/>
<rect x="750.17" y="920.14" width="10.31" height="57.49" fill="#78A500" stroke="#000" stroke-width="1.6"/>
<rect x="750.17" y="977.63" width="10.31" height="10.68" fill="#33AD00" stroke="#000" stroke-width="1.6"/>
<rect x="750.17" y="988.31" width="10.31" height="39.01" fill="#00B344" stroke="#000" stroke-width="1.6"/>
<rect x="750.17" y="1027.32" width="10.31" height="2.05" fill="#00B777" stroke="#000" stroke-width="1.6"/>
<rect x="750.17" y="1029.38" width="10.31" height="87.27" fill="#00B99E" stroke="#000" stroke-width="1.6"/>
<rect x="750.17" y="1116.64" width="10.31" height="16.02" fill="#00B7C0" stroke="#000" stroke-width="1.6"/>
<rect x="750.17" y="1132.66" width="10.31" height="32.55" fill="#00B4CF" stroke="#000" stroke-width="1.6"/>
<rect x="750.17" y="1165.21" width="10.31" height="169.83" fill="#00A5F2" stroke="#000" stroke-width="1.6"/>
<rect x="750.17" y="1335.04" width="10.31" height="47.52" fill="#009EFA" stroke="#000" stroke-width="1.6"/>
<rect x="750.17" y="1382.56" width="10.31" height="18.60" fill="#4E95FF" stroke="#000" stroke-width="1.6"/>
<rect x="750.17" y="1401.16" width="10.31" height="42.64" fill="#7E8CFF" stroke="#000" stroke-width="1.6"/>
<rect x="760.48" y="841.70" width="10.31" height="13.55" fill="#E5783A" stroke="#000" stroke-width="1.6"/>
<rect x="760.48" y="855.25" width="10.31" height="25.87" fill="#DD7F00" stroke="#000" stroke-width="1.6"/>
<rect x="760.48" y="881.12" width="10.31" height="13.14" fill="#C98B00" stroke="#000" stroke-width="1.6"/>
<rect x="760.48" y="894.26" width="10.31" height="44.35" fill="#9F9C00" stroke="#000" stroke-width="1.6"/>
<rect x="760.48" y="938.62" width="10.31" height="80.49" fill="#00B344" stroke="#000" stroke-width="1.6"/>
<rect x="760.48" y="1019.11" width="10.31" height="64.27" fill="#00B560" stroke="#000" stroke-width="1.6"/>
<rect x="760.48" y="1083.38" width="10.31" height="14.78" fill="#00B777" stroke="#000" stroke-width="1.6"/>
<rect x="760.48" y="1098.16" width="10.31" height="82.54" fill="#00B88C" stroke="#000" stroke-width="1.6"/>
<rect x="760.48" y="1180.70" width="10.31" height="83.06" fill="#00B99E" stroke="#000" stroke-width="1.6"/>
<rect x="760.48" y="1263.76" width="10.31" height="13.02" fill="#00B8B0" stroke="#000" stroke-width="1.6"/>
<rect x="760.48" y="1276.78" width="10.31" height="11.98" fill="#00B7C0" stroke="#000" stroke-width="1.6"/>
<rect x="760.48" y="1288.76" width="10.31" height="102.48" fill="#00A5F2" stroke="#000" stroke-width="1.6"/>
<rect x="760.48" y="1391.24" width="10.31" height="2.89" fill="#4E95FF" stroke="#000" stroke-width="1.6"/>
<rect x="760.48" y="1394.13" width="10.31" height="49.67" fill="#7E8CFF" stroke="#000" stroke-width="1.6"/>
<rect x="770.79" y="841.70" width="10.31" height="27.10" fill="#F26A73" stroke="#000" stroke-width="1.6"/>
<rect x="770.79" y="868.80" width="10.31" height="7.19" fill="#EC715A" stroke="#000" stroke-width="1.6"/>
<rect x="770.79" y="875.99" width="10.31" height="38.40" fill="#E5783A" stroke="#000" stroke-width="1.6"/>
<rect x="770.79" y="914.39" width="10.31" height="11.29" fill="#DD7F00" stroke="#000" stroke-width="1.6"/>
<rect x="770.79" y="925.68" width="10.31" height="125.87" fill="#C98B00" stroke="#000" stroke-width="1.6"/>
<rect x="770.79" y="1051.55" width="10.31" height="1.23" fill="#AF9700" stroke="#000" stroke-width="1.6"/>
<rect x="770.79" y="1052.78" width="10.31" height="33.06" fill="#9F9C00" stroke="#000" stroke-width="1.6"/>
<rect x="770.79" y="1085.84" width="10.31" height="162.42" fill="#78A500" stroke="#000" stroke-width="1.6"/>
<rect x="770.79" y="1248.26" width="10.31" height="13.02" fill="#33AD00" stroke="#000" stroke-width="1.6"/>
<rect x="770.79" y="1261.28" width="10.31" height="4.75" fill="#00B344" stroke="#000" stroke-width="1.6"/>
<rect x="770.79" y="1266.03" width="10.31" height="24.79" fill="#00B88C" stroke="#000" stroke-width="1.6"/>
<rect x="770.79" y="1290.83" width="10.31" height="3.10" fill="#00B99E" stroke="#000" stroke-width="1.6"/>
<rect x="770.79" y="1293.93" width="10.31" height="5.58" fill="#00B7C0" stroke="#000" stroke-width="1.6"/>
<rect x="770.79" y="1299.50" width="10.31" height="144.30" fill="#00A5F2" stroke="#000" stroke-width="1.6"/>
<rect x="781.10" y="841.70" width="10.31" height="17.24" fill="#F26A73" stroke="#000" stroke-width="1.6"/>
<rect x="781.10" y="858.94" width="10.31" height="2.87" fill="#EC715A" stroke="#000" stroke-width="1.6"/>
<rect x="781.10" y="861.82" width="10.31" height="3.49" fill="#C98B00" stroke="#000" stroke-width="1.6"/>
<rect x="781.10" y="865.31" width="10.31" height="16.84" fill="#9F9C00" stroke="#000" stroke-width="1.6"/>
<rect x="781.10" y="882.15" width="10.31" height="17.86" fill="#78A500" stroke="#000" stroke-width="1.6"/>
<rect x="781.10" y="900.01" width="10.31" height="4.31" fill="#5DAA00" stroke="#000" stroke-width="1.6"/>
<rect x="781.10" y="904.32" width="10.31" height="12.11" fill="#00B015" stroke="#000" stroke-width="1.6"/>
<rect x="781.10" y="916.44" width="10.31" height="9.24" fill="#00B344" stroke="#000" stroke-width="1.6"/>
<rect x="781.10" y="925.68" width="10.31" height="110.88" fill="#00B560" stroke="#000" stroke-width="1.6"/>
<rect x="781.10" y="1036.56" width="10.31" height="78.03" fill="#00B99E" stroke="#000" stroke-width="1.6"/>
<rect x="781.10" y="1114.59" width="10.31" height="1.85" fill="#00B8B0" stroke="#000" stroke-width="1.6"/>
<rect x="781.10" y="1116.44" width="10.31" height="6.16" fill="#00B7C0" stroke="#000" stroke-width="1.6"/>
<rect x="781.10" y="1122.60" width="10.31" height="19.67" fill="#00ACE8" stroke="#000" stroke-width="1.6"/>
<rect x="781.10" y="1142.27" width="10.31" height="255.99" fill="#00A5F2" stroke="#000" stroke-width="1.6"/>
<rect x="781.10" y="1398.26" width="10.31" height="17.56" fill="#009EFA" stroke="#000" stroke-width="1.6"/>
<rect x="781.10" y="1415.83" width="10.31" height="2.69" fill="#4E95FF" stroke="#000" stroke-width="1.6"/>
<rect x="781.10" y="1418.51" width="10.31" height="21.49" fill="#7E8CFF" stroke="#000" stroke-width="1.6"/>
<rect x="781.10" y="1440.00" width="10.31" height="3.80" fill="#ABABAB" stroke="#000" stroke-width="1.6"/>
<rect x="791.40" y="841.70" width="10.31" height="253.38" fill="#EC715A" stroke="#000" stroke-width="1.6"/>
<rect x="791.40" y="1095.08" width="10.31" height="21.56" fill="#E5783A" stroke="#000" stroke-width="1.6"/>
<rect x="791.40" y="1116.64" width="10.31" height="21.15" fill="#BC9100" stroke="#000" stroke-width="1.6"/>
<rect x="791.40" y="1137.79" width="10.31" height="24.31" fill="#9F9C00" stroke="#000" stroke-width="1.6"/>
<rect x="791.40" y="1162.11" width="10.31" height="39.67" fill="#8DA100" stroke="#000" stroke-width="1.6"/>
<rect x="791.40" y="1201.78" width="10.31" height="15.50" fill="#33AD00" stroke="#000" stroke-width="1.6"/>
<rect x="791.40" y="1217.27" width="10.31" height="14.05" fill="#00B344" stroke="#000" stroke-width="1.6"/>
<rect x="791.40" y="1231.32" width="10.31" height="19.01" fill="#00B560" stroke="#000" stroke-width="1.6"/>
<rect x="791.40" y="1250.33" width="10.31" height="30.58" fill="#00B99E" stroke="#000" stroke-width="1.6"/>
<rect x="791.40" y="1280.91" width="10.31" height="5.58" fill="#00B7C0" stroke="#000" stroke-width="1.6"/>
<rect x="791.40" y="1286.49" width="10.31" height="145.87" fill="#00A5F2" stroke="#000" stroke-width="1.6"/>
<rect x="791.40" y="1432.36" width="10.31" height="11.44" fill="#7E8CFF" stroke="#000" stroke-width="1.6"/>
<rect x="801.72" y="841.70" width="10.31" height="2.67" fill="#E5783A" stroke="#000" stroke-width="1.6"/>
<rect x="801.72" y="844.37" width="10.31" height="11.50" fill="#D38500" stroke="#000" stroke-width="1.6"/>
<rect x="801.72" y="855.86" width="10.31" height="5.54" fill="#8DA100" stroke="#000" stroke-width="1.6"/>
<rect x="801.72" y="861.41" width="10.31" height="4.72" fill="#00B344" stroke="#000" stroke-width="1.6"/>
<rect x="801.72" y="866.13" width="10.31" height="126.28" fill="#00B99E" stroke="#000" stroke-width="1.6"/>
<rect x="801.72" y="992.41" width="10.31" height="56.47" fill="#00B7C0" stroke="#000" stroke-width="1.6"/>
<rect x="801.72" y="1048.88" width="10.31" height="87.27" fill="#00B1DD" stroke="#000" stroke-width="1.6"/>
<rect x="801.72" y="1136.15" width="10.31" height="74.10" fill="#00ACE8" stroke="#000" stroke-width="1.6"/>
<rect x="801.72" y="1210.25" width="10.31" height="227.69" fill="#00A5F2" stroke="#000" stroke-width="1.6"/>
<rect x="801.72" y="1437.93" width="10.31" height="5.87" fill="#ABABAB" stroke="#000" stroke-width="1.6"/>
<rect x="812.03" y="841.70" width="10.31" height="33.26" fill="#E5783A" stroke="#000" stroke-width="1.6"/>
<rect x="812.03" y="874.96" width="10.31" height="7.39" fill="#BC9100" stroke="#000" stroke-width="1.6"/>
<rect x="812.03" y="882.35" width="10.31" height="2.67" fill="#9F9C00" stroke="#000" stroke-width="1.6"/>
<rect x="812.03" y="885.02" width="10.31" height="4.31" fill="#78A500" stroke="#000" stroke-width="1.6"/>
<rect x="812.03" y="889.33" width="10.31" height="1.85" fill="#33AD00" stroke="#000" stroke-width="1.6"/>
<rect x="812.03" y="891.18" width="10.31" height="20.74" fill="#00B344" stroke="#000" stroke-width="1.6"/>
<rect x="812.03" y="911.92" width="10.31" height="28.75" fill="#00B560" stroke="#000" stroke-width="1.6"/>
<rect x="812.03" y="940.67" width="10.31" height="45.17" fill="#00B88C" stroke="#000" stroke-width="1.6"/>
<rect x="812.03" y="985.84" width="10.31" height="71.25" fill="#00B99E" stroke="#000" stroke-width="1.6"/>
<rect x="812.03" y="1057.10" width="10.31" height="15.40" fill="#00B7C0" stroke="#000" stroke-width="1.6"/>
<rect x="812.03" y="1072.50" width="10.31" height="175.35" fill="#00ACE8" stroke="#000" stroke-width="1.6"/>
<rect x="812.03" y="1247.85" width="10.31" height="185.95" fill="#00A5F2" stroke="#000" stroke-width="1.6"/>
<rect x="812.03" y="1433.80" width="10.31" height="10.00" fill="#ABABAB" stroke="#000" stroke-width="1.6"/>
<rect x="822.34" y="841.70" width="10.31" height="44.97" fill="#E5783A" stroke="#000" stroke-width="1.6"/>
<rect x="822.34" y="886.67" width="10.31" height="4.72" fill="#C98B00" stroke="#000" stroke-width="1.6"/>
<rect x="822.34" y="891.39" width="10.31" height="62.01" fill="#9F9C00" stroke="#000" stroke-width="1.6"/>
<rect x="822.34" y="953.40" width="10.31" height="80.08" fill="#8DA100" stroke="#000" stroke-width="1.6"/>
<rect x="822.34" y="1033.48" width="10.31" height="27.72" fill="#78A500" stroke="#000" stroke-width="1.6"/>
<rect x="822.34" y="1061.20" width="10.31" height="156.69" fill="#00ACE8" stroke="#000" stroke-width="1.6"/>
<rect x="822.34" y="1217.89" width="10.31" height="216.94" fill="#00A5F2" stroke="#000" stroke-width="1.6"/>
<rect x="822.34" y="1434.83" width="10.31" height="8.97" fill="#ABABAB" stroke="#000" stroke-width="1.6"/>
<rect x="832.64" y="841.70" width="10.31" height="3.69" fill="#C98B00" stroke="#000" stroke-width="1.6"/>
<rect x="832.64" y="845.39" width="10.31" height="2.87" fill="#9F9C00" stroke="#000" stroke-width="1.6"/>
<rect x="832.64" y="848.27" width="10.31" height="2.87" fill="#8DA100" stroke="#000" stroke-width="1.6"/>
<rect x="832.64" y="851.14" width="10.31" height="3.70" fill="#5DAA00" stroke="#000" stroke-width="1.6"/>
<rect x="832.64" y="854.84" width="10.31" height="69.40" fill="#00B560" stroke="#000" stroke-width="1.6"/>
<rect x="832.64" y="924.24" width="10.31" height="18.07" fill="#00B88C" stroke="#000" stroke-width="1.6"/>
<rect x="832.64" y="942.31" width="10.31" height="83.98" fill="#00B99E" stroke="#000" stroke-width="1.6"/>
<rect x="832.64" y="1026.30" width="10.31" height="13.35" fill="#00B7C0" stroke="#000" stroke-width="1.6"/>
<rect x="832.64" y="1039.64" width="10.31" height="24.23" fill="#00B1DD" stroke="#000" stroke-width="1.6"/>
<rect x="832.64" y="1063.87" width="10.31" height="19.71" fill="#00ACE8" stroke="#000" stroke-width="1.6"/>
<rect x="832.64" y="1083.59" width="10.31" height="263.44" fill="#00A5F2" stroke="#000" stroke-width="1.6"/>
<rect x="832.64" y="1347.02" width="10.31" height="7.23" fill="#009EFA" stroke="#000" stroke-width="1.6"/>
<rect x="832.64" y="1354.26" width="10.31" height="89.54" fill="#ABABAB" stroke="#000" stroke-width="1.6"/>
<rect x="522.3" y="811.8" width="321.70000000000005" height="662.2" fill="none" stroke="#333333" stroke-width="2.0"/>
<line x1="516.5" y1="841.7" x2="522.3" y2="841.7" stroke="#333333" stroke-width="1.9"/>
<text x="511" y="848.9" font-size="18.3" text-anchor="end" fill="#4D4D4D" >1.00</text>
<line x1="516.5" y1="992.23" x2="522.3" y2="992.23" stroke="#333333" stroke-width="1.9"/>
<text x="511" y="999.43" font-size="18.3" text-anchor="end" fill="#4D4D4D" >0.75</text>
<line x1="516.5" y1="1142.75" x2="522.3" y2="1142.75" stroke="#333333" stroke-width="1.9"/>
<text x="511" y="1149.95" font-size="18.3" text-anchor="end" fill="#4D4D4D" >0.50</text>
<line x1="516.5" y1="1293.28" x2="522.3" y2="1293.28" stroke="#333333" stroke-width="1.9"/>
<text x="511" y="1300.48" font-size="18.3" text-anchor="end" fill="#4D4D4D" >0.25</text>
<line x1="516.5" y1="1443.8" x2="522.3" y2="1443.8" stroke="#333333" stroke-width="1.9"/>
<text x="511" y="1451" font-size="18.3" text-anchor="end" fill="#4D4D4D" >0.00</text>
<line x1="528.5" y1="1474" x2="528.5" y2="1479.8" stroke="#333333" stroke-width="1.9"/>
<line x1="538.81" y1="1474" x2="538.81" y2="1479.8" stroke="#333333" stroke-width="1.9"/>
<line x1="549.12" y1="1474" x2="549.12" y2="1479.8" stroke="#333333" stroke-width="1.9"/>
<line x1="559.43" y1="1474" x2="559.43" y2="1479.8" stroke="#333333" stroke-width="1.9"/>
<line x1="569.74" y1="1474" x2="569.74" y2="1479.8" stroke="#333333" stroke-width="1.9"/>
<line x1="580.05" y1="1474" x2="580.05" y2="1479.8" stroke="#333333" stroke-width="1.9"/>
<line x1="590.36" y1="1474" x2="590.36" y2="1479.8" stroke="#333333" stroke-width="1.9"/>
<line x1="600.67" y1="1474" x2="600.67" y2="1479.8" stroke="#333333" stroke-width="1.9"/>
<line x1="610.98" y1="1474" x2="610.98" y2="1479.8" stroke="#333333" stroke-width="1.9"/>
<line x1="621.29" y1="1474" x2="621.29" y2="1479.8" stroke="#333333" stroke-width="1.9"/>
<line x1="631.6" y1="1474" x2="631.6" y2="1479.8" stroke="#333333" stroke-width="1.9"/>
<line x1="641.91" y1="1474" x2="641.91" y2="1479.8" stroke="#333333" stroke-width="1.9"/>
<line x1="652.22" y1="1474" x2="652.22" y2="1479.8" stroke="#333333" stroke-width="1.9"/>
<line x1="662.53" y1="1474" x2="662.53" y2="1479.8" stroke="#333333" stroke-width="1.9"/>
<line x1="672.84" y1="1474" x2="672.84" y2="1479.8" stroke="#333333" stroke-width="1.9"/>
<line x1="683.15" y1="1474" x2="683.15" y2="1479.8" stroke="#333333" stroke-width="1.9"/>
<line x1="693.46" y1="1474" x2="693.46" y2="1479.8" stroke="#333333" stroke-width="1.9"/>
<line x1="703.77" y1="1474" x2="703.77" y2="1479.8" stroke="#333333" stroke-width="1.9"/>
<line x1="714.08" y1="1474" x2="714.08" y2="1479.8" stroke="#333333" stroke-width="1.9"/>
<line x1="724.39" y1="1474" x2="724.39" y2="1479.8" stroke="#333333" stroke-width="1.9"/>
<line x1="734.7" y1="1474" x2="734.7" y2="1479.8" stroke="#333333" stroke-width="1.9"/>
<line x1="745.01" y1="1474" x2="745.01" y2="1479.8" stroke="#333333" stroke-width="1.9"/>
<line x1="755.32" y1="1474" x2="755.32" y2="1479.8" stroke="#333333" stroke-width="1.9"/>
<line x1="765.63" y1="1474" x2="765.63" y2="1479.8" stroke="#333333" stroke-width="1.9"/>
<line x1="775.94" y1="1474" x2="775.94" y2="1479.8" stroke="#333333" stroke-width="1.9"/>
<line x1="786.25" y1="1474" x2="786.25" y2="1479.8" stroke="#333333" stroke-width="1.9"/>
<line x1="796.56" y1="1474" x2="796.56" y2="1479.8" stroke="#333333" stroke-width="1.9"/>
<line x1="806.87" y1="1474" x2="806.87" y2="1479.8" stroke="#333333" stroke-width="1.9"/>
<line x1="817.18" y1="1474" x2="817.18" y2="1479.8" stroke="#333333" stroke-width="1.9"/>
<line x1="827.49" y1="1474" x2="827.49" y2="1479.8" stroke="#333333" stroke-width="1.9"/>
<line x1="837.8" y1="1474" x2="837.8" y2="1479.8" stroke="#333333" stroke-width="1.9"/>
<text x="85.2" y="794.7" font-size="27.6" text-anchor="start" fill="#000" >HC</text>
<text x="521.8" y="794.7" font-size="27.6" text-anchor="start" fill="#000" >SAD</text>
<text transform="translate(27.9,1142.8) rotate(-90)" font-size="22.9" text-anchor="middle" fill="#000">Proportion</text>
<text x="0" y="0" font-size="48.6" font-weight="bold" fill="#000" transform="translate(-0.1,794.0) scale(0.825,1)">C</text>
<text x="892.2" y="843.6" font-size="23.1" text-anchor="start" fill="#000" >Species Key</text>
<rect x="893.1" y="857.10" width="34.5" height="20.83" fill="#F26A73" stroke="#000" stroke-width="2.0"/>
<text x="939.6" y="870.85" font-size="14.6" text-anchor="start" fill="#000" >Bifidobacterium adolescentis</text>
<rect x="893.1" y="877.93" width="34.5" height="20.83" fill="#EC715A" stroke="#000" stroke-width="2.0"/>
<text x="939.6" y="891.68" font-size="14.6" text-anchor="start" fill="#000" >Bifidobacterium longum</text>
<rect x="893.1" y="898.76" width="34.5" height="20.83" fill="#E5783A" stroke="#000" stroke-width="2.0"/>
<text x="939.6" y="912.51" font-size="14.6" text-anchor="start" fill="#000" >Bacteroides dorei</text>
<rect x="893.1" y="919.59" width="34.5" height="20.83" fill="#DD7F00" stroke="#000" stroke-width="2.0"/>
<text x="939.6" y="933.34" font-size="14.6" text-anchor="start" fill="#000" >Bacteroides eggerthii</text>
<rect x="893.1" y="940.42" width="34.5" height="20.83" fill="#D38500" stroke="#000" stroke-width="2.0"/>
<text x="939.6" y="954.17" font-size="14.6" text-anchor="start" fill="#000" >Bacteroides intestinalis</text>
<rect x="893.1" y="961.25" width="34.5" height="20.83" fill="#C98B00" stroke="#000" stroke-width="2.0"/>
<text x="939.6" y="975" font-size="14.6" text-anchor="start" fill="#000" >Bacteroides ovatus</text>
<rect x="893.1" y="982.08" width="34.5" height="20.83" fill="#BC9100" stroke="#000" stroke-width="2.0"/>
<text x="939.6" y="995.83" font-size="14.6" text-anchor="start" fill="#000" >Bacteroides plebeius</text>
<rect x="893.1" y="1002.91" width="34.5" height="20.83" fill="#AF9700" stroke="#000" stroke-width="2.0"/>
<text x="939.6" y="1016.66" font-size="14.6" text-anchor="start" fill="#000" >Bacteroides stercoris</text>
<rect x="893.1" y="1023.74" width="34.5" height="20.83" fill="#9F9C00" stroke="#000" stroke-width="2.0"/>
<text x="939.6" y="1037.49" font-size="14.6" text-anchor="start" fill="#000" >Bacteroides uniformis</text>
<rect x="893.1" y="1044.57" width="34.5" height="20.83" fill="#8DA100" stroke="#000" stroke-width="2.0"/>
<text x="939.6" y="1058.32" font-size="14.6" text-anchor="start" fill="#000" >Bacteroides vulgatus</text>
<rect x="893.1" y="1065.40" width="34.5" height="20.83" fill="#78A500" stroke="#000" stroke-width="2.0"/>
<text x="939.6" y="1079.15" font-size="14.6" text-anchor="start" fill="#000" >Prevotella copri</text>
<rect x="893.1" y="1086.23" width="34.5" height="20.83" fill="#5DAA00" stroke="#000" stroke-width="2.0"/>
<text x="939.6" y="1099.98" font-size="14.6" text-anchor="start" fill="#000" >Alistipes finegoldii</text>
<rect x="893.1" y="1107.06" width="34.5" height="20.83" fill="#33AD00" stroke="#000" stroke-width="2.0"/>
<text x="939.6" y="1120.81" font-size="14.6" text-anchor="start" fill="#000" >Alistipes putredinis</text>
<rect x="893.1" y="1127.89" width="34.5" height="20.83" fill="#00B015" stroke="#000" stroke-width="2.0"/>
<text x="939.6" y="1141.64" font-size="14.6" text-anchor="start" fill="#000" >Parabacteroides goldsteinii</text>
<rect x="893.1" y="1148.72" width="34.5" height="20.83" fill="#00B344" stroke="#000" stroke-width="2.0"/>
<text x="939.6" y="1162.47" font-size="14.6" text-anchor="start" fill="#000" >Clostridium sp_CAG_411</text>
<rect x="893.1" y="1169.55" width="34.5" height="20.83" fill="#00B560" stroke="#000" stroke-width="2.0"/>
<text x="939.6" y="1183.3" font-size="14.6" text-anchor="start" fill="#000" >Eubacterium sp_CAG_180</text>
<rect x="893.1" y="1190.38" width="34.5" height="20.83" fill="#00B777" stroke="#000" stroke-width="2.0"/>
<text x="939.6" y="1204.13" font-size="14.6" text-anchor="start" fill="#000" >Ruminococcus torques</text>
<rect x="893.1" y="1211.21" width="34.5" height="20.83" fill="#00B88C" stroke="#000" stroke-width="2.0"/>
<text x="939.6" y="1224.96" font-size="14.6" text-anchor="start" fill="#000" >Coprococcus eutactus</text>
<rect x="893.1" y="1232.04" width="34.5" height="20.83" fill="#00B99E" stroke="#000" stroke-width="2.0"/>
<text x="939.6" y="1245.79" font-size="14.6" text-anchor="start" fill="#000" >Fusicatenibacter saccharivorans</text>
<rect x="893.1" y="1252.87" width="34.5" height="20.83" fill="#00B8B0" stroke="#000" stroke-width="2.0"/>
<text x="939.6" y="1266.62" font-size="14.6" text-anchor="start" fill="#000" >Eubacterium rectale</text>
<rect x="893.1" y="1273.70" width="34.5" height="20.83" fill="#00B7C0" stroke="#000" stroke-width="2.0"/>
<text x="939.6" y="1287.45" font-size="14.6" text-anchor="start" fill="#000" >Roseburia faecis</text>
<rect x="893.1" y="1294.53" width="34.5" height="20.83" fill="#00B4CF" stroke="#000" stroke-width="2.0"/>
<text x="939.6" y="1308.28" font-size="14.6" text-anchor="start" fill="#000" >Faecalibacterium prausnitzii</text>
<rect x="893.1" y="1315.36" width="34.5" height="20.83" fill="#00B1DD" stroke="#000" stroke-width="2.0"/>
<text x="939.6" y="1329.11" font-size="14.6" text-anchor="start" fill="#000" >Eubacterium siraeum</text>
<rect x="893.1" y="1336.19" width="34.5" height="20.83" fill="#00ACE8" stroke="#000" stroke-width="2.0"/>
<text x="939.6" y="1349.94" font-size="14.6" text-anchor="start" fill="#000" >Ruminococcus bicirculans</text>
<rect x="893.1" y="1357.02" width="34.5" height="20.83" fill="#00A5F2" stroke="#000" stroke-width="2.0"/>
<text x="939.6" y="1370.77" font-size="14.6" text-anchor="start" fill="#000" >Ruminococcus bromii</text>
<rect x="893.1" y="1377.85" width="34.5" height="20.83" fill="#009EFA" stroke="#000" stroke-width="2.0"/>
<text x="939.6" y="1391.6" font-size="14.6" text-anchor="start" fill="#000" >Firmicutes bacterium_CAG_83</text>
<rect x="893.1" y="1398.68" width="34.5" height="20.83" fill="#4E95FF" stroke="#000" stroke-width="2.0"/>
<text x="939.6" y="1412.43" font-size="14.6" text-anchor="start" fill="#000" >Phascolarctobacterium succinatutens</text>
<rect x="893.1" y="1419.51" width="34.5" height="20.83" fill="#7E8CFF" stroke="#000" stroke-width="2.0"/>
<text x="939.6" y="1433.26" font-size="14.6" text-anchor="start" fill="#000" >Akkermansia muciniphila</text>
<rect x="893.1" y="1440.34" width="34.5" height="20.83" fill="#ABABAB" stroke="#000" stroke-width="2.0"/>
<text x="939.6" y="1454.09" font-size="14.6" text-anchor="start" fill="#000" >Rare Taxa</text>
</svg></body></html>
